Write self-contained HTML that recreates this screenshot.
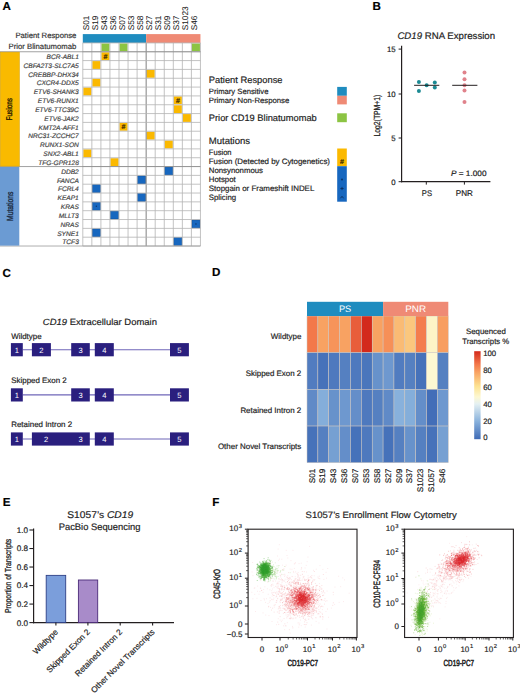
<!DOCTYPE html>
<html><head><meta charset="utf-8"><style>
html,body{margin:0;padding:0;background:#fff;width:520px;height:693px;overflow:hidden}
svg{display:block;font-family:"Liberation Sans", sans-serif;text-rendering:geometricPrecision}
</style></head><body>
<svg width="520" height="693" viewBox="0 0 520 693">
<rect width="520" height="693" fill="#fff"/>
<text x="2.60" y="10.40" font-size="11.6" stroke="#000" stroke-width="0.18" font-weight="bold" fill="#000">A</text>
<text x="372.40" y="10.00" font-size="11.6" stroke="#000" stroke-width="0.18" font-weight="bold" fill="#000">B</text>
<text x="2.60" y="276.50" font-size="11.6" stroke="#000" stroke-width="0.18" font-weight="bold" fill="#000">C</text>
<text x="212.00" y="276.30" font-size="11.6" stroke="#000" stroke-width="0.18" font-weight="bold" fill="#000">D</text>
<text x="2.80" y="505.80" font-size="11.6" stroke="#000" stroke-width="0.18" font-weight="bold" fill="#000">E</text>
<text x="212.20" y="505.60" font-size="11.6" stroke="#000" stroke-width="0.18" font-weight="bold" fill="#000">F</text>
<rect x="82.80" y="34.10" width="63.35" height="8.83" fill="#1f8cbf"/>
<rect x="146.15" y="34.10" width="54.30" height="8.83" fill="#ef8a75"/>
<rect x="101.40" y="43.43" width="8.05" height="7.83" fill="#8cc443"/>
<rect x="119.50" y="43.43" width="8.05" height="7.83" fill="#8cc443"/>
<rect x="191.90" y="43.43" width="8.05" height="7.83" fill="#8cc443"/>
<rect x="101.40" y="52.26" width="8.05" height="7.83" fill="#fbb900"/>
<text x="105.43" y="58.68" font-size="7" stroke="#3b2a00" stroke-width="0.18" text-anchor="middle" font-weight="bold" fill="#3b2a00">#</text>
<rect x="92.35" y="61.09" width="8.05" height="7.83" fill="#fbb900"/>
<rect x="146.65" y="69.92" width="8.05" height="7.83" fill="#fbb900"/>
<rect x="92.35" y="78.75" width="8.05" height="7.83" fill="#fbb900"/>
<rect x="83.30" y="87.58" width="8.05" height="7.83" fill="#fbb900"/>
<rect x="173.80" y="96.41" width="8.05" height="7.83" fill="#fbb900"/>
<text x="177.83" y="102.83" font-size="7" stroke="#3b2a00" stroke-width="0.18" text-anchor="middle" font-weight="bold" fill="#3b2a00">#</text>
<rect x="173.80" y="105.24" width="8.05" height="7.83" fill="#fbb900"/>
<rect x="182.85" y="114.07" width="8.05" height="7.83" fill="#fbb900"/>
<rect x="119.50" y="122.90" width="8.05" height="7.83" fill="#fbb900"/>
<text x="123.53" y="129.31" font-size="7" stroke="#3b2a00" stroke-width="0.18" text-anchor="middle" font-weight="bold" fill="#3b2a00">#</text>
<rect x="146.65" y="131.73" width="8.05" height="7.83" fill="#fbb900"/>
<rect x="164.75" y="140.56" width="8.05" height="7.83" fill="#fbb900"/>
<rect x="83.30" y="149.39" width="8.05" height="7.83" fill="#fbb900"/>
<rect x="110.45" y="158.22" width="8.05" height="7.83" fill="#fbb900"/>
<rect x="164.75" y="167.05" width="8.05" height="7.83" fill="#1767bf" stroke="#0f4f98" stroke-width="0.6"/>
<rect x="137.60" y="175.88" width="8.05" height="7.83" fill="#1767bf" stroke="#0f4f98" stroke-width="0.6"/>
<rect x="92.35" y="184.71" width="8.05" height="7.83" fill="#1767bf" stroke="#0f4f98" stroke-width="0.6"/>
<rect x="137.60" y="193.54" width="8.05" height="7.83" fill="#1767bf" stroke="#0f4f98" stroke-width="0.6"/>
<rect x="92.35" y="202.37" width="8.05" height="7.83" fill="#1767bf" stroke="#0f4f98" stroke-width="0.6"/>
<circle cx="96.38" cy="206.28" r="0.75" fill="#0c3670"/>
<rect x="110.45" y="211.20" width="8.05" height="7.83" fill="#1767bf" stroke="#0f4f98" stroke-width="0.6"/>
<rect x="191.90" y="220.03" width="8.05" height="7.83" fill="#1767bf" stroke="#0f4f98" stroke-width="0.6"/>
<circle cx="195.93" cy="223.94" r="0.75" fill="#0c3670"/>
<rect x="92.35" y="228.86" width="8.05" height="7.83" fill="#1767bf" stroke="#0f4f98" stroke-width="0.6"/>
<rect x="173.80" y="237.69" width="8.05" height="7.83" fill="#1767bf" stroke="#0f4f98" stroke-width="0.6"/>
<line x1="82.80" y1="42.93" x2="82.80" y2="246.02" stroke="#b4b4b4" stroke-width="0.8"/>
<line x1="91.85" y1="42.93" x2="91.85" y2="246.02" stroke="#b4b4b4" stroke-width="0.8"/>
<line x1="100.90" y1="42.93" x2="100.90" y2="246.02" stroke="#b4b4b4" stroke-width="0.8"/>
<line x1="109.95" y1="42.93" x2="109.95" y2="246.02" stroke="#b4b4b4" stroke-width="0.8"/>
<line x1="119.00" y1="42.93" x2="119.00" y2="246.02" stroke="#b4b4b4" stroke-width="0.8"/>
<line x1="128.05" y1="42.93" x2="128.05" y2="246.02" stroke="#b4b4b4" stroke-width="0.8"/>
<line x1="137.10" y1="42.93" x2="137.10" y2="246.02" stroke="#b4b4b4" stroke-width="0.8"/>
<line x1="146.15" y1="42.93" x2="146.15" y2="246.02" stroke="#808080" stroke-width="1.0"/>
<line x1="155.20" y1="42.93" x2="155.20" y2="246.02" stroke="#b4b4b4" stroke-width="0.8"/>
<line x1="164.25" y1="42.93" x2="164.25" y2="246.02" stroke="#b4b4b4" stroke-width="0.8"/>
<line x1="173.30" y1="42.93" x2="173.30" y2="246.02" stroke="#b4b4b4" stroke-width="0.8"/>
<line x1="182.35" y1="42.93" x2="182.35" y2="246.02" stroke="#b4b4b4" stroke-width="0.8"/>
<line x1="191.40" y1="42.93" x2="191.40" y2="246.02" stroke="#b4b4b4" stroke-width="0.8"/>
<line x1="200.45" y1="42.93" x2="200.45" y2="246.02" stroke="#b4b4b4" stroke-width="0.8"/>
<line x1="82.80" y1="42.93" x2="200.45" y2="42.93" stroke="#b4b4b4" stroke-width="0.8"/>
<line x1="82.80" y1="51.76" x2="200.45" y2="51.76" stroke="#b4b4b4" stroke-width="0.8"/>
<line x1="82.80" y1="60.59" x2="200.45" y2="60.59" stroke="#b4b4b4" stroke-width="0.8"/>
<line x1="82.80" y1="69.42" x2="200.45" y2="69.42" stroke="#b4b4b4" stroke-width="0.8"/>
<line x1="82.80" y1="78.25" x2="200.45" y2="78.25" stroke="#b4b4b4" stroke-width="0.8"/>
<line x1="82.80" y1="87.08" x2="200.45" y2="87.08" stroke="#b4b4b4" stroke-width="0.8"/>
<line x1="82.80" y1="95.91" x2="200.45" y2="95.91" stroke="#b4b4b4" stroke-width="0.8"/>
<line x1="82.80" y1="104.74" x2="200.45" y2="104.74" stroke="#b4b4b4" stroke-width="0.8"/>
<line x1="82.80" y1="113.57" x2="200.45" y2="113.57" stroke="#b4b4b4" stroke-width="0.8"/>
<line x1="82.80" y1="122.40" x2="200.45" y2="122.40" stroke="#b4b4b4" stroke-width="0.8"/>
<line x1="82.80" y1="131.23" x2="200.45" y2="131.23" stroke="#b4b4b4" stroke-width="0.8"/>
<line x1="82.80" y1="140.06" x2="200.45" y2="140.06" stroke="#b4b4b4" stroke-width="0.8"/>
<line x1="82.80" y1="148.89" x2="200.45" y2="148.89" stroke="#b4b4b4" stroke-width="0.8"/>
<line x1="82.80" y1="157.72" x2="200.45" y2="157.72" stroke="#b4b4b4" stroke-width="0.8"/>
<line x1="82.80" y1="166.55" x2="200.45" y2="166.55" stroke="#b4b4b4" stroke-width="0.8"/>
<line x1="82.80" y1="175.38" x2="200.45" y2="175.38" stroke="#b4b4b4" stroke-width="0.8"/>
<line x1="82.80" y1="184.21" x2="200.45" y2="184.21" stroke="#b4b4b4" stroke-width="0.8"/>
<line x1="82.80" y1="193.04" x2="200.45" y2="193.04" stroke="#b4b4b4" stroke-width="0.8"/>
<line x1="82.80" y1="201.87" x2="200.45" y2="201.87" stroke="#b4b4b4" stroke-width="0.8"/>
<line x1="82.80" y1="210.70" x2="200.45" y2="210.70" stroke="#b4b4b4" stroke-width="0.8"/>
<line x1="82.80" y1="219.53" x2="200.45" y2="219.53" stroke="#b4b4b4" stroke-width="0.8"/>
<line x1="82.80" y1="228.36" x2="200.45" y2="228.36" stroke="#b4b4b4" stroke-width="0.8"/>
<line x1="82.80" y1="237.19" x2="200.45" y2="237.19" stroke="#b4b4b4" stroke-width="0.8"/>
<line x1="82.80" y1="246.02" x2="200.45" y2="246.02" stroke="#b4b4b4" stroke-width="0.8"/>
<line x1="0.00" y1="51.76" x2="200.45" y2="51.76" stroke="#8a8a8a" stroke-width="0.8"/>
<line x1="0.00" y1="166.55" x2="200.45" y2="166.55" stroke="#8a8a8a" stroke-width="0.8"/>
<line x1="0.00" y1="246.02" x2="200.45" y2="246.02" stroke="#9a9a9a" stroke-width="0.8"/>
<rect x="0.30" y="52.16" width="19.00" height="113.99" fill="#f9ba00" stroke="#d9a200" stroke-width="0.6"/>
<rect x="0.00" y="166.95" width="19.30" height="78.67" fill="#6b9bd3"/>
<text x="12.30" y="109.16" font-size="8.4" text-anchor="middle" fill="#2a2000" textLength="22.5" lengthAdjust="spacingAndGlyphs" transform="rotate(-90 12.30 109.16)" stroke="#2a2000" stroke-width="0.35">Fusions</text>
<text x="12.90" y="206.28" font-size="8.8" text-anchor="middle" fill="#1a2a40" textLength="29.3" lengthAdjust="spacingAndGlyphs" transform="rotate(-90 12.90 206.28)" stroke="#1a2a40" stroke-width="0.35">Mutations</text>
<text x="76.40" y="37.60" font-size="7.7" stroke="#333" stroke-width="0.18" text-anchor="end" fill="#333" textLength="61" lengthAdjust="spacingAndGlyphs">Patient Response</text>
<text x="76.40" y="48.70" font-size="7.7" stroke="#333" stroke-width="0.18" text-anchor="end" fill="#333" textLength="67.9" lengthAdjust="spacingAndGlyphs">Prior Blinatumomab</text>
<text x="78.80" y="58.98" font-size="6.6" stroke="#444" stroke-width="0.18" text-anchor="end" font-style="italic" fill="#444">BCR-ABL1</text>
<text x="78.80" y="67.81" font-size="6.6" stroke="#444" stroke-width="0.18" text-anchor="end" font-style="italic" fill="#444">CBFA2T3-SLC7A5</text>
<text x="78.80" y="76.64" font-size="6.6" stroke="#444" stroke-width="0.18" text-anchor="end" font-style="italic" fill="#444">CREBBP-DHX34</text>
<text x="78.80" y="85.47" font-size="6.6" stroke="#444" stroke-width="0.18" text-anchor="end" font-style="italic" fill="#444">CXCR4-DDX5</text>
<text x="78.80" y="94.30" font-size="6.6" stroke="#444" stroke-width="0.18" text-anchor="end" font-style="italic" fill="#444">ETV6-SHANK3</text>
<text x="78.80" y="103.12" font-size="6.6" stroke="#444" stroke-width="0.18" text-anchor="end" font-style="italic" fill="#444">ETV6-RUNX1</text>
<text x="78.80" y="111.96" font-size="6.6" stroke="#444" stroke-width="0.18" text-anchor="end" font-style="italic" fill="#444">ETV6-TTC39C</text>
<text x="78.80" y="120.78" font-size="6.6" stroke="#444" stroke-width="0.18" text-anchor="end" font-style="italic" fill="#444">ETV6-JAK2</text>
<text x="78.80" y="129.62" font-size="6.6" stroke="#444" stroke-width="0.18" text-anchor="end" font-style="italic" fill="#444">KMT2A-AFF1</text>
<text x="78.80" y="138.44" font-size="6.6" stroke="#444" stroke-width="0.18" text-anchor="end" font-style="italic" fill="#444">NRC31-ZCCHC7</text>
<text x="78.80" y="147.28" font-size="6.6" stroke="#444" stroke-width="0.18" text-anchor="end" font-style="italic" fill="#444">RUNX1-SON</text>
<text x="78.80" y="156.11" font-size="6.6" stroke="#444" stroke-width="0.18" text-anchor="end" font-style="italic" fill="#444">SNX2-ABL1</text>
<text x="78.80" y="164.94" font-size="6.6" stroke="#444" stroke-width="0.18" text-anchor="end" font-style="italic" fill="#444">TFG-GPR128</text>
<text x="78.80" y="173.76" font-size="6.6" stroke="#444" stroke-width="0.18" text-anchor="end" font-style="italic" fill="#444">DDB2</text>
<text x="78.80" y="182.59" font-size="6.6" stroke="#444" stroke-width="0.18" text-anchor="end" font-style="italic" fill="#444">FANCA</text>
<text x="78.80" y="191.43" font-size="6.6" stroke="#444" stroke-width="0.18" text-anchor="end" font-style="italic" fill="#444">FCRL4</text>
<text x="78.80" y="200.25" font-size="6.6" stroke="#444" stroke-width="0.18" text-anchor="end" font-style="italic" fill="#444">KEAP1</text>
<text x="78.80" y="209.09" font-size="6.6" stroke="#444" stroke-width="0.18" text-anchor="end" font-style="italic" fill="#444">KRAS</text>
<text x="78.80" y="217.91" font-size="6.6" stroke="#444" stroke-width="0.18" text-anchor="end" font-style="italic" fill="#444">MLLT3</text>
<text x="78.80" y="226.75" font-size="6.6" stroke="#444" stroke-width="0.18" text-anchor="end" font-style="italic" fill="#444">NRAS</text>
<text x="78.80" y="235.57" font-size="6.6" stroke="#444" stroke-width="0.18" text-anchor="end" font-style="italic" fill="#444">SYNE1</text>
<text x="78.80" y="244.41" font-size="6.6" stroke="#444" stroke-width="0.18" text-anchor="end" font-style="italic" fill="#444">TCF3</text>
<text x="88.83" y="30.30" font-size="8.3" stroke="#222" stroke-width="0.05" fill="#222" transform="rotate(-90 88.83 30.30)">S01</text>
<text x="97.88" y="30.30" font-size="8.3" stroke="#222" stroke-width="0.05" fill="#222" transform="rotate(-90 97.88 30.30)">S19</text>
<text x="106.93" y="30.30" font-size="8.3" stroke="#222" stroke-width="0.05" fill="#222" transform="rotate(-90 106.93 30.30)">S43</text>
<text x="115.98" y="30.30" font-size="8.3" stroke="#222" stroke-width="0.05" fill="#222" transform="rotate(-90 115.98 30.30)">S36</text>
<text x="125.03" y="30.30" font-size="8.3" stroke="#222" stroke-width="0.05" fill="#222" transform="rotate(-90 125.03 30.30)">S07</text>
<text x="134.08" y="30.30" font-size="8.3" stroke="#222" stroke-width="0.05" fill="#222" transform="rotate(-90 134.08 30.30)">S53</text>
<text x="143.12" y="30.30" font-size="8.3" stroke="#222" stroke-width="0.05" fill="#222" transform="rotate(-90 143.12 30.30)">S58</text>
<text x="152.18" y="30.30" font-size="8.3" stroke="#222" stroke-width="0.05" fill="#222" transform="rotate(-90 152.18 30.30)">S27</text>
<text x="161.22" y="30.30" font-size="8.3" stroke="#222" stroke-width="0.05" fill="#222" transform="rotate(-90 161.22 30.30)">S31</text>
<text x="170.28" y="30.30" font-size="8.3" stroke="#222" stroke-width="0.05" fill="#222" transform="rotate(-90 170.28 30.30)">S09</text>
<text x="179.33" y="30.30" font-size="8.3" stroke="#222" stroke-width="0.05" fill="#222" transform="rotate(-90 179.33 30.30)">S37</text>
<text x="188.38" y="30.30" font-size="8.3" stroke="#222" stroke-width="0.05" fill="#222" transform="rotate(-90 188.38 30.30)">S1023</text>
<text x="197.43" y="30.30" font-size="8.3" stroke="#222" stroke-width="0.05" fill="#222" transform="rotate(-90 197.43 30.30)">S46</text>
<text x="208.80" y="83.10" font-size="9.3" stroke="#222" stroke-width="0.18" fill="#222" textLength="73.7" lengthAdjust="spacingAndGlyphs">Patient Response</text>
<text x="208.80" y="93.80" font-size="7.7" stroke="#222" stroke-width="0.18" fill="#222" textLength="59.6" lengthAdjust="spacingAndGlyphs">Primary Sensitive</text>
<text x="208.80" y="102.50" font-size="7.7" stroke="#222" stroke-width="0.18" fill="#222" textLength="80.5" lengthAdjust="spacingAndGlyphs">Primary Non-Response</text>
<text x="208.80" y="120.50" font-size="9.3" stroke="#222" stroke-width="0.18" fill="#222" textLength="108" lengthAdjust="spacingAndGlyphs">Prior CD19 Blinatumomab</text>
<text x="208.80" y="144.10" font-size="9.5" stroke="#222" stroke-width="0.18" fill="#222" textLength="41.3" lengthAdjust="spacingAndGlyphs">Mutations</text>
<text x="208.80" y="155.40" font-size="7.8" stroke="#222" stroke-width="0.18" fill="#222" textLength="22.8" lengthAdjust="spacingAndGlyphs">Fusion</text>
<text x="208.80" y="164.27" font-size="7.8" stroke="#222" stroke-width="0.18" fill="#222" textLength="121.2" lengthAdjust="spacingAndGlyphs">Fusion (Detected by Cytogenetics)</text>
<text x="208.80" y="173.14" font-size="7.8" stroke="#222" stroke-width="0.18" fill="#222">Nonsynonmous</text>
<text x="208.80" y="182.01" font-size="7.8" stroke="#222" stroke-width="0.18" fill="#222">Hotspot</text>
<text x="208.80" y="190.88" font-size="7.8" stroke="#222" stroke-width="0.18" fill="#222" textLength="105.5" lengthAdjust="spacingAndGlyphs">Stopgain or Frameshift INDEL</text>
<text x="208.80" y="199.75" font-size="7.8" stroke="#222" stroke-width="0.18" fill="#222">Splicing</text>
<rect x="337.20" y="86.90" width="9.60" height="8.90" fill="#1f8cbf"/>
<rect x="337.20" y="95.80" width="9.60" height="8.60" fill="#ef8a75"/>
<rect x="337.20" y="113.30" width="9.60" height="8.90" fill="#8cc443"/>
<rect x="337.20" y="148.50" width="9.60" height="17.70" fill="#fbb900"/>
<text x="342.00" y="164.30" font-size="7" stroke="#3b2a00" stroke-width="0.18" text-anchor="middle" font-weight="bold" fill="#3b2a00">#</text>
<rect x="337.20" y="166.20" width="9.60" height="35.50" fill="#1767bf"/>
<circle cx="342.00" cy="179.5" r="0.9" fill="#0a2f60"/>
<path d="M340.40 188.5h3.2M342.00 186.9v3.2" stroke="#0a2f60" stroke-width="0.9" fill="none"/>
<path d="M340.40 198.3l1.6-2l1.6 2" stroke="#0a2f60" stroke-width="0.9" fill="none"/>
<text x="397.40" y="39.00" font-size="9.6" stroke="#222" stroke-width="0.18" fill="#222" textLength="97.7" lengthAdjust="spacingAndGlyphs"><tspan font-style="italic">CD19</tspan> RNA Expression</text>
<line x1="401.60" y1="45.80" x2="401.60" y2="182.20" stroke="#231f20" stroke-width="1.2"/>
<line x1="401.00" y1="181.60" x2="490.40" y2="181.60" stroke="#231f20" stroke-width="1.2"/>
<line x1="398.60" y1="181.70" x2="401.60" y2="181.70" stroke="#231f20" stroke-width="1"/>
<text x="395.60" y="184.50" font-size="7.8" stroke="#222" stroke-width="0.18" text-anchor="end" fill="#222">0</text>
<line x1="398.60" y1="138.00" x2="401.60" y2="138.00" stroke="#231f20" stroke-width="1"/>
<text x="395.60" y="140.80" font-size="7.8" stroke="#222" stroke-width="0.18" text-anchor="end" fill="#222">5</text>
<line x1="398.60" y1="94.00" x2="401.60" y2="94.00" stroke="#231f20" stroke-width="1"/>
<text x="395.60" y="96.80" font-size="7.8" stroke="#222" stroke-width="0.18" text-anchor="end" fill="#222">10</text>
<line x1="398.60" y1="49.10" x2="401.60" y2="49.10" stroke="#231f20" stroke-width="1"/>
<text x="395.60" y="51.90" font-size="7.8" stroke="#222" stroke-width="0.18" text-anchor="end" fill="#222">15</text>
<line x1="426.30" y1="181.80" x2="426.30" y2="184.60" stroke="#231f20" stroke-width="1"/>
<line x1="464.40" y1="181.80" x2="464.40" y2="184.60" stroke="#231f20" stroke-width="1"/>
<text x="426.90" y="195.70" font-size="8.2" stroke="#222" stroke-width="0.18" text-anchor="middle" fill="#222" textLength="10.2" lengthAdjust="spacingAndGlyphs">PS</text>
<text x="464.35" y="195.70" font-size="8.2" stroke="#222" stroke-width="0.18" text-anchor="middle" fill="#222" textLength="17.1" lengthAdjust="spacingAndGlyphs">PNR</text>
<text x="450.90" y="176.40" font-size="7.8" stroke="#222" stroke-width="0.18" fill="#222" textLength="35.6" lengthAdjust="spacingAndGlyphs"><tspan font-style="italic">P</tspan> = 1.000</text>
<text x="379.60" y="115.60" font-size="8.8" text-anchor="middle" fill="#222" textLength="42" lengthAdjust="spacingAndGlyphs" transform="rotate(-90 379.60 115.60)" stroke="#222" stroke-width="0.25">Log2(TPM+1)</text>
<circle cx="418.9" cy="82.1" r="2.0" fill="#1c8a93"/>
<circle cx="418.9" cy="91.1" r="2.0" fill="#1c8a93"/>
<circle cx="426.65" cy="85.3" r="2.0" fill="#1c8a93"/>
<circle cx="434.8" cy="82.4" r="2.0" fill="#1c8a93"/>
<circle cx="434.8" cy="87.6" r="2.0" fill="#1c8a93"/>
<circle cx="464.5" cy="72.4" r="2.0" fill="#e0828b"/>
<circle cx="464.5" cy="79.3" r="2.0" fill="#e0828b"/>
<circle cx="464.5" cy="85.3" r="2.0" fill="#e0828b"/>
<circle cx="464.5" cy="90.5" r="2.0" fill="#e0828b"/>
<circle cx="464.5" cy="102.0" r="2.0" fill="#e0828b"/>
<line x1="414.10" y1="85.30" x2="439.30" y2="85.30" stroke="#231f20" stroke-width="1.0"/>
<line x1="452.20" y1="85.30" x2="477.40" y2="85.30" stroke="#231f20" stroke-width="1.0"/>
<text x="42.80" y="325.30" font-size="9.0" stroke="#222" stroke-width="0.18" fill="#222" textLength="114.2" lengthAdjust="spacingAndGlyphs"><tspan font-style="italic">CD19</tspan> Extracellular Domain</text>
<text x="11.20" y="338.60" font-size="7.95" stroke="#222" stroke-width="0.18" fill="#222">Wildtype</text>
<line x1="22.80" y1="349.70" x2="170.00" y2="349.70" stroke="#6f66b8" stroke-width="1.1"/>
<rect x="10.90" y="343.10" width="11.90" height="13.20" fill="#2a1f7e"/>
<text x="16.85" y="352.50" font-size="7.6" text-anchor="middle" fill="#fff">1</text>
<rect x="31.90" y="343.10" width="19.00" height="13.20" fill="#2a1f7e"/>
<text x="41.40" y="352.50" font-size="7.6" text-anchor="middle" fill="#fff">2</text>
<rect x="71.20" y="343.10" width="18.60" height="13.20" fill="#2a1f7e"/>
<text x="80.50" y="352.50" font-size="7.6" text-anchor="middle" fill="#fff">3</text>
<rect x="94.80" y="343.10" width="19.00" height="13.20" fill="#2a1f7e"/>
<text x="104.30" y="352.50" font-size="7.6" text-anchor="middle" fill="#fff">4</text>
<rect x="170.00" y="343.10" width="18.90" height="13.20" fill="#2a1f7e"/>
<text x="179.45" y="352.50" font-size="7.6" text-anchor="middle" fill="#fff">5</text>
<text x="11.20" y="382.60" font-size="7.95" stroke="#222" stroke-width="0.18" fill="#222">Skipped Exon 2</text>
<line x1="22.80" y1="394.90" x2="170.00" y2="394.90" stroke="#6f66b8" stroke-width="1.1"/>
<rect x="10.90" y="388.30" width="11.90" height="13.20" fill="#2a1f7e"/>
<text x="16.85" y="397.70" font-size="7.6" text-anchor="middle" fill="#fff">1</text>
<rect x="71.20" y="388.30" width="18.60" height="13.20" fill="#2a1f7e"/>
<text x="80.50" y="397.70" font-size="7.6" text-anchor="middle" fill="#fff">3</text>
<rect x="94.80" y="388.30" width="19.00" height="13.20" fill="#2a1f7e"/>
<text x="104.30" y="397.70" font-size="7.6" text-anchor="middle" fill="#fff">4</text>
<rect x="170.00" y="388.30" width="18.90" height="13.20" fill="#2a1f7e"/>
<text x="179.45" y="397.70" font-size="7.6" text-anchor="middle" fill="#fff">5</text>
<text x="11.20" y="427.20" font-size="7.95" stroke="#222" stroke-width="0.18" fill="#222">Retained Intron 2</text>
<line x1="22.80" y1="439.00" x2="170.00" y2="439.00" stroke="#6f66b8" stroke-width="1.1"/>
<rect x="10.90" y="432.40" width="11.90" height="13.20" fill="#2a1f7e"/>
<text x="16.85" y="441.80" font-size="7.6" text-anchor="middle" fill="#fff">1</text>
<rect x="31.90" y="432.40" width="57.90" height="13.20" fill="#2a1f7e"/>
<text x="46.20" y="441.80" font-size="7.6" text-anchor="middle" fill="#fff">2</text>
<text x="80.50" y="441.80" font-size="7.6" text-anchor="middle" fill="#fff">3</text>
<rect x="94.80" y="432.40" width="19.00" height="13.20" fill="#2a1f7e"/>
<text x="104.30" y="441.80" font-size="7.6" text-anchor="middle" fill="#fff">4</text>
<rect x="170.00" y="432.40" width="18.90" height="13.20" fill="#2a1f7e"/>
<text x="179.45" y="441.80" font-size="7.6" text-anchor="middle" fill="#fff">5</text>
<rect x="307.00" y="316.00" width="10.87" height="36.68" fill="#f3784a" stroke="#cdc6c0" stroke-width="0.5"/>
<rect x="317.87" y="316.00" width="10.87" height="36.68" fill="#f8a262" stroke="#cdc6c0" stroke-width="0.5"/>
<rect x="328.74" y="316.00" width="10.87" height="36.68" fill="#f7945a" stroke="#cdc6c0" stroke-width="0.5"/>
<rect x="339.61" y="316.00" width="10.87" height="36.68" fill="#f8a262" stroke="#cdc6c0" stroke-width="0.5"/>
<rect x="350.48" y="316.00" width="10.87" height="36.68" fill="#e85e3b" stroke="#cdc6c0" stroke-width="0.5"/>
<rect x="361.35" y="316.00" width="10.87" height="36.68" fill="#d3291c" stroke="#cdc6c0" stroke-width="0.5"/>
<rect x="372.22" y="316.00" width="10.87" height="36.68" fill="#f8a262" stroke="#cdc6c0" stroke-width="0.5"/>
<rect x="383.09" y="316.00" width="10.87" height="36.68" fill="#f69058" stroke="#cdc6c0" stroke-width="0.5"/>
<rect x="393.96" y="316.00" width="10.87" height="36.68" fill="#fabb74" stroke="#cdc6c0" stroke-width="0.5"/>
<rect x="404.83" y="316.00" width="10.87" height="36.68" fill="#fbc77d" stroke="#cdc6c0" stroke-width="0.5"/>
<rect x="415.70" y="316.00" width="10.87" height="36.68" fill="#f47d4d" stroke="#cdc6c0" stroke-width="0.5"/>
<rect x="426.57" y="316.00" width="10.87" height="36.68" fill="#fdf4c7" stroke="#cdc6c0" stroke-width="0.5"/>
<rect x="437.44" y="316.00" width="10.87" height="36.68" fill="#f89e60" stroke="#cdc6c0" stroke-width="0.5"/>
<rect x="307.00" y="352.68" width="10.87" height="36.68" fill="#517cc0" stroke="#cdc6c0" stroke-width="0.5"/>
<rect x="317.87" y="352.68" width="10.87" height="36.68" fill="#4672ba" stroke="#cdc6c0" stroke-width="0.5"/>
<rect x="328.74" y="352.68" width="10.87" height="36.68" fill="#4e79be" stroke="#cdc6c0" stroke-width="0.5"/>
<rect x="339.61" y="352.68" width="10.87" height="36.68" fill="#5580c1" stroke="#cdc6c0" stroke-width="0.5"/>
<rect x="350.48" y="352.68" width="10.87" height="36.68" fill="#4e79be" stroke="#cdc6c0" stroke-width="0.5"/>
<rect x="361.35" y="352.68" width="10.87" height="36.68" fill="#4a76bc" stroke="#cdc6c0" stroke-width="0.5"/>
<rect x="372.22" y="352.68" width="10.87" height="36.68" fill="#6792cb" stroke="#cdc6c0" stroke-width="0.5"/>
<rect x="383.09" y="352.68" width="10.87" height="36.68" fill="#6e98cf" stroke="#cdc6c0" stroke-width="0.5"/>
<rect x="393.96" y="352.68" width="10.87" height="36.68" fill="#517cc0" stroke="#cdc6c0" stroke-width="0.5"/>
<rect x="404.83" y="352.68" width="10.87" height="36.68" fill="#5580c1" stroke="#cdc6c0" stroke-width="0.5"/>
<rect x="415.70" y="352.68" width="10.87" height="36.68" fill="#4672ba" stroke="#cdc6c0" stroke-width="0.5"/>
<rect x="426.57" y="352.68" width="10.87" height="36.68" fill="#fdf8d2" stroke="#cdc6c0" stroke-width="0.5"/>
<rect x="437.44" y="352.68" width="10.87" height="36.68" fill="#5580c1" stroke="#cdc6c0" stroke-width="0.5"/>
<rect x="307.00" y="389.36" width="10.87" height="36.68" fill="#608ac7" stroke="#cdc6c0" stroke-width="0.5"/>
<rect x="317.87" y="389.36" width="10.87" height="36.68" fill="#84aeda" stroke="#cdc6c0" stroke-width="0.5"/>
<rect x="328.74" y="389.36" width="10.87" height="36.68" fill="#6792cb" stroke="#cdc6c0" stroke-width="0.5"/>
<rect x="339.61" y="389.36" width="10.87" height="36.68" fill="#6e98cf" stroke="#cdc6c0" stroke-width="0.5"/>
<rect x="350.48" y="389.36" width="10.87" height="36.68" fill="#648ec9" stroke="#cdc6c0" stroke-width="0.5"/>
<rect x="361.35" y="389.36" width="10.87" height="36.68" fill="#4e79be" stroke="#cdc6c0" stroke-width="0.5"/>
<rect x="372.22" y="389.36" width="10.87" height="36.68" fill="#5580c1" stroke="#cdc6c0" stroke-width="0.5"/>
<rect x="383.09" y="389.36" width="10.87" height="36.68" fill="#608ac7" stroke="#cdc6c0" stroke-width="0.5"/>
<rect x="393.96" y="389.36" width="10.87" height="36.68" fill="#88b1dc" stroke="#cdc6c0" stroke-width="0.5"/>
<rect x="404.83" y="389.36" width="10.87" height="36.68" fill="#84aeda" stroke="#cdc6c0" stroke-width="0.5"/>
<rect x="415.70" y="389.36" width="10.87" height="36.68" fill="#648ec9" stroke="#cdc6c0" stroke-width="0.5"/>
<rect x="426.57" y="389.36" width="10.87" height="36.68" fill="#436eb8" stroke="#cdc6c0" stroke-width="0.5"/>
<rect x="437.44" y="389.36" width="10.87" height="36.68" fill="#6e98cf" stroke="#cdc6c0" stroke-width="0.5"/>
<rect x="307.00" y="426.04" width="10.87" height="36.68" fill="#4672ba" stroke="#cdc6c0" stroke-width="0.5"/>
<rect x="317.87" y="426.04" width="10.87" height="36.68" fill="#5580c1" stroke="#cdc6c0" stroke-width="0.5"/>
<rect x="328.74" y="426.04" width="10.87" height="36.68" fill="#76a0d2" stroke="#cdc6c0" stroke-width="0.5"/>
<rect x="339.61" y="426.04" width="10.87" height="36.68" fill="#648ec9" stroke="#cdc6c0" stroke-width="0.5"/>
<rect x="350.48" y="426.04" width="10.87" height="36.68" fill="#4672ba" stroke="#cdc6c0" stroke-width="0.5"/>
<rect x="361.35" y="426.04" width="10.87" height="36.68" fill="#4e79be" stroke="#cdc6c0" stroke-width="0.5"/>
<rect x="372.22" y="426.04" width="10.87" height="36.68" fill="#6792cb" stroke="#cdc6c0" stroke-width="0.5"/>
<rect x="383.09" y="426.04" width="10.87" height="36.68" fill="#4672ba" stroke="#cdc6c0" stroke-width="0.5"/>
<rect x="393.96" y="426.04" width="10.87" height="36.68" fill="#5580c1" stroke="#cdc6c0" stroke-width="0.5"/>
<rect x="404.83" y="426.04" width="10.87" height="36.68" fill="#6792cb" stroke="#cdc6c0" stroke-width="0.5"/>
<rect x="415.70" y="426.04" width="10.87" height="36.68" fill="#5580c1" stroke="#cdc6c0" stroke-width="0.5"/>
<rect x="426.57" y="426.04" width="10.87" height="36.68" fill="#4672ba" stroke="#cdc6c0" stroke-width="0.5"/>
<rect x="437.44" y="426.04" width="10.87" height="36.68" fill="#76a0d2" stroke="#cdc6c0" stroke-width="0.5"/>
<rect x="307.00" y="301.80" width="76.09" height="14.20" fill="#1f8cbf"/>
<rect x="383.09" y="301.80" width="65.22" height="14.20" fill="#ef8a75"/>
<text x="345.05" y="311.90" font-size="9.4" text-anchor="middle" fill="#fff" textLength="12.3" lengthAdjust="spacingAndGlyphs">PS</text>
<text x="415.70" y="311.90" font-size="9.4" text-anchor="middle" fill="#fff" textLength="20.9" lengthAdjust="spacingAndGlyphs">PNR</text>
<text x="301.30" y="339.24" font-size="7.95" stroke="#222" stroke-width="0.18" text-anchor="end" fill="#222">Wildtype</text>
<text x="301.30" y="375.92" font-size="7.95" stroke="#222" stroke-width="0.18" text-anchor="end" fill="#222">Skipped Exon 2</text>
<text x="301.30" y="412.60" font-size="7.95" stroke="#222" stroke-width="0.18" text-anchor="end" fill="#222">Retained Intron 2</text>
<text x="301.30" y="449.28" font-size="7.95" stroke="#222" stroke-width="0.18" text-anchor="end" fill="#222">Other Novel Transcripts</text>
<text x="314.63" y="468.60" font-size="8.2" stroke="#222" stroke-width="0.18" text-anchor="end" fill="#222" transform="rotate(-90 314.63 468.60)">S01</text>
<text x="325.50" y="468.60" font-size="8.2" stroke="#222" stroke-width="0.18" text-anchor="end" fill="#222" transform="rotate(-90 325.50 468.60)">S19</text>
<text x="336.38" y="468.60" font-size="8.2" stroke="#222" stroke-width="0.18" text-anchor="end" fill="#222" transform="rotate(-90 336.38 468.60)">S43</text>
<text x="347.25" y="468.60" font-size="8.2" stroke="#222" stroke-width="0.18" text-anchor="end" fill="#222" transform="rotate(-90 347.25 468.60)">S36</text>
<text x="358.12" y="468.60" font-size="8.2" stroke="#222" stroke-width="0.18" text-anchor="end" fill="#222" transform="rotate(-90 358.12 468.60)">S07</text>
<text x="368.99" y="468.60" font-size="8.2" stroke="#222" stroke-width="0.18" text-anchor="end" fill="#222" transform="rotate(-90 368.99 468.60)">S53</text>
<text x="379.86" y="468.60" font-size="8.2" stroke="#222" stroke-width="0.18" text-anchor="end" fill="#222" transform="rotate(-90 379.86 468.60)">S58</text>
<text x="390.72" y="468.60" font-size="8.2" stroke="#222" stroke-width="0.18" text-anchor="end" fill="#222" transform="rotate(-90 390.72 468.60)">S27</text>
<text x="401.59" y="468.60" font-size="8.2" stroke="#222" stroke-width="0.18" text-anchor="end" fill="#222" transform="rotate(-90 401.59 468.60)">S09</text>
<text x="412.46" y="468.60" font-size="8.2" stroke="#222" stroke-width="0.18" text-anchor="end" fill="#222" transform="rotate(-90 412.46 468.60)">S37</text>
<text x="423.33" y="468.60" font-size="8.2" stroke="#222" stroke-width="0.18" text-anchor="end" fill="#222" transform="rotate(-90 423.33 468.60)">S1023</text>
<text x="434.20" y="468.60" font-size="8.2" stroke="#222" stroke-width="0.18" text-anchor="end" fill="#222" transform="rotate(-90 434.20 468.60)">S1057</text>
<text x="445.07" y="468.60" font-size="8.2" stroke="#222" stroke-width="0.18" text-anchor="end" fill="#222" transform="rotate(-90 445.07 468.60)">S46</text>
<text x="485.90" y="334.40" font-size="7.9" stroke="#222" stroke-width="0.18" text-anchor="middle" fill="#222" textLength="39.8" lengthAdjust="spacingAndGlyphs">Sequenced</text>
<text x="485.70" y="343.60" font-size="7.9" stroke="#222" stroke-width="0.18" text-anchor="middle" fill="#222" textLength="47" lengthAdjust="spacingAndGlyphs">Transcripts %</text>
<defs><linearGradient id="cb" x1="0" y1="1" x2="0" y2="0"><stop offset="0.00" stop-color="#3f6bb6"/><stop offset="0.20" stop-color="#88b1dc"/><stop offset="0.40" stop-color="#e4f0f2"/><stop offset="0.48" stop-color="#fdf8d2"/><stop offset="0.60" stop-color="#fde392"/><stop offset="0.75" stop-color="#f9a765"/><stop offset="0.85" stop-color="#f3784a"/><stop offset="1.00" stop-color="#d3291c"/></linearGradient></defs>
<rect x="474.20" y="351.20" width="6.40" height="88.00" fill="url(#cb)"/>
<text x="483.20" y="356.30" font-size="7.8" stroke="#222" stroke-width="0.18" fill="#222">100</text>
<text x="483.20" y="373.10" font-size="7.8" stroke="#222" stroke-width="0.18" fill="#222">80</text>
<text x="483.20" y="389.90" font-size="7.8" stroke="#222" stroke-width="0.18" fill="#222">60</text>
<text x="483.20" y="406.70" font-size="7.8" stroke="#222" stroke-width="0.18" fill="#222">40</text>
<text x="483.20" y="423.50" font-size="7.8" stroke="#222" stroke-width="0.18" fill="#222">20</text>
<text x="483.20" y="440.30" font-size="7.8" stroke="#222" stroke-width="0.18" fill="#222">0</text>
<text x="100.20" y="517.70" font-size="9.8" stroke="#222" stroke-width="0.18" text-anchor="middle" fill="#222" textLength="65.8" lengthAdjust="spacingAndGlyphs">S1057’s <tspan font-style="italic">CD19</tspan></text>
<text x="99.55" y="529.80" font-size="9.4" stroke="#222" stroke-width="0.18" text-anchor="middle" fill="#222" textLength="81.7" lengthAdjust="spacingAndGlyphs">PacBio Sequencing</text>
<line x1="33.60" y1="528.60" x2="33.60" y2="623.20" stroke="#231f20" stroke-width="1.2"/>
<line x1="33.00" y1="622.60" x2="174.00" y2="622.60" stroke="#231f20" stroke-width="1.2"/>
<line x1="29.40" y1="622.60" x2="33.60" y2="622.60" stroke="#231f20" stroke-width="1.1"/>
<text x="27.90" y="625.50" font-size="8.1" stroke="#222" stroke-width="0.18" text-anchor="end" fill="#222">0.0</text>
<line x1="29.40" y1="604.08" x2="33.60" y2="604.08" stroke="#231f20" stroke-width="1.1"/>
<text x="27.90" y="606.98" font-size="8.1" stroke="#222" stroke-width="0.18" text-anchor="end" fill="#222">0.2</text>
<line x1="29.40" y1="585.56" x2="33.60" y2="585.56" stroke="#231f20" stroke-width="1.1"/>
<text x="27.90" y="588.46" font-size="8.1" stroke="#222" stroke-width="0.18" text-anchor="end" fill="#222">0.4</text>
<line x1="29.40" y1="567.04" x2="33.60" y2="567.04" stroke="#231f20" stroke-width="1.1"/>
<text x="27.90" y="569.94" font-size="8.1" stroke="#222" stroke-width="0.18" text-anchor="end" fill="#222">0.6</text>
<line x1="29.40" y1="548.52" x2="33.60" y2="548.52" stroke="#231f20" stroke-width="1.1"/>
<text x="27.90" y="551.42" font-size="8.1" stroke="#222" stroke-width="0.18" text-anchor="end" fill="#222">0.8</text>
<line x1="29.40" y1="530.00" x2="33.60" y2="530.00" stroke="#231f20" stroke-width="1.1"/>
<text x="27.90" y="532.90" font-size="8.1" stroke="#222" stroke-width="0.18" text-anchor="end" fill="#222">1.0</text>
<rect x="46.20" y="575.37" width="19.50" height="47.23" fill="#7b9edb" stroke="#2c3f86" stroke-width="0.9"/>
<rect x="78.40" y="580.00" width="19.30" height="42.60" fill="#a88bc9" stroke="#4a2a78" stroke-width="0.9"/>
<line x1="55.90" y1="622.60" x2="55.90" y2="625.60" stroke="#231f20" stroke-width="1.1"/>
<line x1="87.90" y1="622.60" x2="87.90" y2="625.60" stroke="#231f20" stroke-width="1.1"/>
<line x1="120.20" y1="622.60" x2="120.20" y2="625.60" stroke="#231f20" stroke-width="1.1"/>
<line x1="152.60" y1="622.60" x2="152.60" y2="625.60" stroke="#231f20" stroke-width="1.1"/>
<text x="10.90" y="575.90" font-size="8.6" text-anchor="middle" fill="#222" textLength="74.3" lengthAdjust="spacingAndGlyphs" transform="rotate(-90 10.90 575.90)" stroke="#222" stroke-width="0.3">Proportion of Transcripts</text>
<text x="58.40" y="632.60" font-size="8.2" stroke="#222" stroke-width="0.18" text-anchor="end" fill="#222" transform="rotate(-45 58.40 632.60)">Wildtype</text>
<text x="90.40" y="632.60" font-size="8.2" stroke="#222" stroke-width="0.18" text-anchor="end" fill="#222" transform="rotate(-45 90.40 632.60)">Skipped Exon 2</text>
<text x="122.70" y="632.60" font-size="8.2" stroke="#222" stroke-width="0.18" text-anchor="end" fill="#222" transform="rotate(-45 122.70 632.60)">Retained Intron 2</text>
<text x="155.10" y="632.60" font-size="8.2" stroke="#222" stroke-width="0.18" text-anchor="end" fill="#222" transform="rotate(-45 155.10 632.60)">Other Novel Transcripts</text>
<text x="305.60" y="518.20" font-size="9.2" stroke="#222" stroke-width="0.18" fill="#222" textLength="151.2" lengthAdjust="spacingAndGlyphs">S1057’s Enrollment Flow Cytometry</text>
<path d="M284.5 596.1h0.9M290.5 586.2h0.9M278.7 581.4h0.9M306.7 606.8h0.9M306.7 604.0h0.9M297.0 597.7h0.9M259.9 588.1h0.9M296.7 602.5h0.9M277.0 556.0h0.9M281.1 578.6h0.9M297.1 594.1h0.9M304.5 588.6h0.9M294.2 599.5h0.9M270.0 607.4h0.9M292.8 611.5h0.9M287.2 577.6h0.9M287.3 587.7h0.9M300.3 600.5h0.9M291.4 576.4h0.9M275.6 602.5h0.9M277.6 588.0h0.9M308.7 577.4h0.9M284.0 608.5h0.9M262.3 570.7h0.9M295.8 581.0h0.9M300.3 595.5h0.9M263.3 589.5h0.9M296.2 609.4h0.9M312.3 608.9h0.9M302.6 577.1h0.9M305.8 589.8h0.9M293.3 572.6h0.9M280.3 577.1h0.9M326.0 578.2h0.9M267.4 582.4h0.9M310.9 611.6h0.9M278.9 544.7h0.9M302.6 586.0h0.9M267.8 594.3h0.9M308.3 603.4h0.9M293.0 599.5h0.9M313.0 613.4h0.9M296.5 603.2h0.9M258.6 594.2h0.9M303.5 606.7h0.9M265.1 567.2h0.9M317.5 577.0h0.9M282.3 602.9h0.9M260.5 600.5h0.9M301.7 594.9h0.9M292.8 602.8h0.9M286.2 607.1h0.9M284.3 581.2h0.9M308.3 601.3h0.9M271.7 596.0h0.9M318.1 599.2h0.9M271.1 578.4h0.9M291.6 587.1h0.9M321.1 591.5h0.9M320.4 587.3h0.9M275.3 593.0h0.9M304.1 612.3h0.9M296.5 596.7h0.9M290.5 600.4h0.9M287.4 593.9h0.9M301.0 597.0h0.9M300.3 605.5h0.9M321.6 613.3h0.9M287.7 583.7h0.9M285.6 603.2h0.9M284.1 593.8h0.9M338.2 576.3h0.9M272.6 585.3h0.9M296.7 598.4h0.9M280.8 596.3h0.9M300.0 588.0h0.9M328.0 617.3h0.9M283.9 586.0h0.9M288.9 589.3h0.9M252.2 562.5h0.9M315.8 586.3h0.9M284.5 603.1h0.9M295.5 617.7h0.9M267.5 573.0h0.9M282.4 596.7h0.9M327.3 568.5h0.9M318.9 583.6h0.9M312.8 579.6h0.9M286.8 608.2h0.9M288.4 593.1h0.9M303.6 600.6h0.9M280.3 610.1h0.9M310.5 597.4h0.9M343.1 601.6h0.9M308.2 596.6h0.9M289.4 601.8h0.9M291.2 601.8h0.9M278.0 560.3h0.9M308.2 585.5h0.9M285.7 565.1h0.9M307.0 612.1h0.9M321.6 593.2h0.9M299.7 578.0h0.9M293.4 618.1h0.9M267.5 603.5h0.9M308.8 598.3h0.9M251.4 592.3h0.9M294.5 583.8h0.9M295.6 600.5h0.9M322.5 592.4h0.9M300.0 620.1h0.9M316.2 602.3h0.9M273.4 598.1h0.9M293.0 594.5h0.9M316.3 601.1h0.9M258.3 567.4h0.9M257.2 586.1h0.9M301.1 587.2h0.9M286.3 602.1h0.9M284.3 609.0h0.9M284.0 604.3h0.9M304.8 624.7h0.9M275.5 597.0h0.9M269.6 562.5h0.9M253.8 588.2h0.9M272.6 581.2h0.9M289.2 590.0h0.9M281.1 589.8h0.9M320.0 608.0h0.9M293.7 608.9h0.9M297.3 574.8h0.9M276.0 600.4h0.9M270.0 570.4h0.9M302.6 610.4h0.9M286.7 602.0h0.9M302.5 578.9h0.9M271.6 570.7h0.9M310.4 593.0h0.9M282.9 574.7h0.9M268.6 577.3h0.9M270.9 586.3h0.9M252.5 575.7h0.9M294.9 562.6h0.9M305.3 594.9h0.9M262.6 562.0h0.9M299.7 588.9h0.9M299.3 607.9h0.9M300.3 601.8h0.9M308.6 611.6h0.9M313.1 570.3h0.9M297.4 615.8h0.9M290.5 583.7h0.9M334.5 587.1h0.9M283.1 625.8h0.9M272.7 592.5h0.9M322.6 606.8h0.9M294.8 607.9h0.9M278.3 583.1h0.9M291.1 604.7h0.9M292.8 589.3h0.9M278.4 578.8h0.9M305.4 600.9h0.9M284.2 574.3h0.9M326.5 629.0h0.9M319.5 565.6h0.9M298.6 603.3h0.9M315.7 611.8h0.9M287.4 597.8h0.9M254.4 587.9h0.9M301.8 586.2h0.9M300.8 625.7h0.9M274.3 571.7h0.9M295.4 596.8h0.9M292.2 576.6h0.9M318.5 623.0h0.9M282.2 565.2h0.9M312.3 618.9h0.9M315.3 617.7h0.9M276.5 587.7h0.9M262.9 564.2h0.9M287.6 597.9h0.9M281.3 584.2h0.9M296.7 600.6h0.9M300.7 600.1h0.9M281.6 598.9h0.9M298.3 582.3h0.9M282.1 586.6h0.9M289.2 593.0h0.9M290.8 594.2h0.9M298.3 575.4h0.9M291.6 608.6h0.9M300.1 593.4h0.9M305.5 584.0h0.9M261.6 576.4h0.9M272.3 593.1h0.9M292.5 550.4h0.9M265.0 602.4h0.9M295.2 571.9h0.9M276.4 591.8h0.9M298.7 598.5h0.9M310.7 613.5h0.9M287.7 599.1h0.9M311.6 618.2h0.9M315.4 587.5h0.9M284.8 599.7h0.9M280.1 602.6h0.9M295.3 608.3h0.9M271.6 621.5h0.9M313.0 600.1h0.9M276.0 624.7h0.9M280.7 599.8h0.9M307.4 600.5h0.9M272.3 584.2h0.9M290.1 609.0h0.9M304.2 599.1h0.9M301.9 606.0h0.9M294.9 594.5h0.9M283.6 598.3h0.9M279.6 575.2h0.9M301.9 574.1h0.9M298.6 563.6h0.9M277.4 593.1h0.9M301.3 596.2h0.9M297.8 572.6h0.9M317.4 614.1h0.9M315.2 590.6h0.9M301.3 568.0h0.9M298.1 610.2h0.9M262.4 575.0h0.9M313.8 575.8h0.9M270.3 563.2h0.9M291.5 569.3h0.9M290.8 595.3h0.9M297.3 606.1h0.9M307.9 619.3h0.9M274.7 574.5h0.9M282.5 569.6h0.9M290.7 591.4h0.9M310.4 576.7h0.9M272.6 581.0h0.9M290.9 586.5h0.9M296.1 582.1h0.9M300.7 602.4h0.9M295.1 583.0h0.9M307.5 557.1h0.9M276.2 584.0h0.9M266.9 581.5h0.9M303.6 576.3h0.9M290.1 586.0h0.9M295.2 603.5h0.9M297.1 581.2h0.9M290.2 590.0h0.9M301.6 602.0h0.9M289.7 569.1h0.9M291.1 579.7h0.9M275.2 581.0h0.9M283.5 589.1h0.9M303.0 591.4h0.9M330.9 608.1h0.9M308.6 603.0h0.9M325.6 572.4h0.9M278.5 588.6h0.9M285.8 625.9h0.9M288.5 610.5h0.9M297.7 610.3h0.9M301.1 594.5h0.9M307.3 583.1h0.9M317.5 589.7h0.9M281.7 620.2h0.9M288.3 590.3h0.9M310.2 602.4h0.9M277.5 588.2h0.9M296.4 605.7h0.9M268.0 606.9h0.9M318.2 606.6h0.9M299.1 589.1h0.9M319.1 595.5h0.9M305.9 591.9h0.9M276.2 594.8h0.9M313.1 603.4h0.9M275.9 596.1h0.9M289.1 595.4h0.9M308.5 619.0h0.9M268.5 615.6h0.9M286.8 601.7h0.9M282.1 585.9h0.9M252.4 598.8h0.9M321.7 588.9h0.9M279.1 559.1h0.9M313.7 596.5h0.9M293.1 587.6h0.9M297.4 577.6h0.9M302.0 574.5h0.9M288.8 595.2h0.9M300.9 593.2h0.9M276.7 586.2h0.9M273.8 607.1h0.9M304.9 597.2h0.9M289.3 579.3h0.9M279.6 579.6h0.9M293.2 600.9h0.9M286.9 622.7h0.9M280.8 586.1h0.9M348.7 593.2h0.9M282.6 589.6h0.9M291.7 598.3h0.9M285.8 594.4h0.9M287.7 601.9h0.9M268.0 564.8h0.9M298.9 579.3h0.9M271.3 590.7h0.9M277.5 594.2h0.9M301.7 602.2h0.9M300.7 595.1h0.9M269.9 579.5h0.9M302.7 589.4h0.9M285.4 600.3h0.9M273.8 592.3h0.9M325.1 601.3h0.9M295.3 591.4h0.9M314.2 609.2h0.9M310.8 591.3h0.9M291.8 591.7h0.9M254.3 594.4h0.9M317.9 578.3h0.9M304.6 596.8h0.9M296.6 600.4h0.9M269.7 576.5h0.9M319.4 597.8h0.9M285.0 566.5h0.9M270.5 585.6h0.9M315.9 611.9h0.9M280.9 621.6h0.9M288.3 579.2h0.9M296.7 603.3h0.9M283.8 568.9h0.9M294.9 597.6h0.9M272.7 578.2h0.9M280.3 593.0h0.9M290.7 589.9h0.9M279.3 601.9h0.9M316.4 599.5h0.9M310.5 590.0h0.9M288.1 601.8h0.9M318.5 600.4h0.9M289.5 593.8h0.9M268.2 579.3h0.9M278.8 590.7h0.9M287.4 558.0h0.9M290.9 595.5h0.9M277.4 598.2h0.9M291.8 582.2h0.9M310.1 576.9h0.9M281.4 585.9h0.9M306.5 597.3h0.9M301.3 586.6h0.9M285.6 615.0h0.9M265.3 615.1h0.9M281.7 586.7h0.9M287.9 606.1h0.9M286.6 555.5h0.9M296.2 607.0h0.9M284.2 629.7h0.9M293.5 596.9h0.9M304.2 604.6h0.9M326.6 591.1h0.9M309.2 546.4h0.9M307.3 594.4h0.9M292.1 626.4h0.9M293.6 588.8h0.9M289.7 577.4h0.9M277.8 594.4h0.9M292.1 593.1h0.9M283.1 601.7h0.9M300.8 594.5h0.9M303.5 595.9h0.9M264.0 599.9h0.9M305.8 584.3h0.9M306.7 605.5h0.9M256.5 598.3h0.9M291.3 605.8h0.9M296.1 591.9h0.9M261.0 590.6h0.9M294.4 588.7h0.9M297.0 596.0h0.9M305.2 593.3h0.9M305.8 565.4h0.9M280.8 596.6h0.9M315.6 599.1h0.9M279.5 610.4h0.9M281.9 598.2h0.9M318.2 607.0h0.9M316.1 593.9h0.9M295.8 592.8h0.9M286.2 606.9h0.9M334.2 604.4h0.9M279.6 593.1h0.9M272.0 589.0h0.9M302.9 593.5h0.9M310.8 577.5h0.9M314.4 579.6h0.9M284.7 579.2h0.9M279.9 599.1h0.9M296.0 587.8h0.9M290.0 616.1h0.9M289.6 596.5h0.9M309.8 606.0h0.9M255.0 611.5h0.9M340.2 586.7h0.9M288.6 596.8h0.9M302.8 608.6h0.9M294.8 576.7h0.9M286.7 605.6h0.9M281.7 570.0h0.9M304.6 568.0h0.9M290.8 584.4h0.9M303.8 587.3h0.9M280.7 579.5h0.9M295.7 583.4h0.9M287.2 601.3h0.9M299.3 623.2h0.9M282.4 580.1h0.9M280.8 585.3h0.9M309.4 579.8h0.9M299.5 595.7h0.9M261.2 579.8h0.9M323.4 579.4h0.9M303.3 601.5h0.9M296.5 601.5h0.9M314.1 600.5h0.9M308.6 594.5h0.9M309.0 588.3h0.9M278.7 612.3h0.9M300.1 593.9h0.9M279.2 572.4h0.9M288.8 605.2h0.9M295.2 602.1h0.9M282.3 608.3h0.9M289.5 581.9h0.9M305.6 600.4h0.9M291.5 582.5h0.9M283.8 597.4h0.9M305.7 580.2h0.9M297.5 597.9h0.9M271.0 592.9h0.9M289.8 585.5h0.9M295.7 615.1h0.9M278.2 591.4h0.9M262.6 612.9h0.9M276.2 602.4h0.9M276.3 596.4h0.9M344.1 579.9h0.9M281.8 594.4h0.9M295.0 583.0h0.9M325.5 611.5h0.9M260.3 588.3h0.9M257.1 591.3h0.9M281.9 588.8h0.9M311.1 604.3h0.9M281.4 559.2h0.9M305.7 611.3h0.9M273.3 595.5h0.9M295.5 604.2h0.9M258.3 568.8h0.9M301.3 608.8h0.9M322.4 569.4h0.9M291.4 599.5h0.9M338.7 602.3h0.9M286.6 589.6h0.9M309.0 594.2h0.9M315.4 592.2h0.9M299.8 587.8h0.9M299.1 584.9h0.9M259.4 591.6h0.9M300.5 587.8h0.9M288.5 605.9h0.9M277.3 582.2h0.9M297.0 603.1h0.9M300.8 563.2h0.9M309.4 606.8h0.9M294.1 588.7h0.9M299.0 589.0h0.9M280.8 574.1h0.9M286.7 579.3h0.9M269.4 589.8h0.9M266.9 588.8h0.9M273.6 587.6h0.9M312.3 606.4h0.9M280.1 586.3h0.9M306.0 572.0h0.9M281.3 588.8h0.9M284.1 588.9h0.9M298.4 607.8h0.9M302.4 607.0h0.9M287.6 589.3h0.9M289.8 585.8h0.9M300.7 569.3h0.9M286.9 588.8h0.9M276.8 583.3h0.9M301.2 594.4h0.9M342.3 577.9h0.9M301.0 567.8h0.9M289.7 633.1h0.9M251.6 572.0h0.9M302.2 592.8h0.9M315.8 569.2h0.9M303.0 603.9h0.9M296.3 585.0h0.9M305.3 591.5h0.9M298.9 587.7h0.9M256.7 572.2h0.9M290.1 603.0h0.9M278.4 584.0h0.9M300.8 599.1h0.9M298.3 627.2h0.9M290.5 560.6h0.9M295.3 618.2h0.9M301.1 610.0h0.9M287.0 577.9h0.9M312.2 588.5h0.9M270.1 564.1h0.9M286.0 577.1h0.9M300.7 584.8h0.9M313.2 602.3h0.9M266.1 598.7h0.9M281.3 589.7h0.9M293.9 588.0h0.9M301.8 586.3h0.9M277.7 549.0h0.9M277.1 571.8h0.9M291.3 592.5h0.9M300.0 598.3h0.9M284.2 576.4h0.9M259.7 571.6h0.9M296.1 602.7h0.9M291.3 588.8h0.9M306.7 600.3h0.9M299.7 605.5h0.9M286.6 609.9h0.9M285.4 582.6h0.9M284.6 575.2h0.9M304.8 627.0h0.9M288.5 599.2h0.9M305.1 612.1h0.9M319.5 586.9h0.9M278.9 592.0h0.9M314.0 605.7h0.9M280.8 580.2h0.9M287.3 575.8h0.9M319.9 597.3h0.9M277.8 618.7h0.9M308.5 606.4h0.9M279.6 591.8h0.9M313.4 613.6h0.9M311.3 604.1h0.9M301.5 594.0h0.9M290.0 611.7h0.9M269.8 578.9h0.9M299.6 587.1h0.9M281.9 599.0h0.9M319.4 617.0h0.9M307.6 575.8h0.9M321.9 609.6h0.9M299.0 578.0h0.9M298.5 578.0h0.9M290.0 598.3h0.9M290.6 595.7h0.9M268.9 602.2h0.9M293.9 564.0h0.9M294.2 581.0h0.9M278.4 578.9h0.9M304.5 580.0h0.9M280.3 608.3h0.9M303.8 596.0h0.9M294.8 591.6h0.9M286.3 600.6h0.9M306.7 561.7h0.9M297.6 580.9h0.9M306.4 590.1h0.9M279.7 620.0h0.9M283.0 569.1h0.9M285.8 550.4h0.9M259.9 580.3h0.9M294.5 563.5h0.9M264.4 586.8h0.9M282.2 580.8h0.9M288.1 611.5h0.9M315.7 621.4h0.9M293.0 595.5h0.9M310.9 625.1h0.9M284.0 594.9h0.9M296.2 595.1h0.9M293.0 571.4h0.9M293.9 568.4h0.9M307.7 609.2h0.9M263.6 598.7h0.9M318.9 576.2h0.9M315.7 617.8h0.9M332.9 594.7h0.9M297.5 601.8h0.9" stroke="#f09aa0" stroke-opacity="0.25" stroke-width="0.9" fill="none"/>
<path d="M301.7 600.7h0.9M311.1 584.1h0.9M285.8 585.1h0.9M293.4 592.9h0.9M303.5 601.7h0.9M299.8 592.2h0.9M294.6 608.5h0.9M307.9 600.0h0.9M296.0 614.5h0.9M293.0 605.5h0.9M312.2 596.3h0.9M308.6 587.8h0.9M310.6 601.0h0.9M282.0 605.7h0.9M289.7 611.8h0.9M292.0 597.4h0.9M302.6 595.7h0.9M302.4 593.5h0.9M306.9 599.1h0.9M301.8 571.5h0.9M312.3 599.3h0.9M279.9 600.0h0.9M304.6 609.7h0.9M287.6 614.5h0.9M297.7 622.9h0.9M297.9 605.8h0.9M295.5 587.8h0.9M311.6 608.1h0.9M316.4 607.6h0.9M293.2 582.4h0.9M292.3 592.2h0.9M290.5 604.8h0.9M303.1 596.3h0.9M301.4 597.5h0.9M301.8 606.5h0.9M310.1 592.1h0.9M282.9 613.3h0.9M300.8 610.1h0.9M281.4 595.7h0.9M299.8 584.6h0.9M293.8 606.2h0.9M311.4 614.9h0.9M290.0 585.0h0.9M305.2 608.4h0.9M301.6 586.0h0.9M308.1 606.9h0.9M305.6 594.1h0.9M302.8 606.9h0.9M293.4 580.6h0.9M303.1 603.8h0.9M299.6 607.9h0.9M293.0 598.2h0.9M296.1 604.7h0.9M317.1 596.5h0.9M322.1 614.3h0.9M308.2 604.9h0.9M319.0 597.2h0.9M298.3 588.4h0.9M304.7 612.4h0.9M305.4 603.2h0.9M297.3 600.7h0.9M283.8 609.5h0.9M295.0 588.0h0.9M291.2 590.8h0.9M308.9 609.6h0.9M284.6 608.3h0.9M309.3 593.2h0.9M283.1 591.5h0.9M292.5 602.4h0.9M295.6 578.7h0.9M302.1 583.7h0.9M309.5 586.9h0.9M291.9 590.5h0.9M293.5 612.0h0.9M308.9 605.0h0.9M303.0 583.5h0.9M293.8 593.5h0.9M288.7 604.1h0.9M291.3 591.9h0.9M288.0 578.4h0.9M306.0 612.3h0.9M301.4 589.2h0.9M269.7 600.7h0.9M312.9 602.0h0.9M309.7 613.8h0.9M311.9 594.6h0.9M311.1 606.8h0.9M282.6 594.9h0.9M283.8 597.9h0.9M305.9 588.3h0.9M276.9 612.0h0.9M303.6 613.7h0.9M284.9 609.6h0.9M322.3 619.1h0.9M297.2 601.7h0.9M297.8 609.0h0.9M310.9 599.9h0.9M284.6 606.4h0.9M294.3 605.3h0.9M302.4 615.2h0.9M312.0 594.5h0.9M303.3 616.6h0.9M293.6 603.3h0.9M312.6 611.6h0.9M305.2 585.8h0.9M285.6 601.5h0.9M303.8 624.5h0.9M290.0 610.4h0.9M308.0 582.3h0.9M290.5 600.7h0.9M294.1 597.5h0.9M304.7 590.9h0.9M304.6 592.6h0.9M293.5 604.4h0.9M293.2 601.9h0.9M317.1 599.3h0.9M297.9 606.4h0.9M295.5 609.8h0.9M285.4 605.2h0.9M293.9 591.0h0.9M319.0 590.5h0.9M318.8 605.6h0.9M315.5 589.2h0.9M312.7 613.6h0.9M298.2 597.7h0.9M326.5 600.8h0.9M294.9 592.7h0.9M304.4 602.3h0.9M301.5 616.2h0.9M295.9 603.7h0.9M315.6 589.0h0.9M310.9 617.3h0.9M284.6 588.0h0.9M288.1 580.5h0.9M304.5 580.4h0.9M305.0 613.5h0.9M281.7 595.8h0.9M278.4 606.8h0.9M291.4 596.3h0.9M300.1 604.5h0.9M295.7 599.2h0.9M293.5 600.1h0.9M286.6 599.6h0.9M278.2 594.1h0.9M320.6 599.8h0.9M285.6 601.6h0.9M288.8 582.5h0.9M291.4 606.4h0.9M303.7 598.0h0.9M289.3 588.2h0.9M314.3 601.4h0.9M289.0 577.9h0.9M284.4 623.8h0.9M286.9 598.2h0.9M301.8 597.4h0.9M296.4 585.3h0.9M287.9 615.9h0.9M291.2 607.5h0.9M280.9 596.3h0.9M302.4 609.4h0.9M287.2 605.0h0.9M303.7 591.6h0.9M304.7 590.0h0.9M290.7 598.8h0.9M269.6 597.9h0.9M288.5 584.4h0.9M294.8 606.6h0.9M295.1 611.7h0.9M286.7 585.9h0.9M316.6 603.0h0.9M309.9 590.7h0.9M308.3 601.6h0.9M306.6 599.3h0.9M312.8 592.5h0.9M288.9 584.2h0.9M312.3 591.6h0.9M288.0 589.6h0.9M294.6 586.3h0.9M296.3 592.7h0.9M293.4 589.4h0.9M299.9 594.4h0.9M300.8 601.5h0.9M303.2 577.1h0.9M293.6 591.0h0.9M308.0 583.2h0.9M291.6 596.1h0.9M295.8 608.9h0.9M294.6 608.6h0.9M283.4 580.9h0.9M312.9 603.4h0.9M304.9 600.2h0.9M304.8 586.8h0.9M309.9 593.7h0.9M310.3 599.9h0.9M277.8 586.1h0.9M311.9 597.6h0.9M295.1 601.4h0.9M294.8 593.6h0.9M300.6 600.4h0.9M316.2 599.5h0.9M320.2 617.0h0.9M318.4 609.6h0.9M300.9 600.4h0.9M297.9 591.7h0.9M298.8 592.6h0.9M317.5 604.3h0.9M294.6 579.8h0.9M298.9 594.8h0.9M287.6 587.6h0.9M274.7 604.7h0.9M298.8 624.8h0.9M299.2 597.5h0.9M315.4 600.3h0.9M301.3 595.3h0.9M292.8 614.0h0.9M310.5 616.2h0.9M295.7 599.3h0.9M289.8 608.7h0.9M284.2 604.6h0.9M311.6 613.1h0.9M289.2 609.9h0.9M291.7 591.4h0.9M284.9 610.6h0.9M317.6 593.1h0.9M291.1 595.6h0.9M327.1 609.0h0.9M293.5 581.1h0.9M292.1 610.9h0.9M320.0 596.3h0.9M291.9 593.9h0.9M278.8 608.1h0.9M287.6 609.6h0.9M280.7 586.3h0.9M302.7 591.4h0.9M308.1 599.1h0.9M286.6 605.2h0.9M308.8 579.9h0.9M319.6 604.0h0.9M307.9 580.4h0.9M291.6 595.5h0.9M311.3 584.4h0.9M289.8 578.7h0.9M296.8 602.5h0.9M281.0 593.1h0.9M305.1 614.9h0.9M306.8 596.0h0.9M286.5 589.6h0.9M292.2 600.5h0.9M299.0 615.7h0.9M302.7 588.3h0.9M316.5 608.5h0.9M300.6 591.8h0.9M278.9 588.8h0.9M309.5 591.0h0.9M285.0 601.0h0.9M302.2 605.1h0.9M306.7 613.1h0.9M290.3 608.8h0.9M288.6 605.9h0.9M301.5 601.4h0.9M310.1 598.8h0.9M311.7 607.8h0.9M301.0 593.3h0.9M291.2 593.7h0.9M297.3 598.8h0.9M332.3 605.4h0.9M308.0 590.4h0.9M291.7 595.8h0.9M301.6 588.6h0.9M317.2 593.4h0.9M311.4 575.6h0.9M299.4 601.8h0.9M301.6 605.0h0.9M302.6 600.6h0.9M278.7 591.9h0.9M273.7 605.3h0.9M302.9 597.0h0.9M290.5 593.2h0.9M319.8 616.3h0.9M298.9 611.9h0.9M282.0 579.6h0.9M294.2 590.3h0.9M293.3 600.9h0.9M332.8 592.4h0.9M300.0 601.8h0.9M299.1 608.3h0.9M319.0 586.6h0.9M301.3 596.4h0.9M303.4 583.7h0.9M280.2 575.8h0.9M305.3 600.9h0.9M300.3 575.3h0.9M295.4 591.4h0.9M283.9 589.8h0.9M307.2 604.4h0.9M299.3 604.1h0.9M292.9 599.7h0.9M299.9 604.5h0.9M298.7 597.6h0.9M298.0 592.6h0.9M324.1 604.1h0.9M304.2 621.9h0.9M314.9 583.4h0.9M307.1 607.4h0.9M320.2 612.2h0.9M308.0 587.2h0.9M289.9 601.7h0.9M305.1 588.8h0.9M295.3 595.0h0.9M300.2 602.4h0.9M296.3 586.6h0.9M313.2 615.0h0.9M298.3 609.2h0.9M304.4 605.6h0.9M304.8 591.4h0.9M305.8 609.1h0.9M289.6 618.7h0.9M322.5 617.2h0.9M321.4 606.4h0.9M295.8 593.0h0.9M290.6 600.2h0.9M299.1 605.7h0.9M277.3 622.1h0.9M324.5 598.7h0.9M306.9 603.8h0.9M302.5 596.9h0.9M298.1 590.8h0.9M301.5 598.8h0.9M303.0 590.4h0.9M299.9 599.5h0.9M306.1 588.4h0.9M304.1 608.8h0.9M306.1 595.3h0.9M294.1 596.6h0.9M307.5 614.5h0.9M297.8 592.6h0.9M303.6 601.0h0.9M289.5 591.6h0.9M298.4 605.7h0.9M286.4 588.8h0.9M305.0 586.8h0.9M300.7 602.5h0.9M298.3 588.8h0.9M298.8 595.7h0.9M303.2 590.6h0.9M311.5 582.2h0.9M297.6 599.1h0.9M310.1 592.9h0.9M305.5 593.3h0.9M307.6 616.4h0.9M295.1 603.4h0.9M289.3 608.7h0.9M312.8 599.4h0.9M287.0 603.0h0.9M312.1 609.9h0.9M308.4 580.7h0.9M292.0 613.2h0.9M286.0 610.3h0.9M320.2 606.6h0.9M311.8 595.7h0.9M286.0 598.0h0.9M297.3 598.5h0.9M307.2 597.6h0.9M301.6 603.2h0.9M299.4 617.4h0.9M304.4 599.8h0.9M297.2 592.7h0.9M314.3 600.5h0.9M287.6 593.4h0.9M298.0 594.5h0.9M311.4 587.4h0.9M304.9 600.4h0.9M286.5 599.5h0.9M298.5 604.0h0.9M294.5 602.0h0.9M281.2 588.2h0.9M308.1 609.4h0.9M299.4 593.0h0.9M311.4 578.1h0.9M290.7 605.7h0.9M306.7 588.7h0.9M278.7 613.5h0.9M301.2 590.0h0.9M300.1 608.0h0.9M271.0 610.1h0.9M307.6 578.2h0.9M308.0 581.2h0.9M312.0 603.0h0.9M324.3 592.9h0.9M299.6 609.5h0.9M292.5 592.0h0.9M295.4 598.3h0.9M287.6 603.8h0.9M305.5 599.7h0.9M318.2 595.7h0.9M313.9 593.5h0.9M307.8 579.7h0.9M301.7 597.2h0.9M294.1 592.9h0.9M295.7 591.8h0.9M275.4 593.0h0.9M293.5 593.8h0.9M287.9 597.6h0.9M308.1 596.5h0.9M294.1 612.6h0.9M310.2 608.2h0.9M312.2 595.7h0.9M298.1 610.1h0.9M293.4 597.8h0.9M303.7 602.7h0.9M296.5 608.8h0.9M297.5 606.3h0.9M311.3 605.6h0.9M307.6 587.4h0.9M285.1 592.8h0.9M304.7 614.0h0.9M286.1 602.1h0.9M290.1 591.7h0.9M296.5 605.9h0.9M301.8 610.8h0.9M288.7 607.9h0.9M309.7 599.7h0.9M304.7 593.4h0.9M287.5 594.9h0.9M292.4 627.9h0.9M294.2 615.5h0.9M301.7 602.1h0.9M307.7 591.2h0.9M309.6 602.8h0.9M282.8 605.0h0.9M305.6 603.5h0.9M316.9 594.9h0.9M305.1 606.5h0.9M289.6 611.0h0.9M283.5 586.0h0.9M305.2 588.1h0.9M298.2 582.6h0.9M300.3 587.7h0.9M303.3 583.7h0.9M304.4 596.3h0.9M300.2 598.3h0.9M300.9 585.8h0.9M271.3 599.3h0.9M289.2 594.5h0.9M304.2 579.1h0.9M291.1 592.9h0.9M287.9 602.3h0.9M298.0 590.8h0.9M288.7 607.1h0.9M292.2 604.9h0.9M304.4 580.1h0.9M287.6 599.0h0.9M303.3 606.8h0.9M308.3 609.3h0.9M295.4 596.9h0.9M308.0 594.7h0.9M311.1 583.1h0.9M306.7 597.3h0.9M277.9 608.8h0.9M302.9 599.2h0.9M287.7 594.3h0.9M316.1 590.7h0.9M261.3 590.4h0.9M286.3 597.7h0.9M295.2 589.9h0.9M290.2 609.5h0.9M283.6 618.6h0.9M293.5 588.1h0.9M308.2 604.6h0.9M288.0 606.5h0.9M279.3 589.8h0.9M311.9 596.4h0.9M285.2 604.1h0.9M309.6 598.8h0.9M279.6 595.5h0.9M304.1 606.7h0.9M319.9 596.5h0.9M294.2 598.6h0.9M312.8 589.6h0.9M313.9 571.5h0.9M308.3 592.2h0.9M304.6 605.9h0.9M286.5 598.1h0.9M302.1 604.9h0.9M289.3 589.1h0.9M278.3 624.4h0.9M297.4 596.8h0.9M283.1 608.3h0.9M293.6 613.4h0.9M308.9 599.2h0.9M307.5 587.9h0.9M295.9 593.2h0.9M285.5 599.2h0.9M297.9 613.4h0.9M262.6 592.3h0.9M289.4 594.4h0.9M304.1 603.0h0.9M299.8 594.3h0.9M304.9 602.6h0.9M279.2 596.4h0.9M284.4 587.2h0.9M301.1 599.6h0.9M300.8 590.2h0.9M297.3 589.9h0.9M303.7 605.9h0.9M318.8 611.7h0.9M290.6 594.4h0.9M289.2 602.1h0.9M321.3 606.1h0.9M275.3 586.4h0.9M285.3 604.2h0.9M299.5 602.0h0.9M319.1 590.7h0.9M290.2 618.7h0.9M303.3 591.2h0.9M277.2 583.8h0.9M272.6 599.7h0.9M300.0 608.9h0.9M298.0 592.1h0.9M291.3 618.0h0.9M280.1 600.7h0.9M299.8 605.2h0.9M295.0 604.0h0.9M308.5 597.5h0.9M294.5 597.1h0.9M288.9 596.9h0.9M296.2 601.1h0.9M314.2 612.1h0.9M294.6 605.0h0.9M302.7 606.6h0.9M299.7 601.7h0.9M294.3 591.2h0.9M309.1 612.0h0.9M306.8 603.4h0.9M302.4 594.5h0.9M279.9 605.6h0.9M301.7 593.5h0.9M288.9 611.8h0.9M279.7 616.6h0.9M306.5 622.7h0.9M291.6 598.8h0.9M293.9 600.6h0.9M297.2 591.5h0.9M311.3 591.2h0.9M293.9 604.5h0.9M293.6 594.7h0.9M303.4 595.3h0.9M285.8 598.0h0.9M297.1 616.0h0.9M287.4 608.7h0.9M290.9 595.4h0.9M295.9 601.7h0.9M309.0 616.5h0.9M292.5 612.3h0.9M310.4 607.1h0.9M291.1 608.0h0.9M298.3 602.5h0.9M296.5 605.6h0.9M311.8 610.3h0.9M297.2 609.0h0.9M315.5 589.6h0.9M315.7 585.6h0.9M305.5 604.9h0.9M315.8 601.8h0.9M294.2 591.0h0.9M285.7 606.7h0.9M296.9 591.8h0.9M305.4 591.4h0.9M294.7 594.4h0.9M317.7 613.6h0.9M297.8 583.3h0.9M302.5 599.7h0.9M303.3 604.7h0.9M296.0 608.3h0.9M308.7 601.1h0.9M295.0 594.2h0.9M307.1 588.0h0.9M297.7 591.5h0.9M284.2 605.0h0.9M299.2 599.4h0.9M309.1 584.1h0.9M298.8 601.9h0.9M308.7 588.2h0.9M307.4 601.2h0.9M314.4 610.4h0.9M305.5 620.5h0.9M299.5 594.8h0.9M295.8 589.6h0.9M299.2 580.2h0.9M298.6 603.3h0.9M310.4 595.5h0.9M314.8 592.5h0.9M298.0 580.2h0.9M291.1 591.1h0.9M315.5 604.2h0.9M287.6 604.2h0.9M304.7 596.7h0.9M299.7 596.0h0.9M293.7 581.7h0.9M298.5 611.5h0.9M314.9 596.3h0.9M291.5 596.9h0.9M309.1 602.4h0.9M293.2 602.5h0.9M297.3 604.0h0.9M295.1 584.6h0.9M300.1 606.4h0.9M287.6 598.0h0.9M308.9 595.3h0.9M292.5 618.8h0.9M308.4 609.0h0.9M289.4 614.9h0.9M281.8 594.0h0.9M307.4 612.0h0.9M289.5 592.5h0.9M301.6 580.2h0.9M306.3 604.4h0.9M294.7 604.2h0.9M307.8 602.0h0.9M305.1 613.7h0.9M294.4 600.6h0.9M293.9 609.0h0.9M295.2 603.6h0.9M301.0 599.6h0.9M317.8 598.2h0.9M314.6 607.0h0.9M313.6 597.4h0.9M309.4 606.3h0.9M293.0 601.6h0.9M298.1 598.7h0.9M313.3 592.0h0.9M281.6 582.2h0.9M294.7 592.8h0.9M299.7 604.5h0.9M318.2 602.0h0.9M304.4 591.9h0.9M305.7 612.1h0.9M313.7 580.2h0.9M308.9 614.3h0.9M308.3 584.6h0.9M296.2 604.7h0.9M303.9 591.2h0.9M290.1 608.3h0.9M285.4 612.8h0.9M299.7 601.9h0.9M285.4 593.3h0.9M306.8 584.8h0.9M321.4 585.5h0.9M286.6 599.4h0.9M304.6 606.1h0.9M295.6 597.0h0.9M297.0 593.5h0.9M272.2 608.2h0.9M302.2 600.5h0.9M292.9 601.4h0.9M299.4 598.3h0.9M311.2 582.5h0.9M302.2 588.8h0.9M296.1 613.4h0.9M288.0 598.0h0.9M293.2 608.1h0.9M289.2 582.8h0.9M304.9 595.6h0.9M296.1 609.4h0.9M290.1 595.4h0.9M301.1 603.0h0.9M294.0 608.9h0.9M323.2 595.1h0.9M319.3 578.7h0.9M314.4 595.7h0.9M301.0 595.7h0.9M292.8 586.7h0.9M295.3 611.4h0.9M311.5 595.7h0.9M293.9 592.3h0.9M286.8 616.3h0.9M306.5 600.1h0.9M294.3 589.2h0.9M313.4 606.5h0.9M289.4 608.5h0.9M287.8 605.2h0.9M289.4 595.0h0.9M304.7 603.2h0.9M310.2 591.0h0.9M316.2 611.9h0.9M299.4 603.5h0.9M291.3 597.5h0.9M285.6 599.9h0.9M301.6 611.9h0.9M309.5 606.8h0.9M295.7 596.8h0.9M295.9 601.1h0.9M279.1 606.4h0.9M283.0 594.1h0.9M299.7 594.1h0.9M317.1 598.1h0.9M316.1 610.3h0.9M294.3 602.8h0.9M313.2 595.8h0.9M300.4 593.6h0.9M300.1 595.6h0.9M300.4 608.6h0.9M314.2 600.3h0.9M301.6 607.2h0.9M296.4 588.8h0.9M311.2 590.0h0.9M309.3 589.7h0.9M318.8 589.0h0.9M308.5 613.4h0.9M289.4 613.3h0.9M290.8 582.1h0.9M307.1 605.7h0.9M297.4 574.8h0.9M298.9 596.1h0.9M295.5 596.2h0.9M280.6 593.6h0.9M318.5 613.8h0.9M295.7 592.2h0.9M303.7 609.2h0.9M307.1 587.8h0.9M301.2 600.3h0.9M314.7 610.5h0.9M305.0 610.7h0.9M295.3 613.8h0.9M295.0 602.8h0.9M309.2 590.2h0.9M292.1 582.1h0.9M301.2 598.5h0.9M296.0 603.8h0.9M277.2 598.8h0.9M300.4 596.4h0.9M307.9 615.8h0.9M294.8 590.0h0.9M293.1 599.9h0.9M305.7 590.7h0.9M310.1 589.2h0.9M308.2 603.1h0.9M304.4 619.7h0.9M296.7 597.4h0.9M304.5 607.3h0.9M285.4 601.6h0.9M291.7 605.1h0.9M314.0 599.5h0.9M298.4 600.8h0.9M268.3 606.4h0.9M305.4 600.6h0.9M295.3 592.0h0.9M297.6 610.6h0.9M298.4 611.9h0.9M272.3 594.6h0.9M302.4 598.9h0.9M282.0 592.6h0.9M312.7 586.6h0.9M289.0 588.5h0.9M293.7 605.2h0.9M305.8 579.5h0.9M314.9 593.3h0.9M293.3 615.0h0.9M298.6 587.1h0.9M292.8 592.0h0.9M288.8 595.8h0.9M308.8 602.4h0.9M284.9 625.8h0.9M289.0 600.1h0.9M299.8 606.3h0.9M296.0 603.4h0.9M321.7 599.9h0.9M288.1 602.2h0.9M291.0 595.4h0.9M301.5 602.2h0.9M296.5 607.1h0.9M297.5 586.5h0.9M308.8 595.5h0.9M312.3 592.7h0.9M305.5 602.0h0.9M271.0 584.7h0.9M287.7 612.5h0.9M279.6 607.8h0.9M311.0 603.8h0.9M306.6 594.2h0.9M299.4 601.2h0.9M303.9 605.8h0.9M297.3 592.3h0.9M293.6 602.9h0.9M282.0 587.0h0.9M295.2 593.7h0.9M296.6 573.4h0.9M295.9 596.6h0.9M307.7 580.0h0.9M296.3 603.6h0.9M304.7 610.5h0.9M310.6 588.9h0.9M306.2 595.8h0.9M291.0 613.7h0.9M292.8 590.8h0.9M295.2 590.8h0.9M310.1 602.7h0.9M314.3 603.0h0.9M293.0 609.1h0.9M292.6 594.6h0.9M297.7 599.4h0.9M312.1 593.2h0.9M303.2 598.7h0.9M286.2 588.5h0.9M297.2 602.9h0.9M302.9 603.6h0.9M300.0 594.7h0.9M304.0 589.3h0.9M285.3 595.8h0.9M284.4 594.0h0.9M291.6 593.7h0.9M299.0 591.3h0.9M295.0 582.5h0.9M301.0 590.5h0.9M303.8 571.7h0.9M291.0 601.3h0.9M273.6 595.5h0.9M300.5 600.0h0.9M283.6 601.2h0.9M301.1 589.6h0.9M307.4 598.5h0.9M299.7 594.7h0.9M305.3 599.9h0.9M311.6 603.4h0.9M292.9 596.8h0.9M309.3 595.5h0.9M303.6 604.0h0.9M297.6 576.5h0.9M300.9 601.1h0.9M300.9 591.7h0.9M312.4 597.7h0.9M292.9 592.1h0.9M303.3 588.5h0.9M288.9 618.3h0.9M313.4 609.2h0.9M314.0 604.8h0.9M281.6 610.6h0.9M312.7 603.7h0.9M278.7 611.0h0.9M314.0 594.2h0.9M300.9 606.5h0.9M298.6 609.6h0.9M300.4 605.7h0.9M300.4 584.7h0.9M288.9 629.7h0.9M302.5 611.7h0.9M311.6 615.6h0.9M305.4 593.2h0.9M299.7 580.4h0.9M297.5 607.8h0.9M276.4 600.9h0.9M308.3 611.9h0.9M289.6 592.7h0.9M279.5 589.1h0.9M305.2 619.1h0.9M287.3 612.4h0.9M304.1 594.2h0.9M322.9 574.5h0.9M298.8 601.1h0.9M322.3 616.5h0.9M323.7 600.3h0.9M310.0 612.3h0.9M305.0 602.5h0.9M297.5 595.0h0.9M286.4 617.9h0.9M294.7 578.8h0.9M302.3 598.7h0.9M301.4 616.6h0.9M298.4 596.4h0.9M291.5 598.8h0.9M294.8 601.0h0.9M332.9 602.8h0.9M290.3 617.8h0.9M308.7 606.9h0.9M307.2 607.0h0.9M306.7 612.7h0.9M310.3 612.1h0.9M294.1 599.0h0.9M291.7 608.3h0.9M308.4 594.5h0.9M305.8 624.6h0.9M312.7 588.1h0.9M298.5 605.2h0.9M299.1 602.8h0.9M312.1 602.2h0.9M287.7 606.0h0.9M298.5 600.1h0.9M293.4 585.5h0.9M286.1 595.6h0.9M288.0 572.6h0.9M311.8 587.7h0.9M291.7 604.2h0.9M273.7 612.1h0.9M291.3 605.4h0.9M294.3 602.0h0.9M300.6 599.0h0.9M279.9 584.7h0.9M299.1 612.7h0.9M293.7 604.2h0.9M301.2 603.7h0.9" stroke="#ec7076" stroke-opacity="0.25" stroke-width="0.9" fill="none"/>
<path d="M307.8 589.5h0.9M303.2 597.9h0.9M299.5 593.6h0.9M296.5 592.5h0.9M294.5 614.9h0.9M312.3 599.1h0.9M306.2 592.8h0.9M283.9 587.5h0.9M302.4 608.1h0.9M301.2 592.7h0.9M300.0 592.7h0.9M292.7 597.5h0.9M299.0 593.9h0.9M295.9 593.1h0.9M303.0 607.8h0.9M300.2 613.2h0.9M291.3 600.7h0.9M294.2 598.0h0.9M302.1 602.5h0.9M308.7 595.5h0.9M293.6 597.8h0.9M303.4 594.6h0.9M307.2 609.7h0.9M292.5 601.3h0.9M307.9 586.8h0.9M302.8 597.6h0.9M292.5 607.3h0.9M302.9 596.0h0.9M304.3 603.1h0.9M306.4 602.7h0.9M304.1 591.5h0.9M298.8 599.8h0.9M284.0 612.5h0.9M299.1 592.3h0.9M290.0 600.6h0.9M301.7 595.3h0.9M298.9 593.4h0.9M296.8 598.4h0.9M297.4 603.3h0.9M300.6 599.8h0.9M304.1 607.1h0.9M305.3 600.4h0.9M300.5 593.9h0.9M299.3 603.3h0.9M302.9 596.5h0.9M293.1 589.3h0.9M303.5 605.5h0.9M303.9 590.3h0.9M300.2 600.4h0.9M295.7 601.2h0.9M300.2 593.7h0.9M293.6 604.1h0.9M303.8 593.4h0.9M295.1 604.6h0.9M305.3 597.1h0.9M311.6 597.2h0.9M294.8 605.9h0.9M300.3 601.2h0.9M301.7 592.7h0.9M294.0 597.8h0.9M310.4 592.6h0.9M310.1 600.4h0.9M294.5 600.7h0.9M305.1 593.3h0.9M288.0 601.3h0.9M294.5 601.8h0.9M289.4 598.1h0.9M296.4 589.6h0.9M300.0 600.1h0.9M298.0 591.5h0.9M302.8 587.9h0.9M304.9 602.1h0.9M312.1 604.6h0.9M303.7 600.7h0.9M301.7 590.6h0.9M310.7 602.3h0.9M299.7 591.8h0.9M310.9 602.4h0.9M294.0 603.2h0.9M313.5 598.9h0.9M304.0 596.4h0.9M297.5 605.8h0.9M320.9 599.7h0.9M300.7 604.0h0.9M299.6 603.6h0.9M306.7 592.6h0.9M294.7 598.5h0.9M306.8 600.7h0.9M309.3 590.3h0.9M304.6 595.1h0.9M302.1 601.0h0.9M295.4 597.6h0.9M294.2 600.7h0.9M296.1 595.9h0.9M302.9 594.9h0.9M308.7 595.0h0.9M306.9 600.8h0.9M295.0 597.6h0.9M296.2 596.7h0.9M299.8 610.5h0.9M298.9 608.9h0.9M304.3 590.8h0.9M286.9 603.3h0.9M289.0 603.5h0.9M308.0 601.5h0.9M300.2 597.4h0.9M303.1 597.1h0.9M298.1 596.7h0.9M308.9 595.1h0.9M303.9 591.8h0.9M297.0 590.3h0.9M300.3 603.3h0.9M303.4 595.9h0.9M305.3 596.8h0.9M303.8 600.7h0.9M304.9 583.4h0.9M293.3 603.9h0.9M300.8 613.1h0.9M300.0 595.5h0.9M310.9 602.5h0.9M313.4 602.2h0.9M300.2 603.6h0.9M296.5 596.2h0.9M298.0 597.6h0.9M306.4 596.0h0.9M303.5 595.9h0.9M307.1 581.7h0.9M300.2 600.1h0.9M294.7 605.4h0.9M302.9 607.1h0.9M307.5 603.0h0.9M300.6 592.2h0.9M300.1 596.1h0.9M303.1 596.1h0.9M320.7 589.0h0.9M308.9 596.0h0.9M300.0 604.8h0.9M301.5 591.4h0.9M304.1 597.8h0.9M288.6 600.2h0.9M294.9 594.3h0.9M304.5 600.9h0.9M299.7 612.6h0.9M304.1 595.1h0.9M303.0 598.2h0.9M287.7 589.1h0.9M292.8 612.0h0.9M300.3 597.3h0.9M298.0 605.2h0.9M301.7 609.7h0.9M306.4 609.3h0.9M300.8 601.4h0.9M298.8 597.9h0.9M290.6 595.4h0.9M295.5 594.9h0.9M309.1 600.6h0.9M309.2 604.4h0.9M307.3 605.3h0.9M297.7 604.0h0.9M299.5 595.7h0.9M309.0 612.6h0.9M295.4 609.9h0.9M306.7 593.7h0.9M303.2 601.3h0.9M303.9 596.8h0.9M293.4 599.2h0.9M306.9 603.9h0.9M305.6 605.9h0.9M295.3 598.7h0.9M303.6 605.3h0.9M302.5 602.2h0.9M302.3 612.1h0.9M287.8 598.8h0.9M317.0 600.5h0.9M290.0 599.8h0.9M292.5 594.7h0.9M302.9 609.7h0.9M304.4 603.2h0.9M307.9 600.3h0.9M296.1 598.4h0.9M303.6 597.3h0.9M297.3 596.8h0.9M292.1 592.6h0.9M300.9 596.7h0.9M301.7 607.8h0.9M303.4 598.8h0.9M294.2 592.3h0.9M303.9 593.5h0.9M304.2 592.3h0.9M302.3 598.5h0.9M307.7 596.5h0.9M299.2 600.5h0.9M301.8 609.6h0.9M299.9 595.6h0.9M299.5 602.0h0.9M303.0 603.3h0.9M292.8 614.5h0.9M313.0 598.8h0.9M293.9 600.0h0.9M304.1 585.0h0.9M301.6 589.8h0.9M304.4 607.6h0.9M308.0 589.6h0.9M310.1 604.7h0.9M299.2 602.1h0.9M311.0 596.9h0.9M301.4 595.5h0.9M308.7 585.5h0.9M310.4 592.9h0.9M307.3 588.8h0.9M295.6 595.3h0.9M306.7 588.9h0.9M305.3 595.0h0.9M309.3 597.1h0.9M304.5 597.9h0.9M312.7 596.7h0.9M301.3 611.4h0.9M302.0 603.3h0.9M296.9 600.2h0.9M287.3 599.7h0.9M297.5 589.6h0.9M292.6 606.1h0.9M304.2 589.5h0.9M312.8 594.6h0.9M299.2 600.5h0.9M294.4 588.9h0.9M296.8 606.4h0.9M307.5 589.1h0.9M309.0 599.2h0.9M304.6 599.3h0.9M304.1 592.7h0.9M295.8 594.6h0.9M299.2 602.9h0.9M293.9 609.0h0.9M297.5 595.3h0.9M305.9 601.7h0.9M299.4 592.3h0.9M295.2 589.0h0.9M308.7 605.8h0.9M313.2 602.1h0.9M303.6 603.7h0.9M307.5 597.4h0.9M303.7 612.5h0.9M290.9 590.2h0.9M295.5 603.7h0.9M308.9 596.9h0.9M305.7 598.7h0.9M303.4 595.6h0.9M301.3 599.0h0.9M308.6 613.0h0.9M290.1 602.3h0.9M301.5 605.1h0.9M308.1 603.9h0.9M306.6 593.1h0.9M290.8 609.4h0.9M309.1 593.0h0.9M309.6 603.2h0.9M286.1 604.6h0.9M295.3 606.3h0.9M297.2 594.3h0.9M291.8 597.6h0.9M307.9 594.8h0.9M289.9 612.4h0.9M313.1 603.3h0.9M298.1 591.4h0.9M291.2 602.5h0.9M309.6 592.4h0.9M301.5 597.3h0.9M299.9 602.1h0.9M314.6 595.0h0.9M306.8 605.8h0.9M299.7 598.1h0.9M293.1 605.8h0.9M298.2 594.9h0.9M301.9 593.6h0.9M295.0 597.1h0.9M310.8 597.7h0.9M304.8 589.8h0.9M289.3 610.4h0.9M299.0 589.4h0.9M300.8 602.8h0.9M290.7 593.5h0.9M303.1 593.2h0.9M306.5 605.0h0.9M304.3 596.3h0.9M301.2 595.0h0.9M300.7 601.0h0.9M299.6 605.1h0.9M317.8 595.6h0.9M303.7 604.2h0.9M305.5 597.5h0.9M298.5 605.3h0.9M305.4 602.2h0.9M296.5 603.0h0.9M306.5 597.8h0.9M305.6 612.6h0.9M289.7 602.8h0.9M294.1 590.4h0.9M300.0 602.4h0.9M301.8 591.7h0.9M292.5 595.5h0.9M301.6 593.8h0.9M292.1 610.0h0.9M296.2 598.0h0.9M298.1 595.3h0.9M301.8 597.1h0.9M305.4 591.6h0.9M292.2 611.3h0.9M301.0 603.8h0.9M308.9 602.5h0.9M301.7 589.2h0.9M291.4 605.2h0.9M305.8 602.6h0.9M291.1 585.6h0.9M294.9 591.6h0.9M302.5 592.6h0.9M311.5 595.1h0.9M298.0 604.4h0.9M303.6 593.3h0.9M306.7 611.1h0.9M293.8 597.4h0.9M294.7 586.8h0.9M305.4 603.4h0.9M307.6 601.7h0.9M288.8 598.8h0.9M297.3 591.6h0.9M294.5 603.8h0.9M299.6 611.4h0.9M304.5 587.0h0.9M307.1 606.9h0.9M301.7 591.3h0.9M312.7 590.7h0.9M301.0 587.0h0.9M293.6 588.3h0.9M308.4 606.5h0.9M298.9 590.4h0.9M301.1 601.4h0.9M291.8 591.7h0.9M300.9 603.5h0.9M302.0 601.8h0.9M293.6 583.2h0.9M303.5 593.2h0.9M300.7 596.6h0.9M304.5 594.1h0.9M310.7 599.2h0.9M304.9 603.0h0.9M308.1 601.6h0.9M290.4 595.0h0.9M313.3 602.0h0.9M305.1 602.0h0.9M297.4 594.7h0.9M297.4 606.4h0.9M303.8 610.3h0.9M304.7 611.0h0.9M304.4 591.5h0.9M312.6 601.1h0.9M309.1 600.4h0.9M299.4 600.1h0.9M294.4 591.4h0.9M295.8 595.7h0.9M292.9 598.3h0.9M303.4 611.9h0.9M313.2 598.7h0.9M307.1 597.6h0.9M304.0 598.8h0.9M298.1 599.5h0.9M292.1 601.8h0.9M299.7 592.1h0.9M299.2 602.5h0.9M297.2 602.0h0.9M305.1 609.0h0.9M294.6 598.3h0.9M304.8 608.6h0.9M303.2 603.8h0.9M292.1 595.3h0.9M312.1 597.2h0.9M315.3 594.3h0.9M299.7 588.8h0.9M305.6 600.7h0.9M314.4 600.1h0.9M299.9 590.0h0.9M301.0 605.1h0.9M306.2 606.9h0.9M307.0 598.7h0.9M305.4 600.1h0.9M293.0 610.0h0.9M303.9 592.3h0.9M304.0 600.8h0.9M307.9 608.3h0.9M282.0 602.6h0.9M311.3 592.9h0.9M289.6 600.8h0.9M303.7 601.3h0.9M294.4 596.0h0.9M302.8 603.8h0.9M315.6 600.9h0.9M297.6 583.8h0.9M308.4 598.2h0.9M300.8 592.6h0.9M306.2 587.5h0.9M302.2 599.8h0.9M303.4 607.4h0.9M300.9 599.6h0.9M307.0 589.0h0.9M299.6 599.4h0.9M307.7 593.8h0.9M306.7 601.5h0.9M291.9 589.5h0.9M292.3 599.9h0.9M302.8 603.7h0.9M306.8 595.4h0.9M308.4 604.3h0.9M304.5 602.1h0.9M293.2 601.3h0.9M294.8 591.3h0.9M299.2 599.9h0.9M301.2 596.9h0.9M295.0 600.2h0.9M296.7 589.9h0.9M302.1 608.4h0.9M298.9 592.1h0.9M310.4 610.1h0.9M299.6 597.6h0.9M302.9 618.1h0.9M302.4 605.4h0.9M304.4 587.2h0.9M294.4 591.0h0.9M304.3 599.7h0.9M313.1 597.3h0.9M303.5 599.5h0.9M302.4 614.0h0.9M303.3 608.5h0.9M309.9 595.1h0.9M305.9 596.5h0.9M302.2 600.0h0.9M301.6 596.0h0.9M311.6 597.3h0.9M306.1 609.9h0.9M305.6 605.6h0.9M310.5 606.1h0.9M312.6 589.7h0.9M314.2 599.2h0.9M290.2 594.8h0.9M292.5 598.9h0.9M291.8 592.5h0.9M303.4 600.0h0.9M296.3 597.5h0.9M300.9 599.5h0.9M301.5 597.6h0.9M307.2 588.6h0.9M298.3 599.9h0.9M298.9 595.4h0.9M298.7 600.4h0.9M309.6 597.8h0.9M299.8 601.3h0.9M299.9 586.4h0.9M303.2 596.5h0.9M297.8 603.1h0.9M301.8 595.3h0.9M287.4 587.8h0.9M301.6 598.2h0.9M304.3 600.4h0.9M298.4 590.8h0.9M294.4 598.1h0.9M294.0 603.9h0.9M292.9 587.4h0.9M300.2 587.5h0.9M312.1 592.6h0.9M301.2 597.4h0.9M296.2 587.5h0.9M289.4 604.6h0.9M308.1 613.1h0.9M292.0 602.6h0.9M301.4 604.5h0.9M298.2 603.7h0.9M307.3 602.9h0.9M310.9 597.9h0.9M311.5 594.4h0.9M312.3 581.1h0.9M301.6 593.8h0.9M301.5 605.7h0.9M306.2 599.6h0.9M312.6 589.4h0.9M296.2 608.8h0.9M303.6 585.5h0.9M303.7 591.3h0.9M311.1 606.4h0.9M297.9 607.4h0.9M296.1 605.0h0.9M305.3 598.2h0.9M292.3 597.2h0.9M286.6 595.3h0.9M289.5 606.9h0.9M295.2 583.2h0.9M305.3 601.4h0.9M298.2 612.8h0.9M306.5 599.4h0.9M297.3 579.8h0.9M304.6 605.2h0.9M297.7 589.8h0.9M301.2 588.1h0.9M301.5 604.0h0.9M311.3 600.7h0.9M302.8 603.9h0.9M310.6 596.9h0.9M293.5 593.9h0.9M293.3 593.2h0.9M300.7 601.2h0.9M302.5 599.5h0.9M299.2 601.8h0.9M307.3 603.9h0.9M311.2 597.1h0.9M299.9 610.0h0.9M302.8 601.7h0.9M299.3 605.3h0.9M298.9 592.5h0.9M301.1 596.1h0.9M306.9 596.5h0.9M302.3 597.6h0.9M303.7 594.9h0.9M308.7 589.7h0.9M299.0 594.4h0.9M305.7 599.3h0.9M304.7 596.9h0.9M296.8 591.7h0.9M299.3 595.5h0.9M303.3 601.3h0.9M307.9 598.3h0.9M296.6 592.1h0.9M301.9 601.3h0.9M314.2 600.2h0.9M312.9 611.2h0.9M294.7 606.9h0.9M308.9 607.7h0.9M301.4 605.2h0.9M298.4 598.5h0.9M301.6 610.6h0.9M300.1 605.2h0.9M301.9 594.4h0.9M303.1 603.3h0.9M296.9 603.1h0.9M296.9 593.3h0.9M302.9 597.5h0.9M295.1 588.4h0.9M301.7 600.6h0.9M298.5 600.2h0.9M291.6 601.6h0.9M304.2 600.8h0.9M297.5 599.5h0.9M302.3 606.0h0.9M303.3 600.6h0.9M296.8 604.6h0.9M309.1 595.8h0.9M305.7 601.0h0.9M301.2 590.6h0.9M312.9 586.9h0.9M303.5 596.6h0.9M308.9 596.3h0.9M301.8 603.0h0.9M304.5 595.6h0.9M305.9 601.5h0.9M307.9 595.7h0.9M301.2 596.5h0.9M296.1 600.7h0.9M304.2 608.2h0.9M299.4 601.5h0.9M308.9 598.3h0.9M301.9 599.9h0.9M297.0 592.6h0.9M308.7 600.1h0.9M301.0 590.9h0.9M302.3 606.6h0.9M294.0 593.2h0.9M308.7 608.3h0.9M311.6 595.4h0.9M305.4 594.1h0.9M304.9 596.6h0.9M302.8 607.7h0.9M303.7 597.4h0.9M301.9 600.7h0.9M298.2 600.3h0.9M305.4 609.1h0.9M288.2 591.3h0.9M293.5 604.7h0.9M317.3 600.3h0.9M302.3 606.4h0.9M285.7 597.8h0.9M281.4 600.0h0.9M298.2 595.9h0.9M303.7 595.2h0.9M308.7 599.0h0.9M304.0 615.4h0.9M298.6 605.0h0.9M296.2 607.1h0.9M307.7 599.9h0.9M307.9 609.4h0.9M310.4 599.0h0.9M301.1 606.1h0.9M292.0 595.1h0.9M304.6 602.7h0.9M313.5 610.3h0.9M303.6 601.8h0.9M293.0 597.8h0.9M303.2 597.5h0.9M301.9 602.9h0.9M295.4 595.3h0.9M290.1 606.4h0.9M294.7 588.0h0.9M306.5 597.6h0.9M307.7 596.6h0.9M315.2 603.6h0.9M302.5 599.7h0.9M300.2 604.2h0.9M314.4 596.3h0.9M294.5 602.8h0.9M308.4 589.4h0.9M297.1 592.6h0.9M305.1 602.2h0.9M296.8 591.8h0.9M305.9 585.8h0.9M305.6 598.0h0.9M313.8 605.4h0.9M297.8 597.2h0.9M299.7 594.3h0.9M302.0 605.2h0.9M291.8 597.5h0.9M311.1 603.8h0.9M296.3 593.8h0.9M296.0 588.7h0.9M308.9 599.4h0.9M297.0 589.8h0.9M299.0 595.7h0.9M312.5 596.1h0.9M302.2 605.9h0.9M305.8 597.8h0.9M287.5 608.0h0.9M305.3 596.2h0.9M300.9 592.9h0.9M295.8 589.5h0.9M304.7 602.3h0.9M302.6 604.0h0.9M304.9 599.8h0.9M295.9 602.8h0.9M309.1 603.0h0.9M309.5 596.0h0.9M295.2 607.0h0.9M297.8 600.6h0.9M300.3 599.1h0.9M299.8 595.6h0.9M290.1 611.2h0.9M302.8 586.7h0.9M295.7 591.8h0.9M296.8 582.7h0.9M305.2 609.5h0.9M299.9 603.7h0.9M305.3 591.1h0.9M309.3 588.3h0.9M297.8 596.7h0.9M309.5 599.8h0.9M300.7 593.9h0.9M302.1 599.3h0.9M306.2 607.9h0.9M306.2 599.1h0.9M300.5 609.2h0.9M302.8 598.9h0.9M312.9 609.0h0.9M305.1 598.3h0.9M297.5 605.8h0.9M298.6 605.1h0.9M296.5 599.7h0.9M304.1 599.9h0.9M303.0 601.4h0.9M294.4 591.9h0.9M300.6 610.5h0.9M300.7 593.1h0.9M297.3 599.2h0.9M309.0 595.4h0.9M305.1 600.2h0.9M299.2 593.0h0.9M300.5 594.4h0.9M304.9 587.8h0.9M308.7 603.8h0.9M305.2 608.5h0.9M305.3 588.2h0.9M301.8 601.9h0.9M297.2 591.8h0.9M304.2 602.2h0.9M298.8 597.5h0.9M298.3 595.4h0.9M301.1 605.8h0.9M291.3 596.8h0.9M311.7 601.0h0.9M302.5 604.3h0.9M295.1 591.3h0.9M291.0 589.8h0.9M303.1 604.4h0.9M298.9 594.7h0.9M304.1 602.9h0.9M303.1 586.9h0.9M298.0 583.0h0.9M303.0 593.6h0.9M297.3 608.5h0.9M309.9 602.1h0.9M303.2 600.1h0.9M297.8 598.7h0.9M313.6 593.5h0.9M297.3 600.0h0.9M307.1 604.3h0.9M295.4 598.2h0.9M299.8 591.2h0.9M302.0 596.0h0.9M307.3 601.7h0.9M296.6 599.5h0.9M299.2 595.0h0.9M298.4 605.7h0.9M298.9 588.2h0.9M296.6 604.1h0.9M315.1 592.3h0.9M299.3 596.9h0.9M292.6 601.5h0.9M301.2 600.8h0.9M315.7 597.3h0.9M306.5 604.3h0.9M297.5 595.3h0.9M311.3 603.5h0.9M302.4 592.1h0.9M307.1 602.3h0.9M315.4 608.3h0.9M306.6 600.7h0.9M301.9 595.5h0.9M303.5 600.5h0.9M305.6 605.9h0.9M303.5 595.6h0.9M306.6 608.8h0.9M296.2 601.7h0.9M305.0 602.4h0.9M304.7 598.4h0.9M300.9 609.7h0.9M312.4 590.1h0.9M285.5 601.8h0.9M297.2 595.7h0.9M291.4 601.2h0.9M301.2 595.6h0.9M307.2 614.4h0.9M310.8 606.4h0.9M298.9 603.2h0.9M301.3 606.3h0.9M305.2 598.8h0.9M305.0 594.5h0.9M306.5 608.5h0.9M299.2 602.5h0.9M291.0 604.9h0.9M307.0 592.6h0.9M312.5 599.7h0.9M290.6 590.4h0.9M307.0 597.3h0.9M308.5 589.2h0.9M300.9 605.2h0.9M297.2 603.3h0.9M299.2 601.2h0.9M303.5 613.1h0.9M293.7 603.9h0.9M309.8 591.9h0.9M302.0 613.6h0.9M308.1 580.3h0.9M300.0 588.2h0.9M303.4 594.4h0.9M298.0 593.7h0.9M303.4 596.1h0.9M295.8 597.6h0.9M304.1 593.6h0.9M308.5 588.5h0.9M304.1 596.5h0.9M311.4 594.9h0.9M297.3 590.5h0.9M314.0 602.9h0.9M294.7 596.9h0.9M295.5 608.6h0.9M304.1 586.1h0.9M302.8 604.8h0.9M301.5 602.0h0.9M300.8 600.3h0.9M302.8 594.5h0.9M303.7 600.0h0.9M301.3 594.7h0.9M295.1 600.6h0.9M306.7 583.7h0.9M298.1 607.6h0.9M307.3 594.5h0.9M310.0 592.8h0.9M296.5 611.3h0.9M298.7 597.6h0.9M291.1 592.6h0.9M294.1 598.1h0.9M289.9 605.7h0.9M299.3 595.2h0.9M297.5 603.7h0.9M311.2 596.4h0.9M311.7 609.2h0.9M310.0 600.9h0.9M292.1 603.3h0.9M298.9 600.2h0.9M289.6 597.2h0.9M303.0 593.1h0.9M303.4 609.6h0.9M303.0 594.7h0.9M316.6 585.4h0.9M295.7 601.6h0.9M297.8 584.5h0.9M303.1 604.3h0.9M296.5 608.3h0.9M304.7 606.5h0.9M291.8 599.0h0.9M311.6 611.8h0.9M309.8 599.0h0.9M302.7 595.0h0.9M308.5 594.6h0.9M302.3 585.9h0.9M292.0 610.3h0.9M301.9 600.4h0.9M287.6 598.8h0.9M314.6 589.5h0.9M286.4 598.0h0.9M298.1 597.7h0.9M293.5 590.4h0.9M293.7 603.1h0.9M301.2 604.2h0.9M294.7 602.7h0.9M298.7 599.6h0.9M307.4 599.2h0.9M299.3 588.4h0.9M301.9 604.0h0.9M297.5 598.6h0.9M290.3 590.5h0.9M304.1 607.2h0.9M299.5 588.4h0.9M299.1 589.1h0.9M299.7 611.3h0.9M303.4 598.0h0.9M308.1 596.6h0.9M303.6 600.3h0.9M304.3 589.6h0.9M306.0 604.6h0.9M287.0 581.7h0.9M295.8 608.5h0.9M301.6 603.3h0.9M305.0 604.7h0.9M297.4 595.3h0.9M303.9 602.9h0.9M305.2 601.2h0.9M298.4 606.1h0.9M304.5 605.8h0.9M285.3 605.4h0.9M285.9 600.4h0.9M297.3 599.8h0.9M298.5 597.0h0.9M302.7 601.2h0.9M296.4 582.8h0.9M296.5 602.5h0.9M296.1 601.7h0.9M299.1 593.0h0.9M309.0 609.6h0.9M300.8 598.7h0.9M307.6 590.5h0.9M295.9 606.3h0.9M307.3 595.8h0.9M296.5 601.2h0.9M292.5 595.8h0.9M300.0 583.2h0.9M305.3 603.9h0.9M308.4 589.8h0.9M293.2 593.8h0.9M293.1 612.2h0.9M295.2 597.0h0.9M302.8 601.9h0.9M310.8 592.0h0.9M307.2 600.0h0.9M294.0 600.0h0.9M292.5 609.4h0.9M296.8 605.5h0.9M309.9 595.0h0.9M295.7 599.8h0.9M294.7 604.8h0.9M302.6 594.1h0.9M297.1 603.7h0.9M292.1 609.9h0.9M296.4 597.7h0.9M295.5 609.5h0.9M306.8 607.4h0.9M305.7 599.6h0.9M312.5 603.3h0.9M304.3 602.7h0.9M306.3 600.8h0.9M300.4 588.7h0.9M314.8 590.6h0.9M287.6 594.4h0.9M314.0 606.9h0.9M297.6 600.7h0.9M301.3 586.1h0.9M299.3 600.9h0.9M309.1 591.2h0.9M286.9 588.8h0.9M303.6 599.5h0.9M302.5 600.0h0.9M299.1 590.1h0.9M304.4 601.5h0.9M305.2 607.1h0.9M293.5 583.8h0.9M289.9 612.9h0.9M295.6 601.6h0.9M301.4 603.7h0.9M322.3 595.6h0.9M300.4 595.1h0.9M303.1 602.4h0.9M295.2 607.6h0.9M308.9 601.9h0.9M300.8 597.5h0.9M290.8 603.3h0.9M295.2 595.7h0.9M308.0 593.0h0.9M298.1 604.6h0.9M313.6 594.5h0.9M308.7 594.7h0.9M304.0 602.1h0.9M294.1 605.7h0.9M313.2 599.3h0.9M303.3 591.4h0.9M313.1 599.4h0.9M293.2 604.0h0.9M292.0 594.5h0.9M287.6 607.9h0.9M315.9 594.9h0.9M297.3 595.2h0.9M297.8 602.6h0.9M311.0 592.5h0.9M304.4 587.3h0.9M311.4 598.4h0.9M296.9 609.0h0.9M300.8 607.9h0.9M308.5 609.8h0.9M296.3 599.4h0.9M303.9 597.7h0.9M311.4 594.4h0.9M308.0 607.9h0.9M288.8 592.7h0.9M295.6 595.5h0.9M304.0 597.9h0.9M302.0 596.0h0.9M301.0 602.1h0.9M306.3 593.9h0.9M300.8 594.0h0.9M300.3 589.7h0.9M307.7 603.4h0.9M300.7 594.6h0.9M298.5 594.7h0.9M291.5 609.6h0.9M322.9 591.0h0.9M293.9 602.8h0.9M305.4 588.8h0.9M289.0 602.5h0.9M288.6 608.3h0.9M298.3 599.6h0.9M301.5 595.4h0.9M300.6 597.1h0.9M309.6 598.4h0.9M301.3 595.6h0.9M297.4 594.2h0.9M301.6 610.9h0.9M308.7 600.5h0.9M312.3 605.6h0.9M302.8 597.9h0.9M294.4 600.6h0.9M299.4 588.7h0.9M293.1 611.6h0.9M302.9 602.2h0.9M302.8 596.0h0.9M304.5 606.0h0.9M299.5 602.3h0.9M308.2 595.9h0.9M302.6 594.2h0.9M305.4 596.6h0.9M309.0 594.0h0.9M312.5 597.0h0.9M296.0 593.1h0.9M305.8 593.4h0.9M313.2 607.3h0.9M304.9 589.8h0.9M301.3 594.3h0.9M289.7 601.8h0.9M315.8 595.5h0.9M306.8 607.3h0.9M295.3 596.8h0.9M303.2 602.1h0.9M294.1 600.4h0.9M300.8 605.2h0.9M291.1 595.3h0.9M298.2 596.9h0.9M306.2 594.9h0.9M319.3 594.4h0.9M307.0 605.6h0.9" stroke="#e3363c" stroke-opacity="0.32" stroke-width="0.9" fill="none"/>
<path d="M305.4 597.8h0.9M299.1 597.6h0.9M304.3 598.9h0.9M304.0 600.5h0.9M298.9 595.2h0.9M307.0 596.8h0.9M296.5 605.0h0.9M299.1 595.2h0.9M305.4 594.5h0.9M299.0 602.2h0.9M299.1 607.3h0.9M302.3 607.9h0.9M302.5 598.7h0.9M299.8 597.7h0.9M300.2 598.4h0.9M304.7 594.1h0.9M298.8 591.2h0.9M307.3 598.2h0.9M302.0 598.3h0.9M305.5 599.6h0.9M305.0 597.9h0.9M301.6 598.3h0.9M295.5 602.3h0.9M296.5 595.0h0.9M304.3 598.7h0.9M304.8 604.5h0.9M308.5 603.3h0.9M301.2 605.7h0.9M298.9 598.2h0.9M305.5 597.8h0.9M301.6 597.3h0.9M306.8 589.9h0.9M306.5 602.2h0.9M301.7 600.5h0.9M298.6 602.4h0.9M312.7 595.3h0.9M306.9 598.3h0.9M300.8 596.8h0.9M301.3 594.1h0.9M297.2 604.3h0.9M301.9 600.4h0.9M303.1 600.2h0.9M296.7 595.2h0.9M304.2 602.0h0.9M298.0 596.5h0.9M298.3 600.8h0.9M303.2 598.6h0.9M299.7 599.7h0.9M302.1 595.9h0.9M303.2 596.2h0.9M305.3 600.7h0.9M299.6 600.6h0.9M302.2 596.0h0.9M298.8 592.7h0.9M298.0 599.7h0.9M306.2 596.3h0.9M302.6 599.7h0.9M304.7 600.1h0.9M306.3 601.2h0.9M299.3 599.9h0.9M293.8 597.9h0.9M302.1 600.5h0.9M300.9 601.4h0.9M306.6 595.6h0.9M300.1 599.4h0.9M303.7 599.0h0.9M304.9 594.4h0.9M304.7 602.6h0.9M305.9 600.0h0.9M301.2 599.9h0.9M301.7 592.9h0.9M299.9 598.4h0.9M300.2 595.2h0.9M301.2 597.2h0.9M302.2 598.3h0.9M302.6 602.0h0.9M302.5 599.9h0.9M297.7 588.2h0.9M300.6 600.9h0.9M300.8 596.3h0.9M297.7 601.6h0.9M300.2 599.4h0.9M306.0 600.4h0.9M309.9 598.0h0.9M305.3 600.9h0.9M299.7 598.7h0.9M300.0 594.9h0.9M303.0 595.8h0.9M307.9 595.9h0.9M300.1 598.8h0.9M300.2 598.7h0.9M299.9 593.5h0.9M293.6 594.0h0.9M307.3 600.1h0.9M302.5 596.9h0.9M301.5 599.5h0.9M297.1 595.7h0.9M298.9 602.9h0.9M298.3 602.6h0.9M300.4 608.0h0.9M301.7 598.6h0.9M306.7 601.6h0.9M305.3 594.8h0.9M306.0 604.4h0.9M301.6 596.8h0.9M298.2 602.1h0.9M303.0 598.5h0.9M297.7 604.2h0.9M305.1 598.4h0.9M307.2 595.2h0.9M305.1 595.0h0.9M306.9 597.5h0.9M306.3 597.0h0.9M303.4 602.5h0.9M298.8 598.8h0.9M299.1 601.5h0.9M299.9 597.2h0.9M301.3 602.6h0.9M298.4 598.4h0.9M300.8 596.6h0.9M299.2 597.9h0.9M302.7 593.1h0.9M302.8 594.4h0.9M302.1 606.5h0.9M298.6 598.3h0.9M301.1 601.9h0.9M300.3 592.3h0.9M296.4 599.1h0.9M302.9 602.2h0.9M300.1 600.8h0.9M298.3 603.0h0.9M301.8 596.1h0.9M302.6 604.6h0.9M299.0 594.2h0.9M298.4 594.5h0.9M301.8 599.7h0.9M301.4 599.2h0.9M306.1 597.5h0.9M297.6 590.5h0.9M302.8 596.1h0.9M301.1 599.9h0.9M303.6 593.0h0.9M298.6 598.8h0.9M301.5 602.5h0.9M300.2 591.3h0.9M306.1 592.8h0.9M298.6 599.9h0.9M298.3 607.2h0.9M302.8 600.4h0.9M300.5 606.3h0.9M303.9 596.0h0.9M306.4 592.6h0.9M299.9 599.5h0.9M302.5 595.1h0.9M307.5 603.7h0.9M298.7 599.8h0.9M299.8 597.0h0.9M305.5 598.9h0.9M301.6 598.9h0.9M297.9 602.8h0.9M299.4 603.1h0.9M300.4 596.9h0.9M307.2 599.2h0.9M299.8 596.6h0.9M304.1 605.0h0.9M304.1 597.1h0.9M298.1 596.1h0.9M301.6 599.4h0.9M299.7 603.0h0.9M298.6 596.0h0.9M303.7 600.2h0.9M300.6 601.9h0.9M297.1 604.2h0.9M309.7 605.3h0.9M302.4 605.4h0.9M302.2 603.2h0.9M301.3 599.2h0.9M303.8 592.4h0.9M301.3 604.5h0.9M291.8 599.8h0.9M305.2 599.6h0.9M302.7 603.4h0.9M303.2 591.9h0.9M298.7 597.5h0.9M302.5 596.9h0.9M301.6 604.3h0.9M291.7 602.5h0.9M305.3 600.6h0.9M302.1 598.7h0.9M303.3 599.3h0.9M299.5 601.2h0.9M299.1 598.4h0.9M300.7 594.5h0.9M304.1 598.3h0.9M297.9 598.2h0.9M297.2 603.5h0.9M303.8 605.4h0.9M300.0 601.0h0.9M298.6 595.5h0.9M301.7 599.9h0.9M305.2 597.6h0.9M305.9 601.9h0.9M298.9 597.9h0.9M298.8 604.5h0.9M300.1 601.6h0.9M305.2 597.6h0.9M300.3 599.7h0.9M299.3 594.1h0.9M298.6 599.7h0.9M302.7 604.6h0.9M295.6 600.3h0.9M298.0 602.5h0.9M304.4 598.9h0.9M307.1 597.2h0.9M300.2 594.8h0.9M299.7 598.9h0.9M304.3 603.0h0.9M301.1 596.0h0.9M300.8 597.0h0.9M300.4 597.1h0.9M299.0 598.3h0.9M300.2 597.9h0.9M297.2 599.0h0.9M304.0 600.8h0.9M300.1 594.5h0.9M297.5 594.4h0.9M299.8 597.4h0.9M295.8 600.8h0.9M296.7 596.1h0.9M299.5 601.4h0.9M308.4 597.3h0.9M301.0 597.1h0.9M301.3 597.9h0.9M310.6 594.7h0.9M301.6 595.8h0.9M303.2 596.7h0.9M304.0 594.8h0.9M309.3 599.2h0.9M295.9 600.9h0.9M300.4 594.5h0.9M303.5 596.7h0.9M304.6 596.6h0.9M305.1 599.0h0.9M303.2 599.0h0.9M300.7 597.3h0.9M303.6 601.0h0.9M300.6 606.2h0.9M307.9 594.5h0.9M305.8 598.3h0.9M302.8 595.8h0.9M307.7 595.7h0.9M301.7 596.0h0.9M308.7 602.8h0.9M297.4 596.9h0.9M303.3 597.0h0.9M300.8 594.8h0.9M302.9 594.7h0.9M304.9 606.8h0.9M300.9 604.2h0.9M303.3 596.2h0.9M300.8 595.2h0.9M302.4 600.9h0.9M305.2 597.5h0.9M297.9 598.2h0.9M307.8 599.5h0.9M301.8 591.4h0.9M300.5 600.4h0.9M298.7 603.1h0.9M300.0 595.5h0.9M300.0 598.2h0.9M305.4 596.6h0.9M295.9 598.2h0.9M303.8 603.8h0.9M298.1 603.6h0.9M304.3 600.1h0.9M299.4 595.5h0.9M298.7 601.7h0.9M302.8 602.2h0.9M308.3 598.6h0.9M301.8 605.1h0.9M297.5 597.0h0.9M300.7 597.2h0.9M302.5 595.6h0.9M306.0 593.8h0.9M299.2 592.7h0.9M297.2 600.5h0.9M304.2 597.8h0.9M304.9 600.6h0.9M300.0 598.4h0.9M303.3 605.4h0.9M300.5 599.8h0.9M303.9 602.7h0.9M303.5 602.2h0.9M298.3 597.6h0.9M295.3 598.3h0.9M310.0 599.3h0.9M302.3 599.4h0.9M302.5 594.0h0.9M299.6 597.9h0.9M302.6 595.6h0.9M301.6 596.0h0.9M297.5 596.3h0.9M299.2 601.4h0.9M306.6 600.5h0.9M301.3 596.6h0.9M296.6 596.7h0.9M307.4 602.5h0.9M302.8 597.7h0.9M302.0 600.0h0.9M302.0 600.0h0.9M299.3 598.7h0.9M300.8 602.2h0.9M297.7 603.0h0.9M301.7 596.8h0.9M302.1 598.9h0.9M301.2 600.0h0.9M300.0 592.7h0.9M304.4 598.4h0.9M307.7 599.8h0.9M295.1 602.8h0.9M299.6 600.4h0.9M309.6 602.3h0.9M298.2 598.2h0.9M296.5 600.8h0.9M303.9 595.0h0.9M303.6 601.7h0.9M304.8 596.2h0.9M299.6 594.7h0.9M297.6 599.6h0.9M302.1 603.0h0.9M302.9 597.4h0.9M297.1 603.8h0.9M302.6 598.4h0.9M298.5 595.0h0.9M304.2 595.2h0.9M304.0 600.7h0.9M300.7 593.0h0.9M303.4 603.3h0.9M299.2 594.2h0.9M305.7 599.0h0.9M299.9 602.7h0.9M301.0 600.1h0.9M300.6 596.0h0.9M302.8 595.6h0.9M295.9 596.7h0.9M306.2 602.3h0.9M309.5 601.9h0.9M307.5 599.4h0.9M300.5 600.1h0.9M298.7 601.0h0.9M300.5 599.4h0.9M299.1 598.1h0.9M305.4 597.8h0.9M299.7 599.5h0.9M305.0 597.9h0.9M298.0 593.2h0.9M297.4 602.2h0.9M301.7 600.2h0.9M305.7 599.5h0.9M303.7 596.8h0.9M296.5 600.7h0.9M301.7 600.5h0.9M298.3 598.1h0.9M308.9 595.7h0.9M302.3 603.0h0.9M301.2 599.0h0.9M294.7 601.2h0.9M300.5 602.9h0.9M301.7 597.3h0.9M303.5 597.7h0.9M300.2 603.8h0.9M305.4 598.9h0.9M304.8 601.3h0.9M304.0 598.7h0.9M302.2 599.9h0.9M303.9 599.7h0.9M300.1 598.3h0.9M303.6 595.2h0.9M302.0 601.1h0.9M302.6 597.6h0.9M301.9 596.9h0.9M305.4 597.3h0.9M296.3 594.5h0.9M303.0 599.3h0.9M300.4 594.1h0.9M301.5 595.7h0.9M299.8 598.5h0.9M299.4 599.6h0.9M299.5 597.0h0.9M301.2 603.5h0.9M307.4 601.7h0.9M299.5 598.6h0.9M305.1 601.3h0.9M296.4 598.4h0.9M299.5 601.1h0.9M304.2 596.8h0.9M309.3 597.6h0.9M310.4 598.0h0.9M301.7 604.9h0.9M300.2 597.0h0.9M307.1 598.4h0.9M303.6 594.3h0.9M308.1 601.8h0.9M303.2 600.9h0.9M300.3 597.0h0.9M296.6 599.8h0.9M306.2 601.4h0.9M305.2 600.9h0.9M298.8 594.2h0.9M304.2 599.1h0.9M305.4 597.6h0.9M299.0 600.0h0.9M300.1 593.1h0.9M299.9 595.6h0.9M298.2 596.7h0.9M305.3 606.4h0.9M307.9 597.2h0.9M305.9 598.3h0.9M303.4 596.3h0.9M301.7 593.0h0.9M308.1 596.0h0.9M304.0 596.6h0.9M302.9 594.6h0.9M300.7 601.6h0.9M304.0 592.1h0.9M304.9 594.2h0.9M303.0 600.3h0.9M299.8 597.5h0.9M301.2 599.9h0.9M305.1 603.1h0.9M303.1 605.2h0.9M298.8 604.5h0.9M301.1 601.1h0.9M301.6 598.8h0.9M298.9 599.8h0.9M308.9 599.1h0.9M301.9 598.6h0.9M304.4 597.9h0.9M302.0 599.3h0.9M306.5 601.7h0.9M298.4 596.5h0.9M302.1 601.4h0.9M305.3 597.9h0.9M309.3 598.0h0.9M306.8 603.3h0.9M307.5 599.2h0.9M304.0 593.5h0.9M295.9 596.5h0.9M304.5 602.1h0.9M301.6 602.0h0.9" stroke="#e02a30" stroke-opacity="0.42" stroke-width="0.9" fill="none"/>
<path d="M271.5 577.6h0.9M262.0 565.3h0.9M265.8 565.6h0.9M280.3 570.6h0.9M265.8 568.2h0.9M275.5 570.9h0.9M273.5 574.3h0.9M269.0 561.4h0.9M266.2 564.9h0.9M280.0 571.3h0.9M263.5 570.6h0.9M271.3 567.8h0.9M275.1 576.3h0.9M272.4 568.8h0.9M267.4 562.1h0.9M271.7 573.1h0.9M264.8 569.6h0.9M289.7 572.7h0.9M259.7 570.3h0.9M268.1 568.5h0.9M273.6 571.7h0.9M275.0 574.7h0.9M276.4 573.5h0.9M256.3 572.2h0.9M259.3 571.9h0.9M273.0 566.4h0.9M269.4 574.4h0.9M264.2 569.4h0.9M267.0 566.1h0.9M265.1 574.6h0.9M273.9 572.1h0.9M269.4 571.4h0.9M271.4 572.2h0.9M259.3 571.4h0.9M268.1 560.1h0.9M275.3 567.9h0.9M269.3 570.5h0.9M266.1 572.0h0.9M268.8 569.6h0.9M264.9 568.4h0.9M264.1 569.4h0.9M276.3 577.0h0.9M273.9 566.8h0.9M274.7 576.2h0.9M284.1 566.5h0.9M270.5 569.9h0.9M277.3 569.0h0.9M265.2 578.8h0.9M277.8 565.5h0.9M268.6 576.0h0.9M265.8 572.1h0.9M272.2 565.9h0.9M265.2 574.1h0.9M277.3 570.9h0.9M277.1 570.4h0.9M271.4 571.4h0.9M262.6 570.0h0.9M270.9 560.4h0.9M266.3 566.5h0.9M266.4 566.0h0.9M268.9 560.9h0.9M274.9 572.8h0.9M271.7 570.5h0.9M270.6 570.2h0.9M265.6 563.6h0.9M269.3 574.9h0.9M269.5 577.3h0.9M262.6 567.7h0.9M265.1 574.4h0.9M280.1 572.1h0.9M274.4 571.4h0.9M264.5 568.9h0.9M262.4 574.9h0.9M272.0 576.4h0.9M274.8 562.8h0.9M274.4 572.8h0.9M256.4 567.2h0.9M273.8 579.0h0.9M263.3 572.1h0.9M272.1 571.0h0.9M267.8 572.5h0.9M272.5 574.4h0.9M269.2 565.5h0.9M276.0 578.1h0.9M266.8 569.9h0.9M276.5 566.0h0.9M270.1 580.7h0.9M272.3 568.9h0.9M281.5 574.6h0.9M271.7 569.8h0.9M273.0 564.8h0.9M264.4 563.4h0.9M275.2 572.2h0.9M278.8 565.6h0.9M265.0 575.3h0.9M267.6 562.8h0.9M266.2 568.4h0.9M268.4 575.8h0.9M275.7 579.0h0.9M273.8 570.2h0.9M268.9 564.7h0.9M275.8 577.8h0.9M271.5 567.9h0.9M273.2 574.0h0.9M272.2 567.0h0.9M272.0 569.4h0.9M273.5 574.5h0.9M273.0 570.2h0.9M277.7 576.5h0.9M276.2 576.3h0.9M273.3 573.6h0.9M266.0 562.5h0.9M264.0 571.6h0.9M274.9 573.3h0.9M268.4 577.9h0.9M269.8 563.8h0.9M261.7 567.1h0.9M273.1 574.9h0.9M267.8 573.6h0.9M270.5 568.3h0.9M267.0 573.1h0.9M276.6 568.5h0.9M264.3 569.7h0.9M283.3 570.4h0.9M262.5 570.4h0.9M273.6 569.6h0.9M269.3 572.7h0.9M260.2 567.9h0.9M272.3 575.4h0.9M276.6 572.8h0.9M260.4 573.4h0.9M275.1 570.0h0.9M274.6 576.6h0.9M271.9 562.1h0.9M268.2 567.4h0.9M265.4 569.3h0.9M263.5 570.6h0.9M282.0 569.9h0.9M276.5 570.9h0.9M273.2 571.5h0.9M278.0 570.6h0.9M275.0 569.4h0.9M271.3 571.3h0.9M277.9 567.1h0.9M260.8 573.8h0.9M270.2 577.9h0.9M264.0 570.0h0.9M271.4 578.5h0.9M270.2 569.3h0.9M274.1 571.9h0.9" stroke="#8ccc62" stroke-opacity="0.3" stroke-width="0.9" fill="none"/>
<path d="M262.3 572.9h0.9M258.9 566.1h0.9M268.5 568.1h0.9M263.6 571.4h0.9M267.8 572.0h0.9M261.7 567.8h0.9M267.6 569.5h0.9M262.6 573.4h0.9M267.9 578.3h0.9M261.3 567.3h0.9M262.5 571.4h0.9M263.1 574.3h0.9M256.6 573.7h0.9M262.6 568.9h0.9M266.2 570.8h0.9M261.5 575.8h0.9M266.2 568.1h0.9M265.1 565.8h0.9M260.9 568.8h0.9M265.6 570.4h0.9M262.2 564.7h0.9M259.6 576.1h0.9M265.6 566.9h0.9M268.0 572.1h0.9M263.3 567.6h0.9M267.8 571.3h0.9M269.3 571.4h0.9M262.8 567.7h0.9M262.4 571.0h0.9M265.2 572.3h0.9M265.8 566.0h0.9M263.9 566.4h0.9M265.9 565.0h0.9M262.8 566.7h0.9M262.7 569.0h0.9M268.9 569.0h0.9M260.3 568.8h0.9M266.7 572.1h0.9M265.2 577.6h0.9M267.7 570.4h0.9M268.1 564.9h0.9M264.0 566.7h0.9M265.0 576.2h0.9M263.1 576.1h0.9M261.5 575.5h0.9M259.6 566.7h0.9M267.4 569.6h0.9M264.9 570.0h0.9M265.0 569.3h0.9M261.6 568.9h0.9M264.8 566.5h0.9M265.9 576.8h0.9M259.7 567.9h0.9M263.7 570.1h0.9M264.8 567.2h0.9M264.4 570.0h0.9M264.2 575.9h0.9M264.9 564.3h0.9M259.9 572.3h0.9M263.5 567.6h0.9M260.5 568.8h0.9M264.2 567.4h0.9M263.5 573.4h0.9M266.8 572.1h0.9M264.0 564.8h0.9M266.8 575.7h0.9M268.2 574.5h0.9M265.3 571.4h0.9M264.5 574.8h0.9M263.7 578.2h0.9M266.8 568.8h0.9M264.5 563.8h0.9M262.4 568.8h0.9M271.6 566.9h0.9M267.2 570.3h0.9M263.6 572.4h0.9M258.7 573.6h0.9M270.1 571.1h0.9M264.3 570.6h0.9M266.4 568.1h0.9M264.9 571.9h0.9M263.5 571.5h0.9M265.5 572.7h0.9M261.6 567.9h0.9M263.3 574.6h0.9M265.2 563.7h0.9M260.8 577.4h0.9M265.5 565.0h0.9M261.8 570.5h0.9M268.7 576.2h0.9M263.4 568.9h0.9M270.1 566.2h0.9M269.1 571.3h0.9M264.8 574.9h0.9M265.9 566.8h0.9M260.1 570.1h0.9M266.0 575.2h0.9M256.9 575.2h0.9M266.3 575.8h0.9M266.8 570.8h0.9M265.8 571.5h0.9M262.7 569.6h0.9M264.9 568.3h0.9M260.2 564.5h0.9M266.0 572.0h0.9M264.8 565.5h0.9M267.0 568.5h0.9M258.5 576.0h0.9M260.2 578.7h0.9M266.1 568.3h0.9M257.7 567.3h0.9M268.8 575.2h0.9M265.3 563.4h0.9M263.4 568.9h0.9M265.8 569.5h0.9M265.5 563.7h0.9M262.6 575.5h0.9M260.3 573.6h0.9M271.2 572.5h0.9M260.5 574.8h0.9M259.1 571.3h0.9M263.3 574.8h0.9M267.9 570.7h0.9M269.7 573.8h0.9M263.1 566.2h0.9M271.7 568.4h0.9M265.7 569.6h0.9M263.1 563.8h0.9M264.1 569.6h0.9M267.4 568.0h0.9M259.9 565.9h0.9M264.4 571.0h0.9M266.6 568.5h0.9M266.1 570.6h0.9M269.4 569.8h0.9M264.9 572.2h0.9M268.1 566.5h0.9M263.1 568.9h0.9M258.3 575.0h0.9M267.6 570.1h0.9M274.3 574.9h0.9M270.4 576.0h0.9M267.1 564.5h0.9M269.0 571.6h0.9M261.0 570.2h0.9M266.7 573.8h0.9M265.0 568.0h0.9M266.7 567.1h0.9M264.3 572.9h0.9M260.3 571.4h0.9M258.8 566.4h0.9M260.9 569.7h0.9M266.6 569.8h0.9M267.2 570.4h0.9M263.9 571.9h0.9M263.8 570.5h0.9M267.5 567.8h0.9M267.9 565.7h0.9M263.9 563.3h0.9M263.0 576.1h0.9M265.5 574.9h0.9M260.2 566.1h0.9M265.9 573.2h0.9M266.9 563.5h0.9M266.0 569.7h0.9M264.9 571.8h0.9M263.7 563.5h0.9M261.4 564.4h0.9M260.7 569.5h0.9M268.3 567.2h0.9M262.3 565.6h0.9M259.5 570.3h0.9M263.1 569.1h0.9M261.7 571.9h0.9M261.0 572.1h0.9M262.6 573.0h0.9M261.9 571.7h0.9M265.8 569.7h0.9M269.3 570.7h0.9M261.9 572.7h0.9M262.1 567.9h0.9M264.5 570.7h0.9M269.5 563.3h0.9M263.7 574.4h0.9M264.0 571.2h0.9M269.0 565.2h0.9M264.6 573.1h0.9M262.8 563.2h0.9M261.6 570.8h0.9M265.1 577.1h0.9M268.4 564.0h0.9M267.5 573.5h0.9M269.2 569.4h0.9M262.9 570.6h0.9M269.0 572.4h0.9M269.5 573.0h0.9M262.8 566.1h0.9M269.9 564.1h0.9M263.5 568.8h0.9M261.8 567.8h0.9M264.5 579.2h0.9M264.3 568.0h0.9M264.9 573.6h0.9M262.1 568.4h0.9M259.4 572.7h0.9M266.5 575.8h0.9M261.0 578.4h0.9M267.1 568.9h0.9M263.4 568.8h0.9M261.0 573.0h0.9M262.7 567.2h0.9M266.0 570.4h0.9M262.8 569.1h0.9M263.1 575.2h0.9M267.4 567.2h0.9M264.4 575.3h0.9M263.7 576.9h0.9M265.8 572.6h0.9M258.4 573.3h0.9M265.5 572.3h0.9M265.9 572.0h0.9M263.0 573.5h0.9M264.7 565.9h0.9M261.5 570.6h0.9M265.5 561.5h0.9M258.5 574.1h0.9M264.5 581.0h0.9M260.0 569.0h0.9M262.7 572.2h0.9M268.6 576.2h0.9M261.5 574.8h0.9M260.9 571.2h0.9M265.0 572.4h0.9M262.2 575.2h0.9M264.3 569.9h0.9M263.7 565.9h0.9M266.6 571.3h0.9M265.8 577.2h0.9M262.0 568.9h0.9M264.5 573.3h0.9M264.0 573.6h0.9M265.8 563.2h0.9M262.5 562.1h0.9M263.7 568.4h0.9M266.2 570.7h0.9M264.3 574.9h0.9M266.2 565.2h0.9M262.5 571.3h0.9M269.5 569.2h0.9M264.0 571.0h0.9M266.8 569.7h0.9M265.4 568.4h0.9M262.9 566.9h0.9M266.4 567.8h0.9M266.1 571.6h0.9M267.4 559.6h0.9M261.7 565.3h0.9M264.0 573.1h0.9M271.9 576.0h0.9M268.5 571.5h0.9M263.4 572.1h0.9M258.1 573.6h0.9M264.5 572.4h0.9M261.5 565.7h0.9M262.6 569.8h0.9M265.5 568.6h0.9M265.5 572.6h0.9M261.1 569.6h0.9M259.9 567.9h0.9M267.2 567.2h0.9M270.0 572.0h0.9M267.1 570.4h0.9M267.0 574.3h0.9M264.8 567.9h0.9M262.9 577.5h0.9M264.0 568.2h0.9M262.4 563.4h0.9M263.0 571.3h0.9M263.1 567.1h0.9M265.7 571.8h0.9M263.2 571.2h0.9M261.6 573.3h0.9M261.6 568.7h0.9M264.9 568.4h0.9M261.1 578.2h0.9M268.9 563.2h0.9M264.9 565.1h0.9M265.4 564.9h0.9M266.2 572.1h0.9M269.5 574.7h0.9M263.2 573.7h0.9M263.2 569.6h0.9M263.0 563.1h0.9M266.3 562.1h0.9M263.8 572.0h0.9M264.8 563.9h0.9M262.6 572.6h0.9M267.7 576.2h0.9M259.2 571.8h0.9M263.1 573.0h0.9M259.6 569.4h0.9M266.6 567.5h0.9M263.4 566.2h0.9M267.8 564.8h0.9M261.8 568.7h0.9M263.6 578.2h0.9M265.3 566.8h0.9M266.2 571.3h0.9M265.3 569.7h0.9M265.9 565.4h0.9M261.0 568.3h0.9M261.3 572.7h0.9M270.2 574.8h0.9M265.8 571.3h0.9M262.5 564.9h0.9M266.1 564.2h0.9M265.4 569.5h0.9M266.7 570.2h0.9M264.8 567.7h0.9M259.5 568.7h0.9M266.5 574.1h0.9M268.5 566.1h0.9M261.8 572.7h0.9M263.2 580.0h0.9M265.4 564.1h0.9M262.9 576.1h0.9M259.2 570.6h0.9M260.4 576.2h0.9M263.2 566.0h0.9M259.5 567.2h0.9M257.0 568.2h0.9M270.9 570.4h0.9M263.7 565.5h0.9M265.5 568.2h0.9M262.0 575.4h0.9M265.8 566.5h0.9M268.8 569.8h0.9M266.0 570.6h0.9M268.0 572.4h0.9M263.5 572.8h0.9M263.4 570.5h0.9M269.3 565.9h0.9M261.5 568.4h0.9M263.0 575.1h0.9M259.8 578.9h0.9M269.1 568.2h0.9M265.0 568.6h0.9M266.5 572.6h0.9M266.7 573.0h0.9M270.2 569.3h0.9M266.6 569.3h0.9M264.6 570.9h0.9M264.3 571.3h0.9M262.0 569.4h0.9M262.7 565.4h0.9M262.4 568.1h0.9M264.1 563.9h0.9M263.7 565.6h0.9M262.1 570.7h0.9M267.8 571.1h0.9M263.1 568.3h0.9M268.4 563.7h0.9M267.8 564.1h0.9M262.6 570.2h0.9M263.9 576.5h0.9M266.0 569.8h0.9M267.3 570.1h0.9M262.1 574.4h0.9M268.9 575.0h0.9M261.1 577.4h0.9M263.3 573.0h0.9M268.0 579.3h0.9M259.8 566.0h0.9M268.0 571.9h0.9M263.6 558.6h0.9M265.8 569.3h0.9M256.8 580.5h0.9M257.2 567.8h0.9M264.5 570.9h0.9M266.7 569.0h0.9M261.9 568.6h0.9M258.3 565.6h0.9M270.3 567.3h0.9M264.3 577.4h0.9M267.6 570.5h0.9M266.7 568.9h0.9M261.8 573.9h0.9M264.9 576.3h0.9M263.7 568.5h0.9M265.5 569.3h0.9M263.6 566.5h0.9M265.2 571.3h0.9M269.9 569.9h0.9M259.3 571.8h0.9M271.2 568.3h0.9M262.1 569.3h0.9M256.1 568.7h0.9M263.9 564.1h0.9M266.2 566.6h0.9M259.1 567.2h0.9M266.4 577.5h0.9M268.2 570.8h0.9M263.0 569.0h0.9M267.3 568.0h0.9M265.7 573.8h0.9M261.8 567.7h0.9M265.8 570.0h0.9M264.1 567.9h0.9M264.3 577.3h0.9M268.5 563.7h0.9M264.6 570.4h0.9M264.6 564.6h0.9M264.1 570.6h0.9M262.5 571.2h0.9M257.3 564.1h0.9M264.8 571.5h0.9M264.0 568.2h0.9M265.0 574.2h0.9M267.1 569.7h0.9M263.1 574.2h0.9M266.1 573.5h0.9M263.7 566.6h0.9M265.1 567.6h0.9M267.9 573.3h0.9M258.1 572.6h0.9M268.4 574.1h0.9M263.1 566.6h0.9M267.4 574.0h0.9M264.7 565.5h0.9M260.0 571.0h0.9M262.1 567.3h0.9M265.8 574.1h0.9M258.4 567.4h0.9M268.3 569.8h0.9M263.5 572.5h0.9M261.1 565.2h0.9M264.6 576.1h0.9M267.5 570.0h0.9M267.5 568.4h0.9M261.0 563.4h0.9M265.3 573.5h0.9M265.6 569.9h0.9M263.3 574.3h0.9M264.4 564.4h0.9M268.5 567.5h0.9M265.7 570.0h0.9M267.6 571.0h0.9M268.1 570.8h0.9M263.1 568.0h0.9M266.4 566.8h0.9M267.2 569.1h0.9M261.8 566.6h0.9M264.1 576.9h0.9M266.8 570.1h0.9M261.8 577.5h0.9M263.7 570.0h0.9M263.3 575.2h0.9M265.0 568.2h0.9M265.0 566.1h0.9M261.4 569.4h0.9M256.0 574.6h0.9M270.4 565.6h0.9M264.1 563.8h0.9M265.0 570.8h0.9M266.7 564.8h0.9M262.7 567.5h0.9M263.8 579.0h0.9M263.9 569.8h0.9M263.0 573.1h0.9M272.1 574.6h0.9M269.0 565.8h0.9M267.6 570.1h0.9M268.2 574.2h0.9M266.4 563.4h0.9M264.9 568.0h0.9M265.8 570.1h0.9M267.6 563.7h0.9M262.3 569.7h0.9M265.4 568.4h0.9M264.4 570.2h0.9M267.6 569.6h0.9M265.2 562.9h0.9M256.8 564.3h0.9M265.6 561.0h0.9M265.7 569.6h0.9M264.5 567.1h0.9M263.3 573.3h0.9M265.6 569.9h0.9M263.1 570.8h0.9M268.0 569.9h0.9M263.4 565.4h0.9M264.8 566.4h0.9M260.3 573.4h0.9M262.7 562.0h0.9M262.4 577.2h0.9M264.2 564.8h0.9M261.2 572.8h0.9M265.7 570.8h0.9M263.9 571.9h0.9M269.0 571.9h0.9M264.0 564.5h0.9M265.8 576.2h0.9M266.4 565.1h0.9M265.0 575.1h0.9M262.6 571.9h0.9M268.1 576.4h0.9M259.8 563.1h0.9M265.6 572.8h0.9M263.5 569.9h0.9M263.3 574.7h0.9M258.0 571.0h0.9M260.7 567.3h0.9M260.0 566.4h0.9M264.4 570.1h0.9M269.8 569.1h0.9M265.5 571.4h0.9M265.3 575.8h0.9M264.9 570.6h0.9M264.2 570.0h0.9M264.3 573.9h0.9M264.6 570.3h0.9M264.4 573.0h0.9M263.1 573.7h0.9M262.8 572.7h0.9M270.2 570.9h0.9M264.2 565.4h0.9M266.7 570.1h0.9M267.2 567.4h0.9M266.0 577.1h0.9M265.7 568.7h0.9M260.6 570.0h0.9M266.4 572.4h0.9M261.2 566.0h0.9M261.6 566.0h0.9M263.7 571.0h0.9M270.2 570.8h0.9M268.8 563.5h0.9M269.1 573.1h0.9M265.8 573.3h0.9M266.3 577.5h0.9M266.9 563.1h0.9M259.3 576.4h0.9M264.3 575.2h0.9M263.5 567.4h0.9M263.5 571.2h0.9M265.1 567.6h0.9M266.1 572.4h0.9M261.8 565.6h0.9M258.7 568.8h0.9M264.5 567.3h0.9M262.7 569.5h0.9M264.6 572.3h0.9M267.0 571.7h0.9M267.8 566.2h0.9M266.3 571.5h0.9M261.4 567.3h0.9M265.8 570.3h0.9M260.8 567.8h0.9M269.0 573.3h0.9M264.7 575.3h0.9M261.8 569.3h0.9M267.3 568.7h0.9M261.2 572.3h0.9M269.2 560.0h0.9M265.0 565.1h0.9M263.6 564.4h0.9M272.2 567.3h0.9M264.6 567.2h0.9M261.6 568.2h0.9M265.1 576.9h0.9M265.4 576.2h0.9M261.3 570.3h0.9M263.2 563.8h0.9M275.6 569.0h0.9M265.2 567.0h0.9M262.8 565.9h0.9M267.5 568.4h0.9M264.1 570.7h0.9M260.9 570.9h0.9M264.0 571.8h0.9M263.4 570.2h0.9M266.0 573.8h0.9M262.5 573.8h0.9M261.6 569.3h0.9M264.9 570.6h0.9M257.1 566.1h0.9M264.0 573.7h0.9M262.4 576.0h0.9M259.2 570.3h0.9M266.1 570.1h0.9M265.3 573.7h0.9M262.1 572.3h0.9M267.7 569.1h0.9M257.6 565.3h0.9M262.0 565.8h0.9M265.8 566.8h0.9M271.9 572.3h0.9M260.6 568.9h0.9M269.0 572.7h0.9M261.5 574.1h0.9M263.1 578.8h0.9M262.9 572.4h0.9M266.2 568.2h0.9M264.0 574.6h0.9M266.0 569.8h0.9M265.8 576.9h0.9M267.3 571.9h0.9M265.5 563.8h0.9M264.9 568.1h0.9M266.7 567.6h0.9M265.8 565.8h0.9M267.2 567.1h0.9M264.4 572.3h0.9M263.5 570.0h0.9M267.6 577.0h0.9M259.1 566.4h0.9M266.5 573.7h0.9M263.1 570.4h0.9M263.9 579.0h0.9M263.9 565.3h0.9M259.9 565.0h0.9M268.4 568.5h0.9M270.3 572.5h0.9M265.6 572.5h0.9M266.8 573.6h0.9M261.6 567.8h0.9M262.9 570.4h0.9M263.8 565.1h0.9M262.4 577.1h0.9M270.8 566.6h0.9M265.6 569.9h0.9M262.0 572.8h0.9M264.3 576.6h0.9M265.9 568.8h0.9M256.7 569.6h0.9M267.0 567.2h0.9M267.1 572.7h0.9M259.3 569.2h0.9M265.5 573.0h0.9M265.0 569.9h0.9M263.5 568.9h0.9M264.5 565.8h0.9M266.4 568.7h0.9M266.0 568.0h0.9M265.7 570.5h0.9M267.1 571.8h0.9M267.3 569.3h0.9M264.3 569.0h0.9M260.8 569.5h0.9M267.7 573.0h0.9M262.0 571.2h0.9M266.7 564.6h0.9M265.5 571.3h0.9M266.7 571.0h0.9M259.3 562.0h0.9M270.4 568.4h0.9M268.3 575.0h0.9M264.8 565.5h0.9M268.6 569.9h0.9M266.0 571.9h0.9M267.3 574.0h0.9M260.3 564.4h0.9M264.9 570.0h0.9M266.8 569.5h0.9M264.0 578.0h0.9M268.6 574.6h0.9M267.6 566.9h0.9M264.2 569.7h0.9M261.3 566.6h0.9M265.0 565.2h0.9M266.1 571.9h0.9M263.8 568.7h0.9M266.3 571.9h0.9M265.6 565.2h0.9M259.7 578.1h0.9M262.6 568.6h0.9M259.1 566.9h0.9M262.3 573.1h0.9M256.7 564.5h0.9M263.3 568.1h0.9M262.2 568.3h0.9M259.8 571.1h0.9M268.0 570.6h0.9M262.9 575.0h0.9M265.9 565.9h0.9M262.8 567.6h0.9M264.4 574.8h0.9M262.4 569.4h0.9M264.8 565.3h0.9M263.1 572.4h0.9M267.9 562.6h0.9M266.6 568.9h0.9M268.3 572.4h0.9M270.3 571.2h0.9M263.3 566.7h0.9M260.3 572.2h0.9M266.0 573.2h0.9M265.5 564.1h0.9M263.3 569.0h0.9M265.0 573.0h0.9M268.7 571.1h0.9M258.4 566.0h0.9M258.2 567.0h0.9M260.9 570.9h0.9M263.8 574.4h0.9M267.7 568.2h0.9M267.3 570.1h0.9M265.9 575.3h0.9M261.1 569.7h0.9M269.1 567.0h0.9M265.1 570.5h0.9M263.3 564.9h0.9M262.5 566.1h0.9M267.7 571.0h0.9M266.6 565.3h0.9M266.0 570.6h0.9M267.6 567.2h0.9M266.9 575.4h0.9M269.8 566.4h0.9M261.2 564.3h0.9M267.4 572.3h0.9M265.5 566.6h0.9M268.2 576.3h0.9M264.4 569.5h0.9M268.0 572.0h0.9M268.5 568.4h0.9M265.5 568.7h0.9M262.8 568.8h0.9M263.7 572.0h0.9M263.6 570.3h0.9M262.1 565.2h0.9M268.7 566.1h0.9M269.9 573.7h0.9M257.7 567.5h0.9M263.3 570.1h0.9M264.0 567.6h0.9M268.2 569.5h0.9M267.4 567.3h0.9M262.5 575.2h0.9M263.7 565.7h0.9M264.0 574.1h0.9M264.0 567.2h0.9M266.4 573.9h0.9M263.9 568.8h0.9M263.4 580.6h0.9M263.9 576.8h0.9M264.1 571.6h0.9M258.5 570.7h0.9M264.7 568.8h0.9M263.3 564.7h0.9M260.1 570.7h0.9M262.6 569.7h0.9M264.0 568.0h0.9M262.3 577.3h0.9M261.2 568.0h0.9M263.6 565.5h0.9M261.7 573.4h0.9M267.3 570.5h0.9M274.1 573.2h0.9M268.2 566.8h0.9M267.7 576.6h0.9M263.4 577.1h0.9M262.1 565.6h0.9M264.4 566.8h0.9M266.4 565.7h0.9M264.8 562.4h0.9M264.4 574.1h0.9M263.7 571.2h0.9M267.7 565.7h0.9M260.7 570.3h0.9M265.3 569.0h0.9M261.6 574.7h0.9M261.1 569.0h0.9M264.4 572.8h0.9M263.2 566.8h0.9M270.5 566.7h0.9M266.9 569.4h0.9M263.1 569.8h0.9M263.8 571.2h0.9M257.0 569.9h0.9M264.7 566.2h0.9M263.4 579.1h0.9M270.0 572.5h0.9M265.2 568.8h0.9M268.6 568.3h0.9M262.1 572.7h0.9M261.6 566.9h0.9M268.8 563.7h0.9M264.3 570.5h0.9M265.3 564.3h0.9M263.8 568.7h0.9M270.2 573.9h0.9M262.3 573.4h0.9M266.4 569.6h0.9M263.8 568.9h0.9M259.9 567.5h0.9M267.3 575.6h0.9M270.0 568.5h0.9M266.3 560.6h0.9M263.7 565.1h0.9M266.9 563.5h0.9M261.4 565.7h0.9M265.7 573.3h0.9M261.8 577.0h0.9M265.0 566.7h0.9M265.5 569.9h0.9M267.0 571.3h0.9M271.0 574.6h0.9M262.6 573.1h0.9M266.8 566.1h0.9M262.3 566.9h0.9M257.2 572.5h0.9M263.9 574.8h0.9M262.9 570.3h0.9M266.7 573.8h0.9M265.5 565.9h0.9M271.0 573.4h0.9M268.5 576.3h0.9M268.7 571.6h0.9M265.9 572.5h0.9M260.1 573.2h0.9M261.6 571.6h0.9M261.5 572.8h0.9M263.1 579.7h0.9M265.1 572.0h0.9M261.8 568.9h0.9M264.3 568.9h0.9M263.2 566.6h0.9M266.8 568.5h0.9M262.1 571.4h0.9M262.1 569.3h0.9M263.0 566.4h0.9M263.9 566.8h0.9M260.8 571.4h0.9M263.6 564.3h0.9M263.4 570.7h0.9M265.8 571.5h0.9M265.3 572.3h0.9M263.1 566.9h0.9M266.3 568.4h0.9M264.6 572.5h0.9M267.3 574.8h0.9M262.5 568.6h0.9M266.2 564.4h0.9M260.8 572.4h0.9M262.7 566.4h0.9M266.9 572.1h0.9M267.2 568.7h0.9M263.7 568.7h0.9M265.4 562.1h0.9M262.5 572.8h0.9M262.2 569.8h0.9M264.9 572.0h0.9M263.1 565.6h0.9M271.9 567.2h0.9M269.6 563.2h0.9M264.9 569.2h0.9M270.1 577.9h0.9M267.4 566.1h0.9M262.2 567.1h0.9M263.0 571.0h0.9M262.2 569.0h0.9M268.9 575.6h0.9M259.0 566.3h0.9M263.4 575.0h0.9M263.6 577.4h0.9M265.6 575.6h0.9M262.0 568.8h0.9M267.5 572.2h0.9M259.0 568.9h0.9M265.1 572.5h0.9M262.7 576.8h0.9M265.0 575.6h0.9M265.7 570.3h0.9M263.6 565.5h0.9M267.1 572.9h0.9M267.3 568.5h0.9M261.6 568.5h0.9M263.6 570.0h0.9M267.4 566.5h0.9M263.1 572.7h0.9M267.2 578.6h0.9M266.1 566.7h0.9M261.5 566.9h0.9M264.7 571.0h0.9M264.3 567.6h0.9M264.0 569.7h0.9M266.3 570.3h0.9M262.1 565.5h0.9M268.9 569.7h0.9M264.0 569.9h0.9M267.9 568.8h0.9M265.1 569.1h0.9M266.2 566.1h0.9M265.1 574.0h0.9M268.0 572.4h0.9M265.4 576.1h0.9M266.6 575.4h0.9M261.0 565.8h0.9M266.9 569.0h0.9M263.3 566.3h0.9M268.9 565.4h0.9M264.8 564.6h0.9M264.0 578.7h0.9M271.7 568.1h0.9M261.6 576.3h0.9M262.0 563.1h0.9M265.6 565.8h0.9M260.3 574.4h0.9M262.4 565.9h0.9M265.0 569.3h0.9M267.8 570.4h0.9M269.2 574.4h0.9M269.8 574.4h0.9M264.8 572.1h0.9M264.6 564.0h0.9M261.1 572.9h0.9M257.6 566.8h0.9M260.8 569.8h0.9M261.5 571.0h0.9M264.0 568.2h0.9M262.1 561.4h0.9M264.8 565.0h0.9M263.7 571.4h0.9M267.6 572.7h0.9M268.9 564.5h0.9M266.5 576.1h0.9M265.7 565.7h0.9M265.7 568.0h0.9M262.7 574.1h0.9M264.0 565.7h0.9M262.6 577.6h0.9M262.1 572.6h0.9M265.1 574.5h0.9M263.7 566.4h0.9M262.7 566.0h0.9M272.2 570.8h0.9M263.6 574.9h0.9M266.5 569.3h0.9M266.4 571.1h0.9M267.9 576.4h0.9M263.6 569.9h0.9M264.0 574.7h0.9M265.7 573.0h0.9M267.2 567.6h0.9M264.9 575.4h0.9M267.3 573.2h0.9M263.7 568.6h0.9M262.0 569.0h0.9M264.4 564.5h0.9M268.0 567.1h0.9M265.3 572.3h0.9M262.9 563.0h0.9M267.4 571.6h0.9M263.8 574.4h0.9M267.2 566.3h0.9M264.3 563.2h0.9M263.8 575.5h0.9M262.1 573.2h0.9M260.1 568.9h0.9M267.3 576.7h0.9M265.9 572.9h0.9M269.6 560.6h0.9M259.5 577.3h0.9M271.8 572.3h0.9M264.7 571.0h0.9M264.6 567.6h0.9M264.5 569.5h0.9M266.5 572.6h0.9M267.4 572.3h0.9M261.7 575.4h0.9M256.7 570.5h0.9M265.5 568.0h0.9M270.0 565.8h0.9M261.1 568.1h0.9M265.8 573.1h0.9M264.9 572.6h0.9M262.5 567.7h0.9M264.9 564.8h0.9M265.1 568.5h0.9M266.5 566.1h0.9M263.0 567.8h0.9M263.5 566.1h0.9M263.8 564.8h0.9M266.1 572.6h0.9M264.5 569.3h0.9M262.0 566.3h0.9M263.9 566.5h0.9M261.1 570.7h0.9M264.5 568.4h0.9M262.2 569.8h0.9M262.5 568.4h0.9M265.1 572.8h0.9M266.8 567.7h0.9M268.1 565.5h0.9M264.0 575.0h0.9M271.5 570.5h0.9M263.5 568.6h0.9M261.0 569.4h0.9M263.3 567.1h0.9M268.0 567.0h0.9M269.5 573.3h0.9M266.4 567.7h0.9M263.1 562.3h0.9M265.3 569.0h0.9M265.7 567.4h0.9M266.0 564.2h0.9M258.2 571.8h0.9M267.7 557.8h0.9M268.3 568.7h0.9M264.1 564.1h0.9M261.6 572.8h0.9M262.4 569.9h0.9M264.1 577.7h0.9M267.1 564.9h0.9M263.2 565.6h0.9M260.5 567.4h0.9M267.7 570.2h0.9M266.5 569.5h0.9M263.3 570.3h0.9M264.3 577.5h0.9M269.8 571.5h0.9M266.3 562.3h0.9M264.2 579.3h0.9M262.2 573.2h0.9M268.1 568.5h0.9M263.9 568.2h0.9M266.9 570.1h0.9M268.9 574.6h0.9M264.5 580.1h0.9M263.6 567.6h0.9M263.9 566.6h0.9M263.3 569.7h0.9M267.1 563.9h0.9M260.5 567.0h0.9M263.7 571.8h0.9M262.3 575.8h0.9M263.0 569.2h0.9M264.7 574.5h0.9M265.4 570.1h0.9M263.0 570.7h0.9M265.7 568.7h0.9M264.5 562.9h0.9M263.0 574.6h0.9M268.7 569.7h0.9M258.3 577.1h0.9M264.0 580.0h0.9M263.3 573.9h0.9M262.8 575.3h0.9M267.9 565.9h0.9M268.3 581.1h0.9M263.9 565.3h0.9M265.3 568.5h0.9M260.2 565.9h0.9M265.2 564.1h0.9M267.7 571.7h0.9M264.0 575.4h0.9M261.9 572.7h0.9M260.6 568.7h0.9M266.4 567.9h0.9M264.2 572.5h0.9M268.9 575.1h0.9M265.9 569.0h0.9M260.4 576.7h0.9M270.0 561.6h0.9M267.0 569.8h0.9M266.6 571.2h0.9M264.0 570.0h0.9M264.4 574.5h0.9M263.8 567.9h0.9M266.4 572.5h0.9M265.8 571.1h0.9M268.8 574.3h0.9M265.1 569.2h0.9M266.4 562.7h0.9M263.0 567.3h0.9M265.0 568.5h0.9M271.6 572.9h0.9M265.7 578.7h0.9M264.5 568.8h0.9M268.1 573.2h0.9M267.2 574.7h0.9M263.5 567.4h0.9M262.5 570.4h0.9M267.4 565.9h0.9M263.0 564.8h0.9M270.3 573.1h0.9M265.2 565.3h0.9M261.6 567.5h0.9M264.6 565.1h0.9M263.9 574.7h0.9M264.6 570.4h0.9M258.5 568.9h0.9M264.1 567.3h0.9M260.5 569.7h0.9M261.6 567.9h0.9M259.9 569.6h0.9M267.2 566.7h0.9M265.5 564.1h0.9M266.2 572.1h0.9" stroke="#4aad3a" stroke-opacity="0.55" stroke-width="0.9" fill="none"/>
<path d="M263.6 571.6h0.9M262.8 569.6h0.9M267.2 569.4h0.9M262.4 572.2h0.9M265.2 568.9h0.9M261.2 565.1h0.9M261.7 573.0h0.9M264.8 567.5h0.9M266.3 572.9h0.9M262.9 570.6h0.9M261.5 570.4h0.9M267.5 566.2h0.9M264.4 568.0h0.9M264.2 569.7h0.9M264.8 571.6h0.9M265.2 571.9h0.9M266.1 572.1h0.9M263.2 570.5h0.9M263.7 567.5h0.9M267.7 570.2h0.9M264.4 564.6h0.9M263.9 571.3h0.9M264.0 568.2h0.9M266.9 568.8h0.9M263.7 569.3h0.9M263.9 572.0h0.9M265.3 569.3h0.9M263.7 569.0h0.9M267.2 568.8h0.9M265.4 565.8h0.9M264.9 571.1h0.9M266.5 570.2h0.9M265.3 570.3h0.9M266.2 574.3h0.9M264.7 567.6h0.9M265.3 569.2h0.9M265.4 571.3h0.9M264.6 568.5h0.9M264.8 566.6h0.9M264.8 567.4h0.9M265.1 569.8h0.9M263.9 566.7h0.9M264.4 567.9h0.9M264.1 571.1h0.9M266.0 566.5h0.9M265.9 572.7h0.9M266.3 570.1h0.9M264.2 573.6h0.9M263.8 565.9h0.9M264.5 570.2h0.9M262.5 566.7h0.9M267.7 569.8h0.9M265.7 568.1h0.9M261.7 569.1h0.9M266.6 567.9h0.9M261.2 569.1h0.9M263.8 569.5h0.9M262.5 568.8h0.9M263.4 571.6h0.9M264.6 571.5h0.9M264.2 564.5h0.9M261.0 570.8h0.9M265.8 571.6h0.9M264.2 565.3h0.9M263.5 570.4h0.9M266.7 568.7h0.9M263.4 567.7h0.9M266.1 571.5h0.9M261.2 572.3h0.9M262.7 566.1h0.9M261.6 567.8h0.9M268.3 575.5h0.9M262.2 567.9h0.9M264.6 570.5h0.9M263.5 565.8h0.9M263.6 567.9h0.9M261.2 569.8h0.9M261.8 565.4h0.9M266.9 571.7h0.9M266.8 569.8h0.9M263.6 569.3h0.9M262.0 571.2h0.9M264.8 568.8h0.9M261.1 569.2h0.9M267.1 572.9h0.9M265.8 568.7h0.9M264.6 570.8h0.9M264.7 572.0h0.9M263.2 564.1h0.9M260.1 567.4h0.9M261.9 571.1h0.9M266.2 569.5h0.9M265.2 569.7h0.9M264.6 568.4h0.9M263.6 572.3h0.9M263.9 569.4h0.9M266.4 571.8h0.9M263.6 570.1h0.9M262.6 569.8h0.9M264.9 569.5h0.9M264.6 570.4h0.9M260.0 567.6h0.9M264.5 568.3h0.9M262.7 568.9h0.9M267.1 569.0h0.9M263.2 568.4h0.9M262.3 570.6h0.9M262.6 571.6h0.9M265.9 570.8h0.9M266.1 569.3h0.9M261.3 569.3h0.9M265.4 565.9h0.9M262.2 572.1h0.9M265.1 572.7h0.9M265.5 569.7h0.9M265.1 571.5h0.9M264.3 569.0h0.9M264.9 568.8h0.9M268.5 567.7h0.9M261.7 566.5h0.9M266.1 568.6h0.9M264.6 569.0h0.9M264.8 566.1h0.9M264.5 568.2h0.9M266.2 571.0h0.9M262.1 567.2h0.9M265.3 572.3h0.9M265.6 569.1h0.9M266.2 564.0h0.9M263.4 567.2h0.9M262.5 570.8h0.9M264.8 570.2h0.9M264.1 571.0h0.9M265.7 568.2h0.9M265.9 567.3h0.9M267.4 566.4h0.9M263.8 567.0h0.9M264.4 572.6h0.9M263.0 573.7h0.9M266.8 570.4h0.9M263.3 571.6h0.9M259.4 567.7h0.9M266.0 569.4h0.9M268.6 567.9h0.9M262.0 569.0h0.9M265.3 573.5h0.9M261.3 569.9h0.9M266.5 567.9h0.9M263.5 566.7h0.9M265.7 571.5h0.9M265.3 570.1h0.9M266.0 569.2h0.9M265.6 571.4h0.9M266.6 570.7h0.9M264.5 571.2h0.9M261.6 565.4h0.9M267.1 569.8h0.9M262.5 568.1h0.9M264.1 569.7h0.9M263.0 571.8h0.9M261.4 576.1h0.9M262.4 573.4h0.9M265.5 565.5h0.9M262.2 569.6h0.9M264.8 568.5h0.9M264.3 569.9h0.9M262.3 569.6h0.9M268.3 568.0h0.9M262.6 571.1h0.9M266.7 572.0h0.9M263.2 569.3h0.9M264.7 569.0h0.9M265.0 572.1h0.9M265.3 569.5h0.9M264.0 573.7h0.9M262.2 574.2h0.9M265.6 569.7h0.9M263.0 573.8h0.9M266.5 571.7h0.9M268.0 565.3h0.9M264.5 568.8h0.9M263.0 569.7h0.9M265.3 570.7h0.9M264.1 566.4h0.9M265.3 570.9h0.9M268.1 571.7h0.9M264.4 566.8h0.9M269.1 567.9h0.9M264.7 571.3h0.9M265.2 572.6h0.9M262.5 567.9h0.9M264.6 566.6h0.9M263.2 572.8h0.9M264.8 569.3h0.9M263.3 569.6h0.9M264.3 566.9h0.9M265.7 566.5h0.9M266.6 568.7h0.9M260.3 565.8h0.9M264.8 567.4h0.9M267.5 572.8h0.9M268.1 571.6h0.9M266.7 568.1h0.9M266.6 568.5h0.9M264.2 566.3h0.9M264.4 570.5h0.9M264.2 566.9h0.9M265.9 571.7h0.9M264.2 571.4h0.9M266.1 567.2h0.9M264.3 565.1h0.9M262.5 570.5h0.9M262.8 570.4h0.9M265.0 564.6h0.9M263.5 573.1h0.9M264.3 569.8h0.9M263.1 565.7h0.9M261.5 576.3h0.9M264.0 567.4h0.9M264.5 564.9h0.9M266.8 573.6h0.9M263.0 570.3h0.9M262.7 571.5h0.9M262.8 569.2h0.9M266.7 570.7h0.9M263.7 565.9h0.9M261.5 572.4h0.9M265.2 569.6h0.9M266.6 569.9h0.9M263.0 569.3h0.9M264.1 569.5h0.9M268.8 570.9h0.9M264.8 568.9h0.9M263.1 567.1h0.9M261.0 568.4h0.9M261.6 565.1h0.9M262.6 564.7h0.9M266.8 572.5h0.9M262.6 574.4h0.9M265.5 563.5h0.9M264.4 567.1h0.9M261.2 568.9h0.9M266.4 570.6h0.9M261.7 567.9h0.9M263.0 572.2h0.9M264.1 567.2h0.9M262.7 564.8h0.9M262.8 571.6h0.9M260.9 570.0h0.9M264.1 571.5h0.9M262.3 571.7h0.9M267.1 575.0h0.9M261.4 569.4h0.9M263.9 569.8h0.9M262.5 571.6h0.9M268.5 573.1h0.9M262.6 568.1h0.9M265.6 569.8h0.9M262.9 572.5h0.9M265.3 572.0h0.9M264.0 572.6h0.9M263.5 566.8h0.9M264.3 566.1h0.9M266.6 571.3h0.9M261.3 569.9h0.9M265.8 568.6h0.9M265.1 568.1h0.9M264.2 569.3h0.9M265.2 567.2h0.9M262.3 570.3h0.9M263.4 570.7h0.9M263.4 566.3h0.9M265.6 570.1h0.9M265.6 568.7h0.9M263.7 572.5h0.9M261.3 573.7h0.9M265.2 569.4h0.9M264.5 571.0h0.9M262.9 570.2h0.9M262.6 565.1h0.9M264.7 569.7h0.9M265.5 570.8h0.9M265.6 571.4h0.9M262.4 572.4h0.9M269.2 568.1h0.9M262.0 571.1h0.9M266.0 571.9h0.9M267.1 566.2h0.9M265.0 570.6h0.9M266.6 567.4h0.9M264.4 568.6h0.9M264.0 569.2h0.9M264.0 565.2h0.9M264.2 569.7h0.9M263.6 561.0h0.9M263.1 567.9h0.9M262.7 573.4h0.9M266.0 569.1h0.9M265.4 577.4h0.9M262.6 570.6h0.9M263.2 573.1h0.9M266.3 569.2h0.9M265.4 567.6h0.9M261.4 571.5h0.9M267.3 568.8h0.9M263.4 565.2h0.9M268.2 566.6h0.9M262.6 569.0h0.9M266.5 569.6h0.9M264.3 569.6h0.9M265.8 569.4h0.9M264.6 569.3h0.9M262.3 572.7h0.9M263.0 566.3h0.9M263.5 569.6h0.9M265.8 566.0h0.9M262.0 569.9h0.9M265.0 566.9h0.9M262.3 569.9h0.9M264.0 565.6h0.9M262.7 573.1h0.9M262.4 572.0h0.9M261.5 573.1h0.9M267.2 568.0h0.9M263.1 571.0h0.9M262.1 570.8h0.9M266.5 570.1h0.9M264.9 569.1h0.9M266.1 567.5h0.9M267.2 569.4h0.9M263.7 565.6h0.9M263.5 570.1h0.9M266.6 565.6h0.9M264.1 567.8h0.9M262.1 569.5h0.9M262.9 571.6h0.9M259.4 571.3h0.9M260.9 564.8h0.9M265.2 568.7h0.9M264.5 567.2h0.9M262.4 567.7h0.9M264.2 567.5h0.9M263.5 567.4h0.9M264.7 566.8h0.9M260.5 563.2h0.9M264.3 569.7h0.9M266.0 567.7h0.9M262.2 565.9h0.9M265.7 568.0h0.9M266.1 569.3h0.9M263.8 565.0h0.9M263.1 571.4h0.9M263.2 571.1h0.9M261.3 571.9h0.9M269.3 572.2h0.9M264.9 566.5h0.9M263.3 567.9h0.9M264.6 564.6h0.9M262.7 571.4h0.9M264.6 571.3h0.9M265.8 566.7h0.9M261.9 570.6h0.9M264.4 569.7h0.9M262.8 572.0h0.9M265.2 572.2h0.9M263.7 571.2h0.9M264.2 567.2h0.9M264.2 565.5h0.9M264.0 569.9h0.9M265.6 567.0h0.9M261.9 567.7h0.9M260.6 567.9h0.9M269.0 569.8h0.9M262.9 567.9h0.9M267.5 566.7h0.9M264.1 569.3h0.9M263.0 567.8h0.9M261.3 567.5h0.9M266.6 572.9h0.9M263.8 571.2h0.9M265.1 569.8h0.9M264.1 572.4h0.9M265.3 569.0h0.9M263.9 571.7h0.9M263.2 567.8h0.9M263.8 568.3h0.9M266.6 570.4h0.9M264.1 568.2h0.9M266.9 570.6h0.9M268.1 571.7h0.9M263.9 568.2h0.9M263.8 569.9h0.9M265.7 570.7h0.9M267.1 565.8h0.9M264.4 566.1h0.9M262.4 568.1h0.9M263.1 567.2h0.9M261.6 572.2h0.9M263.7 571.8h0.9M262.3 563.9h0.9M263.2 571.6h0.9M263.3 570.5h0.9M262.4 572.9h0.9M265.1 572.0h0.9M263.8 572.6h0.9M264.4 568.3h0.9M263.1 569.6h0.9M262.7 566.6h0.9M264.5 571.2h0.9M263.8 571.5h0.9M267.2 566.4h0.9M264.8 567.2h0.9M263.1 569.9h0.9M260.0 571.0h0.9M265.8 570.8h0.9M265.5 573.9h0.9M263.6 572.1h0.9M266.9 570.7h0.9M261.1 569.1h0.9M263.8 565.6h0.9M264.2 571.3h0.9M263.8 569.1h0.9M267.0 568.0h0.9M262.6 569.6h0.9M266.3 570.9h0.9M264.4 568.3h0.9M266.5 571.6h0.9M261.2 570.3h0.9M260.0 573.1h0.9M265.4 568.0h0.9M262.0 568.8h0.9M261.1 570.9h0.9M263.4 565.2h0.9M264.3 572.3h0.9M262.0 568.6h0.9M267.6 569.9h0.9M263.3 570.0h0.9M265.7 567.1h0.9M264.1 565.6h0.9M261.4 565.8h0.9M265.8 570.2h0.9M265.6 572.4h0.9M264.4 570.1h0.9M265.0 570.6h0.9M262.4 568.8h0.9M264.0 569.6h0.9M262.9 569.2h0.9M264.8 569.9h0.9M265.4 571.5h0.9M265.3 571.8h0.9M265.8 572.8h0.9M265.4 568.0h0.9M268.5 572.2h0.9M266.6 571.3h0.9M264.4 566.7h0.9M265.1 568.6h0.9M263.6 564.4h0.9M267.1 566.7h0.9M262.3 570.6h0.9M265.3 567.6h0.9M264.3 570.1h0.9M264.6 570.8h0.9M265.7 568.6h0.9M261.4 574.7h0.9M263.6 567.1h0.9M265.7 570.9h0.9M263.2 575.2h0.9M260.1 572.6h0.9M264.2 570.2h0.9M264.9 568.9h0.9M264.9 566.4h0.9M263.6 573.9h0.9M259.6 572.5h0.9M260.3 567.4h0.9M265.9 568.5h0.9M263.3 565.9h0.9M264.1 569.1h0.9M263.1 565.7h0.9M264.6 570.5h0.9M266.4 570.7h0.9M267.0 572.4h0.9M259.2 573.5h0.9M264.1 567.0h0.9M265.1 571.8h0.9M261.5 566.5h0.9M265.5 568.2h0.9M266.9 570.0h0.9M263.3 566.3h0.9M265.4 565.4h0.9M261.9 566.3h0.9M267.4 573.6h0.9M263.9 568.6h0.9M265.6 572.5h0.9M262.8 574.8h0.9M263.9 572.2h0.9M260.0 569.4h0.9M263.0 574.3h0.9M263.9 566.4h0.9M267.8 567.8h0.9M264.3 566.5h0.9" stroke="#35a030" stroke-opacity="0.6" stroke-width="0.9" fill="none"/>
<path d="M449.6 578.3h0.9M434.0 587.5h0.9M428.7 589.4h0.9M429.2 611.0h0.9M443.2 566.6h0.9M427.7 603.4h0.9M467.3 555.5h0.9M434.6 588.7h0.9M442.1 581.8h0.9M459.3 577.5h0.9M456.0 587.7h0.9M433.9 585.9h0.9M466.3 536.6h0.9M406.8 593.0h0.9M438.3 575.4h0.9M441.3 560.5h0.9M436.0 585.6h0.9M432.8 606.3h0.9M437.5 593.7h0.9M434.2 593.7h0.9M434.8 592.2h0.9M434.8 583.5h0.9M444.4 579.3h0.9M421.7 592.7h0.9M453.2 587.7h0.9M421.1 600.7h0.9M451.7 586.0h0.9M442.1 570.2h0.9M445.6 590.6h0.9M441.7 581.6h0.9M426.0 602.3h0.9M439.4 587.0h0.9M465.7 573.2h0.9M431.3 597.6h0.9M436.6 590.6h0.9M465.8 570.0h0.9M436.7 581.8h0.9M440.0 590.2h0.9M440.0 598.6h0.9M433.4 579.1h0.9M449.0 543.3h0.9M435.9 588.8h0.9M458.9 579.4h0.9M467.3 575.8h0.9M444.6 582.5h0.9M452.7 572.7h0.9M421.5 599.8h0.9M451.9 580.8h0.9M433.0 607.0h0.9M435.2 573.6h0.9M451.7 585.6h0.9M444.9 577.4h0.9M436.4 602.7h0.9M442.8 583.0h0.9M429.0 585.4h0.9M414.4 608.4h0.9M458.3 575.9h0.9M440.2 603.4h0.9M431.3 583.3h0.9M460.3 581.1h0.9M428.0 584.2h0.9M425.2 573.2h0.9M449.4 593.8h0.9M439.2 578.3h0.9M446.1 574.0h0.9M453.9 567.6h0.9M463.6 557.6h0.9M437.0 578.3h0.9M425.9 604.5h0.9M438.8 576.0h0.9M444.7 576.4h0.9M432.6 592.8h0.9M449.1 585.0h0.9M457.8 572.1h0.9M426.9 591.6h0.9M437.8 574.5h0.9M435.6 586.1h0.9M439.8 588.3h0.9M462.5 581.7h0.9M456.9 580.2h0.9M432.5 605.7h0.9M448.5 561.6h0.9M468.5 550.1h0.9M420.2 626.7h0.9M436.2 580.7h0.9M438.9 599.4h0.9M441.1 580.6h0.9M449.1 565.8h0.9M426.1 593.9h0.9M434.6 599.5h0.9M431.0 583.1h0.9M422.8 580.9h0.9M442.7 584.4h0.9M446.3 576.8h0.9M439.6 575.6h0.9M441.2 586.5h0.9M428.1 605.0h0.9M442.1 584.4h0.9M445.5 603.4h0.9M435.6 581.7h0.9M432.7 600.3h0.9M432.8 584.3h0.9M436.3 600.6h0.9M447.1 590.8h0.9M433.0 579.6h0.9M452.7 576.5h0.9M430.0 592.7h0.9M432.5 603.2h0.9M437.5 594.1h0.9M441.8 581.2h0.9M443.2 579.8h0.9M422.8 599.0h0.9M429.5 605.5h0.9M444.8 574.3h0.9M449.2 579.4h0.9M446.9 568.2h0.9M434.6 580.1h0.9M439.3 602.5h0.9M409.5 606.9h0.9M450.6 584.0h0.9M418.5 584.8h0.9M420.5 610.3h0.9M459.0 576.8h0.9M438.5 603.0h0.9M441.2 591.9h0.9M446.7 597.4h0.9M421.2 580.7h0.9M437.1 591.1h0.9M439.4 578.4h0.9M430.6 582.7h0.9M437.6 589.5h0.9M452.4 592.1h0.9M417.9 614.7h0.9M438.8 574.0h0.9M440.8 585.1h0.9M431.6 603.0h0.9M467.8 565.1h0.9M455.8 581.9h0.9M444.0 593.1h0.9M430.9 597.4h0.9M456.3 584.2h0.9M434.7 588.1h0.9M445.4 579.5h0.9M446.3 588.7h0.9M435.4 600.7h0.9M443.2 579.6h0.9M420.7 598.6h0.9M444.8 591.8h0.9M419.4 615.3h0.9M435.9 577.2h0.9M453.0 577.2h0.9M439.9 575.0h0.9M431.3 605.3h0.9M459.6 570.0h0.9M435.0 586.0h0.9M424.2 613.5h0.9M445.8 594.1h0.9M437.0 601.1h0.9M434.4 598.4h0.9M453.1 564.4h0.9M451.3 574.3h0.9M429.4 599.2h0.9M444.0 573.8h0.9M433.4 586.3h0.9M429.2 594.7h0.9M447.4 572.7h0.9M453.3 567.9h0.9M437.5 600.8h0.9M453.8 564.4h0.9M440.7 572.1h0.9M432.8 589.1h0.9M441.7 570.0h0.9M429.7 588.7h0.9M434.3 577.9h0.9M439.4 618.8h0.9M434.1 575.0h0.9M442.9 568.1h0.9M426.1 619.3h0.9M450.7 565.4h0.9M429.1 602.6h0.9M468.6 563.3h0.9M441.5 571.0h0.9M420.1 610.9h0.9M453.3 573.8h0.9M447.8 593.7h0.9M435.8 602.8h0.9M446.8 571.9h0.9M442.1 585.0h0.9M441.7 573.2h0.9M437.6 589.5h0.9M440.5 585.8h0.9M442.0 581.8h0.9M439.7 598.1h0.9M430.2 592.4h0.9M422.6 590.9h0.9M445.3 580.1h0.9M440.9 590.2h0.9M441.7 591.9h0.9M464.3 564.9h0.9M446.1 598.5h0.9M439.3 567.9h0.9M457.7 570.2h0.9M444.0 568.8h0.9M425.8 593.2h0.9M440.5 572.8h0.9M436.6 600.3h0.9M432.7 594.8h0.9M419.3 588.1h0.9M438.3 586.4h0.9M427.8 609.6h0.9M455.1 580.4h0.9M427.2 586.2h0.9M439.8 588.1h0.9M434.5 585.0h0.9M423.5 594.6h0.9M436.2 584.4h0.9M459.0 563.3h0.9M442.9 577.7h0.9M432.2 583.0h0.9M425.6 583.9h0.9M422.0 619.7h0.9M429.4 601.8h0.9M435.2 584.5h0.9M445.8 573.7h0.9M443.3 578.5h0.9M457.3 578.9h0.9M447.0 591.2h0.9M455.0 588.1h0.9M429.8 579.1h0.9M443.9 584.6h0.9M434.3 589.5h0.9M429.6 582.6h0.9M456.7 560.0h0.9M417.9 590.9h0.9M429.4 596.5h0.9M461.5 570.6h0.9M424.0 588.4h0.9M425.7 599.7h0.9M447.9 572.4h0.9M470.5 576.3h0.9M429.7 572.2h0.9M452.8 571.7h0.9M453.7 583.0h0.9M428.0 599.1h0.9M437.9 579.7h0.9M447.8 576.5h0.9M445.6 601.4h0.9M451.2 592.8h0.9M443.9 593.6h0.9M431.6 596.3h0.9M441.0 560.5h0.9M445.0 577.7h0.9M454.3 573.2h0.9M431.8 580.0h0.9M471.9 544.9h0.9M431.9 586.2h0.9M437.5 591.1h0.9M429.5 608.7h0.9M440.1 592.6h0.9M411.2 609.8h0.9M434.1 587.7h0.9M433.5 596.1h0.9M439.4 575.5h0.9M420.0 614.8h0.9M442.0 595.9h0.9M450.0 574.4h0.9M420.4 602.1h0.9M438.0 602.0h0.9M424.3 612.4h0.9M417.8 602.4h0.9M418.7 600.1h0.9M436.6 593.6h0.9M436.6 597.2h0.9M462.3 564.8h0.9M424.8 599.6h0.9M436.6 585.4h0.9M460.5 577.8h0.9M467.4 563.7h0.9M406.5 618.9h0.9M443.6 573.2h0.9M437.7 598.6h0.9M435.4 578.1h0.9M415.5 576.6h0.9M433.0 579.4h0.9M432.6 580.2h0.9M425.6 594.9h0.9M467.3 544.5h0.9M422.4 598.1h0.9M457.4 577.1h0.9M446.6 575.5h0.9M437.1 580.2h0.9M433.1 584.0h0.9M416.5 599.0h0.9M465.7 563.9h0.9M430.1 594.9h0.9M441.2 598.4h0.9M436.0 583.0h0.9M450.0 579.3h0.9M427.2 590.5h0.9M432.4 575.4h0.9M434.4 603.1h0.9M456.7 581.3h0.9M431.1 588.4h0.9M433.9 586.9h0.9M454.3 568.8h0.9M452.4 565.2h0.9M453.6 590.2h0.9M427.1 591.9h0.9M423.5 584.8h0.9M432.6 586.3h0.9M464.1 555.7h0.9M419.0 618.2h0.9M451.3 573.9h0.9M447.4 586.4h0.9M433.2 593.4h0.9M450.9 593.3h0.9M458.1 569.3h0.9M428.4 607.8h0.9M445.8 593.2h0.9M441.5 586.4h0.9M443.8 573.9h0.9M444.7 606.9h0.9M434.5 602.1h0.9M452.8 582.0h0.9M449.0 561.6h0.9M439.9 562.9h0.9M442.4 587.3h0.9M458.5 579.1h0.9M426.9 596.4h0.9M434.0 584.3h0.9M426.1 592.8h0.9M461.5 579.1h0.9M458.5 585.9h0.9M434.8 579.1h0.9M433.0 595.5h0.9M459.2 579.8h0.9M434.3 602.6h0.9M436.7 596.1h0.9M459.4 582.7h0.9M434.8 594.1h0.9M442.7 578.5h0.9M444.3 588.2h0.9M416.1 603.3h0.9M470.5 559.6h0.9M422.7 583.1h0.9M431.0 601.0h0.9M450.6 580.0h0.9M443.7 575.4h0.9M452.9 560.0h0.9M444.6 578.3h0.9" stroke="#f09aa0" stroke-opacity="0.22" stroke-width="0.9" fill="none"/>
<path d="M441.1 581.8h0.9M454.7 571.9h0.9M468.1 559.3h0.9M447.5 568.8h0.9M459.4 574.9h0.9M469.1 570.1h0.9M459.7 557.0h0.9M467.6 566.1h0.9M455.3 569.5h0.9M447.2 560.6h0.9M456.7 571.1h0.9M443.2 555.2h0.9M450.8 577.3h0.9M461.1 571.3h0.9M445.9 568.2h0.9M442.1 567.6h0.9M460.4 563.8h0.9M451.1 570.8h0.9M440.4 571.8h0.9M434.6 566.4h0.9M437.4 567.9h0.9M475.5 564.5h0.9M465.3 555.0h0.9M457.0 555.6h0.9M450.3 570.8h0.9M439.7 577.0h0.9M453.5 550.2h0.9M429.5 579.4h0.9M454.1 567.7h0.9M445.6 576.3h0.9M453.4 561.0h0.9M472.1 557.6h0.9M468.9 572.5h0.9M449.1 567.8h0.9M436.7 575.4h0.9M468.2 578.1h0.9M461.2 563.8h0.9M439.2 568.8h0.9M431.5 569.3h0.9M457.0 567.2h0.9M444.9 570.4h0.9M449.1 574.6h0.9M459.2 558.9h0.9M445.9 561.7h0.9M458.1 581.8h0.9M457.8 571.2h0.9M465.9 571.2h0.9M448.3 562.8h0.9M468.5 565.2h0.9M452.2 576.6h0.9M454.5 565.9h0.9M475.1 558.0h0.9M456.8 562.3h0.9M460.6 571.1h0.9M456.6 558.9h0.9M458.9 562.7h0.9M457.2 563.1h0.9M427.2 569.9h0.9M443.0 555.5h0.9M447.2 587.3h0.9M460.1 559.1h0.9M450.0 550.9h0.9M460.9 570.4h0.9M452.0 557.2h0.9M462.6 557.0h0.9M449.8 570.8h0.9M459.2 580.0h0.9M461.2 579.6h0.9M454.8 556.0h0.9M455.0 566.4h0.9M473.8 564.9h0.9M477.9 546.5h0.9M458.9 582.5h0.9M447.2 573.7h0.9M467.2 550.3h0.9M448.7 563.8h0.9M461.5 565.2h0.9M456.8 570.2h0.9M445.6 568.7h0.9M466.8 575.2h0.9M454.7 566.7h0.9M468.2 558.5h0.9M468.7 559.5h0.9M467.0 560.1h0.9M442.5 566.7h0.9M466.0 574.6h0.9M472.3 552.8h0.9M475.8 544.2h0.9M449.7 576.8h0.9M442.9 580.9h0.9M460.9 567.5h0.9M444.2 575.8h0.9M464.1 560.0h0.9M465.2 559.9h0.9M457.1 562.1h0.9M440.7 573.5h0.9M457.1 558.5h0.9M429.6 568.9h0.9M467.2 556.7h0.9M451.7 578.1h0.9M447.6 558.2h0.9M447.2 563.6h0.9M449.7 561.8h0.9M457.2 568.4h0.9M448.4 568.4h0.9M456.3 572.0h0.9M450.4 575.0h0.9M466.6 557.3h0.9M444.0 570.2h0.9M435.1 573.8h0.9M442.2 572.4h0.9M453.0 571.5h0.9M457.6 567.9h0.9M455.4 568.1h0.9M445.9 577.0h0.9M472.0 564.7h0.9M442.9 576.9h0.9M441.3 580.6h0.9M451.1 564.6h0.9M446.5 569.3h0.9M451.3 560.4h0.9M456.4 567.3h0.9M460.0 562.6h0.9M463.2 579.9h0.9M466.2 561.8h0.9M443.2 578.3h0.9M450.9 546.7h0.9M454.6 569.4h0.9M455.6 566.4h0.9M458.4 575.3h0.9M457.7 562.1h0.9M460.2 579.9h0.9M444.3 568.3h0.9M458.7 565.0h0.9M462.8 572.3h0.9M467.8 561.6h0.9M455.1 565.4h0.9M456.2 573.5h0.9M438.3 567.7h0.9M446.7 563.2h0.9M451.8 577.7h0.9M434.3 583.4h0.9M440.8 572.7h0.9M445.5 563.7h0.9M440.2 575.7h0.9M417.3 571.7h0.9M455.0 575.0h0.9M472.5 552.9h0.9M445.7 569.3h0.9M463.0 568.8h0.9M447.0 574.8h0.9M458.7 573.1h0.9M450.0 567.4h0.9M441.4 563.5h0.9M460.2 568.7h0.9M467.2 560.7h0.9M446.9 563.5h0.9M440.5 568.9h0.9M458.6 564.5h0.9M431.4 579.6h0.9M448.1 561.6h0.9M456.6 569.4h0.9M439.5 564.4h0.9M452.6 569.6h0.9M457.9 576.9h0.9M452.7 559.2h0.9M460.4 557.4h0.9M462.2 562.4h0.9M463.7 552.5h0.9M463.7 564.1h0.9M448.3 575.9h0.9M479.1 554.2h0.9M446.6 569.9h0.9M469.0 559.5h0.9M467.5 553.0h0.9M462.4 548.5h0.9M452.1 565.3h0.9M454.4 576.4h0.9M450.1 571.9h0.9M476.7 559.5h0.9M448.0 564.3h0.9M436.0 580.8h0.9M467.9 567.2h0.9M465.2 577.4h0.9M454.3 547.5h0.9M448.9 576.3h0.9M453.9 573.5h0.9M478.1 545.6h0.9M477.1 551.8h0.9M440.4 575.8h0.9M462.0 557.0h0.9M467.8 551.0h0.9M456.3 572.8h0.9M450.7 564.0h0.9M457.1 570.1h0.9M477.5 563.4h0.9M473.9 554.2h0.9M437.9 576.1h0.9M447.1 562.7h0.9M449.5 568.9h0.9M458.8 571.2h0.9M449.8 578.6h0.9M458.1 570.1h0.9M463.1 550.9h0.9M468.6 551.8h0.9M463.0 570.0h0.9M458.6 550.9h0.9M460.8 571.8h0.9M453.4 566.3h0.9M461.7 575.4h0.9M446.0 563.8h0.9M441.8 569.8h0.9M453.8 569.6h0.9M447.8 556.3h0.9M441.4 579.9h0.9M457.4 553.4h0.9M455.6 545.6h0.9M480.8 555.0h0.9M439.9 579.4h0.9M453.0 563.5h0.9M450.4 567.0h0.9M450.6 561.3h0.9M451.2 572.9h0.9M455.5 554.8h0.9M455.7 578.5h0.9M468.3 571.4h0.9M437.4 568.3h0.9M425.7 568.0h0.9M447.3 562.1h0.9M441.3 568.7h0.9M456.1 572.2h0.9M454.3 552.0h0.9M469.0 554.7h0.9M444.6 572.1h0.9M445.8 560.2h0.9M468.8 552.8h0.9M450.8 573.0h0.9M473.9 558.4h0.9M447.4 574.3h0.9M467.7 561.3h0.9M459.9 559.1h0.9M448.1 556.4h0.9M443.5 563.7h0.9M460.5 574.9h0.9M427.1 572.2h0.9M445.1 571.3h0.9M464.1 554.1h0.9M451.4 578.2h0.9M460.7 566.8h0.9M460.8 556.3h0.9M454.9 560.7h0.9M448.1 571.3h0.9M454.8 555.7h0.9M449.3 574.5h0.9M459.1 568.9h0.9M448.8 563.2h0.9M465.2 564.7h0.9M429.0 589.0h0.9M449.6 574.8h0.9M470.1 554.5h0.9M446.0 573.6h0.9M458.0 568.8h0.9M441.5 576.3h0.9M466.7 564.6h0.9M465.8 569.2h0.9M451.0 578.5h0.9M453.5 558.7h0.9M452.9 569.5h0.9M463.3 572.0h0.9M455.1 561.7h0.9M476.2 550.3h0.9M449.9 576.7h0.9M447.8 563.9h0.9M448.4 579.8h0.9M444.5 573.3h0.9M449.6 567.7h0.9M447.2 572.1h0.9M465.1 568.5h0.9M447.0 561.3h0.9M439.8 575.4h0.9M434.4 589.6h0.9M455.8 566.6h0.9M438.3 570.9h0.9M449.9 574.7h0.9M453.1 572.3h0.9M453.2 551.3h0.9M457.2 575.0h0.9M450.2 570.0h0.9M449.2 559.5h0.9M476.9 551.5h0.9M459.9 559.3h0.9M473.6 564.1h0.9M470.6 564.3h0.9M467.3 569.9h0.9M459.7 564.3h0.9M460.1 555.6h0.9M431.9 586.9h0.9M454.0 560.9h0.9M448.8 562.0h0.9M447.1 572.5h0.9M459.3 570.3h0.9M456.4 570.4h0.9M459.5 557.6h0.9M435.2 572.6h0.9M450.5 564.5h0.9M475.2 548.1h0.9M457.1 558.5h0.9M457.5 554.2h0.9M465.5 561.1h0.9M446.5 561.4h0.9M470.0 552.1h0.9M461.0 542.6h0.9M449.3 584.4h0.9M473.4 554.9h0.9M467.5 563.4h0.9M451.8 569.1h0.9M438.3 565.3h0.9M459.0 569.6h0.9M452.2 557.7h0.9M464.1 561.3h0.9M461.7 559.6h0.9M456.2 574.0h0.9M464.7 550.3h0.9M447.2 578.8h0.9M458.9 564.1h0.9M448.7 578.3h0.9M457.8 566.2h0.9M457.1 560.5h0.9M459.6 564.4h0.9M463.8 563.8h0.9M439.3 569.9h0.9M456.5 574.7h0.9M452.5 576.9h0.9M469.3 564.5h0.9M478.2 551.8h0.9M462.8 571.3h0.9M462.9 569.4h0.9M458.9 575.3h0.9M451.7 552.5h0.9M465.5 558.1h0.9M444.9 569.9h0.9M456.3 574.7h0.9M458.2 563.6h0.9M451.6 560.8h0.9M446.8 567.3h0.9M448.5 560.6h0.9M454.6 574.6h0.9M459.7 563.2h0.9M457.7 562.5h0.9M446.1 578.8h0.9" stroke="#ec6a70" stroke-opacity="0.28" stroke-width="0.9" fill="none"/>
<path d="M475.5 555.1h0.9M469.7 568.9h0.9M452.7 567.6h0.9M456.6 561.1h0.9M448.4 566.7h0.9M458.5 552.9h0.9M456.9 559.8h0.9M454.4 567.3h0.9M471.3 556.9h0.9M468.1 560.5h0.9M460.4 563.7h0.9M467.3 554.5h0.9M455.4 555.8h0.9M445.4 564.4h0.9M466.3 559.4h0.9M464.3 565.6h0.9M451.0 573.2h0.9M461.9 564.0h0.9M466.8 552.7h0.9M454.7 565.9h0.9M457.8 558.8h0.9M457.0 558.5h0.9M459.5 559.0h0.9M468.4 550.6h0.9M463.5 559.3h0.9M467.8 551.3h0.9M460.4 570.0h0.9M454.3 561.8h0.9M454.7 558.4h0.9M471.1 563.0h0.9M456.8 558.5h0.9M452.1 568.7h0.9M457.3 565.3h0.9M442.7 568.0h0.9M464.6 560.5h0.9M441.3 572.6h0.9M460.3 560.5h0.9M456.3 560.4h0.9M461.6 562.7h0.9M438.6 572.4h0.9M465.2 556.8h0.9M465.5 552.7h0.9M474.4 558.2h0.9M463.1 574.0h0.9M472.7 562.5h0.9M451.4 564.9h0.9M465.0 563.7h0.9M457.1 555.4h0.9M467.2 555.9h0.9M461.7 558.1h0.9M455.7 555.7h0.9M462.5 556.0h0.9M448.7 569.2h0.9M461.5 565.2h0.9M462.2 553.0h0.9M458.4 561.7h0.9M457.7 556.3h0.9M462.3 564.9h0.9M471.1 562.7h0.9M458.8 547.8h0.9M456.5 559.8h0.9M443.9 578.0h0.9M465.5 557.7h0.9M463.0 561.8h0.9M461.2 567.6h0.9M473.5 557.9h0.9M456.4 564.1h0.9M467.6 560.5h0.9M457.2 567.5h0.9M465.7 560.9h0.9M456.7 562.4h0.9M446.8 567.8h0.9M455.9 561.4h0.9M456.9 560.7h0.9M460.3 561.1h0.9M455.2 562.7h0.9M460.0 563.4h0.9M461.6 558.0h0.9M450.3 557.2h0.9M452.2 567.3h0.9M457.1 571.1h0.9M457.6 560.0h0.9M457.2 559.3h0.9M455.5 563.6h0.9M450.3 566.8h0.9M456.9 557.6h0.9M467.1 558.8h0.9M465.2 554.4h0.9M448.6 560.6h0.9M444.8 558.8h0.9M468.8 553.4h0.9M459.6 558.1h0.9M462.2 568.1h0.9M445.8 563.2h0.9M458.3 556.8h0.9M467.0 563.9h0.9M467.1 560.9h0.9M460.7 565.8h0.9M451.5 559.0h0.9M457.2 560.9h0.9M465.4 552.5h0.9M465.3 553.7h0.9M447.3 558.5h0.9M456.0 555.1h0.9M461.0 560.5h0.9M452.5 554.5h0.9M457.1 564.8h0.9M449.3 570.3h0.9M458.4 558.7h0.9M462.3 563.0h0.9M457.6 557.9h0.9M463.2 555.4h0.9M464.1 563.8h0.9M471.8 562.9h0.9M466.6 557.9h0.9M458.6 562.5h0.9M469.8 571.6h0.9M462.0 555.2h0.9M466.0 548.9h0.9M463.2 552.1h0.9M451.2 562.9h0.9M454.6 556.4h0.9M463.3 558.3h0.9M466.1 551.9h0.9M449.1 570.4h0.9M460.3 565.9h0.9M441.2 564.3h0.9M464.6 568.8h0.9M447.0 557.5h0.9M459.7 568.6h0.9M466.9 549.7h0.9M451.3 555.6h0.9M451.8 560.1h0.9M464.9 564.2h0.9M474.4 550.9h0.9M465.4 559.0h0.9M464.7 568.6h0.9M467.7 565.0h0.9M463.5 563.5h0.9M462.7 558.8h0.9M454.0 561.9h0.9M458.7 559.4h0.9M455.7 559.3h0.9M464.6 556.9h0.9M458.2 560.5h0.9M466.9 554.1h0.9M466.9 552.3h0.9M471.0 558.1h0.9M457.3 564.7h0.9M464.9 552.9h0.9M458.7 563.1h0.9M457.5 560.6h0.9M460.4 562.2h0.9M468.0 564.4h0.9M464.1 574.4h0.9M461.4 569.6h0.9M455.4 555.4h0.9M455.9 561.1h0.9M462.0 548.8h0.9M455.1 562.7h0.9M464.8 560.3h0.9M464.8 557.3h0.9M460.7 566.9h0.9M471.7 556.4h0.9M458.6 556.9h0.9M474.3 555.1h0.9M459.9 552.1h0.9M469.0 569.0h0.9M458.0 560.8h0.9M469.2 554.7h0.9M469.5 566.1h0.9M450.0 561.8h0.9M464.3 559.1h0.9M459.4 560.2h0.9M461.2 562.0h0.9M455.8 561.6h0.9M458.6 555.6h0.9M457.4 550.3h0.9M463.5 558.2h0.9M454.9 570.8h0.9M456.5 573.8h0.9M457.5 568.7h0.9M462.8 568.0h0.9M460.4 566.1h0.9M453.2 554.3h0.9M463.2 561.6h0.9M466.0 566.5h0.9M451.4 557.7h0.9M459.6 557.2h0.9M458.9 561.4h0.9M456.7 568.5h0.9M462.8 568.9h0.9M463.6 564.5h0.9M456.1 559.3h0.9M454.1 559.2h0.9M462.8 560.0h0.9M449.0 558.5h0.9M449.7 556.5h0.9M450.3 557.8h0.9M461.5 553.6h0.9M455.4 562.6h0.9M460.7 562.6h0.9M466.0 561.0h0.9M460.1 567.4h0.9M460.4 556.7h0.9M466.6 550.7h0.9M465.5 564.5h0.9M461.1 562.0h0.9M461.9 563.3h0.9M461.0 560.2h0.9M459.8 550.6h0.9M460.5 558.8h0.9M473.0 555.2h0.9M456.7 566.1h0.9M454.3 557.4h0.9M458.9 564.1h0.9M469.7 561.1h0.9M460.7 559.5h0.9M463.6 565.3h0.9M461.4 566.3h0.9M454.3 563.8h0.9M466.2 561.2h0.9M459.7 558.1h0.9M446.8 565.6h0.9M453.1 562.3h0.9M468.1 552.2h0.9M465.0 557.9h0.9M452.6 565.4h0.9M461.7 553.4h0.9M451.1 563.5h0.9M462.9 555.9h0.9M463.3 561.4h0.9M460.6 562.8h0.9M467.4 555.7h0.9M459.2 555.4h0.9M454.6 563.1h0.9M463.3 555.3h0.9M452.6 569.8h0.9M469.1 541.8h0.9M452.9 565.3h0.9M460.5 555.3h0.9M464.2 564.4h0.9M459.4 565.0h0.9M458.3 556.7h0.9M454.2 560.6h0.9M470.8 561.1h0.9M457.5 553.6h0.9M455.5 561.1h0.9M447.0 567.7h0.9M458.4 554.5h0.9M455.7 560.6h0.9M473.0 557.2h0.9M464.7 558.6h0.9M453.3 569.4h0.9M450.8 555.4h0.9M463.5 557.0h0.9M460.7 563.1h0.9M459.0 563.5h0.9M467.1 555.1h0.9M457.3 562.3h0.9M462.8 557.0h0.9M458.5 557.9h0.9M460.3 563.5h0.9M453.8 563.1h0.9M448.5 563.2h0.9M461.2 562.9h0.9M452.7 564.2h0.9M454.3 565.6h0.9M462.2 561.9h0.9M454.9 555.8h0.9M452.9 557.4h0.9M455.0 563.1h0.9M465.0 554.5h0.9M455.0 564.6h0.9M450.8 576.5h0.9M451.9 570.6h0.9M468.0 561.6h0.9M460.5 564.4h0.9M459.5 566.2h0.9M453.5 559.9h0.9M460.9 557.8h0.9M461.9 555.1h0.9M459.0 556.0h0.9M463.7 570.3h0.9M449.8 559.7h0.9M448.7 565.7h0.9M468.9 553.4h0.9M465.1 557.0h0.9M460.0 571.5h0.9M462.3 549.6h0.9M454.2 566.1h0.9M463.2 557.8h0.9M462.8 562.1h0.9M459.5 566.4h0.9M455.8 567.1h0.9M465.8 558.6h0.9M457.3 562.1h0.9M445.9 569.8h0.9M445.9 557.6h0.9M462.3 554.5h0.9M461.9 559.9h0.9M446.2 563.4h0.9M458.8 563.9h0.9M457.1 555.5h0.9M456.4 563.3h0.9M450.4 563.6h0.9M451.2 554.1h0.9M472.5 558.6h0.9M458.7 566.5h0.9M456.3 571.0h0.9M457.5 562.9h0.9M456.0 563.4h0.9M461.7 560.0h0.9M455.9 567.0h0.9M463.1 559.1h0.9M464.6 554.3h0.9M467.3 555.9h0.9M468.2 553.9h0.9M458.4 562.8h0.9M469.8 563.2h0.9M455.0 559.6h0.9M467.2 563.5h0.9M463.3 557.2h0.9M467.6 556.5h0.9M462.0 563.0h0.9M450.8 553.6h0.9M462.5 563.2h0.9M463.5 561.7h0.9M462.9 564.8h0.9M463.6 566.8h0.9M461.6 564.1h0.9M456.7 564.2h0.9M462.5 560.1h0.9M469.5 555.8h0.9M467.5 558.5h0.9M464.4 553.5h0.9M459.4 566.3h0.9M455.2 565.5h0.9M463.6 559.8h0.9M463.5 561.7h0.9M458.9 563.5h0.9M455.2 560.9h0.9M449.2 566.1h0.9M448.7 567.0h0.9M458.4 555.8h0.9M460.6 562.0h0.9M455.2 558.4h0.9M459.7 563.1h0.9M469.8 565.8h0.9M447.7 569.3h0.9M460.8 556.8h0.9M466.3 568.6h0.9M463.3 566.3h0.9M465.3 555.5h0.9M447.4 573.9h0.9M465.3 548.3h0.9M456.7 558.8h0.9M461.0 560.5h0.9M465.5 554.6h0.9M467.9 547.2h0.9M467.0 571.4h0.9M460.3 564.0h0.9M464.0 576.4h0.9M464.4 556.4h0.9M447.8 568.5h0.9M459.5 550.0h0.9M457.7 565.0h0.9M443.8 568.6h0.9M446.3 561.0h0.9M464.7 564.3h0.9M465.4 554.2h0.9M458.7 551.9h0.9M451.3 568.4h0.9M454.7 558.1h0.9M447.1 566.5h0.9M469.2 544.8h0.9M455.4 569.3h0.9M445.9 565.1h0.9M462.5 565.5h0.9M463.2 568.8h0.9M459.1 560.6h0.9M463.1 560.9h0.9M447.8 562.3h0.9M458.8 563.2h0.9M450.1 562.3h0.9M455.5 565.0h0.9M458.1 565.0h0.9M459.9 555.8h0.9M454.8 556.9h0.9M462.0 564.0h0.9M449.2 557.1h0.9M462.1 558.0h0.9M460.4 563.0h0.9M464.0 563.5h0.9M451.6 553.4h0.9M455.7 561.4h0.9M457.8 564.1h0.9M460.9 567.3h0.9M455.4 563.2h0.9M462.0 571.1h0.9M451.1 560.2h0.9M458.8 565.5h0.9M459.2 560.2h0.9M445.4 557.4h0.9M457.6 560.8h0.9M471.6 556.4h0.9M464.4 563.6h0.9M451.0 559.0h0.9M460.5 568.5h0.9M464.5 555.1h0.9M453.7 569.2h0.9M464.0 552.6h0.9M468.0 552.1h0.9M463.8 557.5h0.9M456.0 559.6h0.9M465.4 561.2h0.9M464.0 557.0h0.9M459.0 573.0h0.9M470.1 554.2h0.9M455.6 571.3h0.9M460.5 560.8h0.9M465.8 559.5h0.9M464.8 568.9h0.9M448.8 570.3h0.9M453.3 564.8h0.9M459.0 562.7h0.9M445.6 572.4h0.9M473.6 551.1h0.9M466.7 560.4h0.9M460.3 557.8h0.9M464.2 559.9h0.9M470.7 559.4h0.9M448.2 551.3h0.9M470.4 557.7h0.9M459.2 557.8h0.9M478.7 557.8h0.9M459.3 559.1h0.9M466.3 564.7h0.9M465.0 563.1h0.9M462.0 561.6h0.9M451.6 566.0h0.9M459.7 560.5h0.9M458.6 563.1h0.9M455.3 562.2h0.9M456.3 575.3h0.9M451.0 559.1h0.9M455.1 561.2h0.9M446.9 554.6h0.9M472.5 559.5h0.9M458.3 564.7h0.9M448.6 558.1h0.9M463.0 562.2h0.9M455.0 563.4h0.9M439.2 571.4h0.9M466.8 558.0h0.9M462.0 562.8h0.9M443.0 563.0h0.9M451.8 566.5h0.9M451.1 555.3h0.9M464.9 557.0h0.9M470.6 565.9h0.9M445.8 561.5h0.9M469.8 563.1h0.9M462.9 561.1h0.9M465.5 561.3h0.9M452.9 568.7h0.9M465.0 555.8h0.9M452.4 562.2h0.9M456.9 565.3h0.9M464.6 558.3h0.9M453.4 554.7h0.9M454.4 558.3h0.9M456.7 564.4h0.9M468.6 575.1h0.9M452.6 561.9h0.9M451.4 564.0h0.9M459.9 566.2h0.9M448.8 571.8h0.9M462.5 556.5h0.9M455.5 564.3h0.9M462.5 558.5h0.9M458.5 561.6h0.9M453.0 566.0h0.9M463.4 559.2h0.9M452.0 565.1h0.9M459.5 562.7h0.9M458.7 566.0h0.9M468.5 560.6h0.9M463.8 565.3h0.9M458.8 560.5h0.9M450.2 566.2h0.9M465.3 552.7h0.9M461.7 552.9h0.9M465.6 567.6h0.9M457.1 556.0h0.9M461.0 559.4h0.9M463.5 556.0h0.9M447.1 565.2h0.9M465.7 563.2h0.9M461.3 560.1h0.9M463.5 557.8h0.9M457.0 563.6h0.9M465.5 555.0h0.9M461.3 556.6h0.9M455.1 564.4h0.9M448.9 562.2h0.9M450.3 562.8h0.9M458.8 573.9h0.9M463.6 559.2h0.9M445.4 556.0h0.9M460.9 556.9h0.9M465.4 555.7h0.9M449.5 563.1h0.9M446.3 560.6h0.9M462.9 556.3h0.9M462.7 556.3h0.9M456.7 559.6h0.9M454.4 560.3h0.9M469.1 555.5h0.9M450.5 575.0h0.9M470.2 561.2h0.9M458.4 560.8h0.9M456.6 563.3h0.9M462.5 559.3h0.9M451.9 560.0h0.9M474.2 562.0h0.9M449.9 562.8h0.9M460.5 563.6h0.9M459.2 562.4h0.9M464.4 564.4h0.9M453.4 570.2h0.9M463.5 561.7h0.9M449.1 565.5h0.9M459.2 564.6h0.9M465.5 561.4h0.9M453.8 570.8h0.9M462.0 564.6h0.9M457.8 558.2h0.9M478.1 554.4h0.9M463.4 556.4h0.9M460.5 566.4h0.9M466.3 566.6h0.9M464.9 552.3h0.9M451.9 571.3h0.9M462.8 557.8h0.9M456.3 559.8h0.9M470.8 554.0h0.9M452.4 569.7h0.9M459.7 562.8h0.9M456.8 562.3h0.9M448.3 570.0h0.9M454.1 562.0h0.9M464.3 565.1h0.9M445.0 568.2h0.9M465.3 563.2h0.9M454.2 565.6h0.9M464.1 563.4h0.9M454.9 562.5h0.9M458.6 567.5h0.9M465.6 555.4h0.9M459.0 562.5h0.9M453.3 563.8h0.9M466.8 561.1h0.9M453.5 560.9h0.9M455.4 555.5h0.9M461.7 560.5h0.9M450.1 564.9h0.9M454.5 562.4h0.9M456.7 569.8h0.9M454.8 567.6h0.9M464.0 566.2h0.9M459.0 561.3h0.9M455.7 553.2h0.9M474.7 551.6h0.9M454.9 557.7h0.9M462.1 568.1h0.9M455.4 565.6h0.9M468.3 561.2h0.9M452.9 555.5h0.9M463.3 561.9h0.9M456.3 560.5h0.9M467.4 548.5h0.9M454.7 560.5h0.9M447.6 563.9h0.9M456.9 569.0h0.9M444.9 561.8h0.9M457.7 553.9h0.9M444.9 565.8h0.9M449.3 561.5h0.9M459.4 563.5h0.9M454.6 562.3h0.9M463.8 557.9h0.9M462.9 556.1h0.9M465.4 564.5h0.9M456.9 578.1h0.9M456.5 560.9h0.9M459.4 563.6h0.9M451.6 565.6h0.9M458.7 568.9h0.9M449.5 569.9h0.9M455.7 559.3h0.9M459.8 559.7h0.9M460.2 561.9h0.9M466.4 555.2h0.9M464.5 544.3h0.9M474.0 559.4h0.9M470.1 556.3h0.9M459.1 556.1h0.9M465.7 551.7h0.9M454.2 564.0h0.9M461.7 561.6h0.9M451.0 563.9h0.9M465.2 564.1h0.9M465.3 560.0h0.9M456.5 559.9h0.9M455.8 562.6h0.9M461.8 557.2h0.9M470.7 549.8h0.9M464.3 557.4h0.9M457.7 560.1h0.9M468.8 554.4h0.9M463.3 559.6h0.9M465.6 560.8h0.9M468.7 552.3h0.9M457.7 570.8h0.9M467.9 556.8h0.9M458.1 563.2h0.9M466.3 553.4h0.9M468.8 555.7h0.9M456.2 560.8h0.9M446.4 569.9h0.9M449.6 563.6h0.9M454.0 565.3h0.9M464.2 558.7h0.9M461.6 562.1h0.9M471.2 557.7h0.9M469.6 555.3h0.9M460.3 557.3h0.9M461.4 555.6h0.9M461.1 556.9h0.9M459.7 567.2h0.9M462.1 563.8h0.9M453.8 554.6h0.9M468.7 555.1h0.9M457.2 567.2h0.9M450.3 562.2h0.9M465.4 554.3h0.9M466.2 555.9h0.9M458.2 562.2h0.9M458.5 567.2h0.9M466.7 557.5h0.9M464.6 561.1h0.9M467.0 548.8h0.9M468.1 561.1h0.9M457.4 562.3h0.9M459.8 567.3h0.9M453.2 567.6h0.9M469.1 558.8h0.9M455.3 561.0h0.9M443.3 564.6h0.9M464.5 553.5h0.9M448.1 566.0h0.9M450.7 568.3h0.9M455.8 568.0h0.9M455.6 555.9h0.9M453.0 561.3h0.9M456.6 569.1h0.9M453.6 566.2h0.9M456.9 565.6h0.9M446.7 560.0h0.9M465.9 565.0h0.9M449.7 564.8h0.9M454.1 559.2h0.9M465.9 557.9h0.9M449.9 565.2h0.9M466.6 553.5h0.9M454.3 559.7h0.9M459.3 558.3h0.9M463.5 554.6h0.9M450.8 568.1h0.9M436.5 568.7h0.9M461.8 561.1h0.9M454.7 561.4h0.9M470.9 574.0h0.9M453.8 563.3h0.9M457.6 565.0h0.9M460.7 563.3h0.9M469.6 554.2h0.9M458.3 563.7h0.9M472.4 552.2h0.9M473.1 559.8h0.9M439.3 567.0h0.9M453.8 566.2h0.9M468.3 556.6h0.9M465.2 569.1h0.9M466.4 568.4h0.9M457.1 570.9h0.9M450.9 553.3h0.9M453.0 562.2h0.9M460.8 564.3h0.9M465.1 560.7h0.9M458.4 570.9h0.9M467.4 557.0h0.9M455.6 563.0h0.9M456.5 559.2h0.9M457.9 558.5h0.9M462.2 556.2h0.9M463.4 560.6h0.9M461.7 562.6h0.9M458.3 575.0h0.9M456.5 566.5h0.9M458.6 559.3h0.9M473.3 559.3h0.9M458.9 564.3h0.9M467.4 565.0h0.9M465.7 556.8h0.9M455.3 557.4h0.9M463.1 563.6h0.9M458.3 565.2h0.9M459.3 558.8h0.9M453.9 569.9h0.9M477.3 554.2h0.9M450.1 560.9h0.9M462.5 562.8h0.9M464.2 546.0h0.9M472.0 555.1h0.9M461.2 562.2h0.9M456.5 561.2h0.9M462.6 550.4h0.9M459.9 563.7h0.9M448.3 566.4h0.9M470.3 557.1h0.9M465.6 561.4h0.9M461.7 561.7h0.9M453.7 563.2h0.9M468.9 549.6h0.9M455.6 556.7h0.9M454.3 559.9h0.9M451.9 566.5h0.9M454.4 566.6h0.9M465.8 544.4h0.9M453.8 553.3h0.9M459.5 563.0h0.9M463.5 565.2h0.9M456.8 553.6h0.9M467.3 551.9h0.9M459.6 562.7h0.9M453.9 564.6h0.9M465.6 549.0h0.9M447.5 565.3h0.9M455.6 556.6h0.9M446.3 573.0h0.9M459.2 554.4h0.9M463.1 558.8h0.9M457.6 555.2h0.9M459.1 563.8h0.9M445.7 563.2h0.9M470.2 565.6h0.9M463.7 558.4h0.9M451.5 563.3h0.9M458.8 563.8h0.9M463.2 571.9h0.9M463.4 547.5h0.9M451.8 565.3h0.9M466.8 559.2h0.9M437.8 564.4h0.9M469.7 558.6h0.9M478.1 555.1h0.9M465.9 565.5h0.9M455.4 560.5h0.9M453.4 565.7h0.9M464.4 563.3h0.9M470.4 558.4h0.9M467.1 555.6h0.9M454.7 567.5h0.9M469.1 562.8h0.9M457.4 559.8h0.9M457.9 563.8h0.9M458.8 560.5h0.9M460.5 559.0h0.9M460.4 557.4h0.9M448.6 565.4h0.9M470.2 551.0h0.9M468.5 563.2h0.9M456.5 564.1h0.9M445.7 571.6h0.9M470.1 556.3h0.9M445.1 565.9h0.9M454.8 564.2h0.9M460.5 558.4h0.9M455.7 558.9h0.9M463.7 559.8h0.9M460.7 557.8h0.9M462.1 558.1h0.9M461.1 559.3h0.9M452.7 559.0h0.9M444.2 562.3h0.9M469.7 572.5h0.9M446.9 563.7h0.9M467.3 575.5h0.9M455.6 557.1h0.9M466.9 568.0h0.9M438.5 566.4h0.9M465.1 551.9h0.9M457.4 558.9h0.9M461.3 552.4h0.9M462.0 560.8h0.9M464.2 560.7h0.9M456.6 553.3h0.9M455.3 558.4h0.9M462.5 558.2h0.9M463.0 565.0h0.9M462.5 568.3h0.9M461.7 552.0h0.9M458.4 568.1h0.9M458.9 567.7h0.9M455.5 562.6h0.9M462.8 550.9h0.9M459.0 558.9h0.9M464.4 567.4h0.9M459.7 553.8h0.9M464.8 555.7h0.9M463.2 565.1h0.9M459.6 566.0h0.9M458.7 556.7h0.9M454.5 556.6h0.9M467.7 557.4h0.9M463.4 553.0h0.9M462.4 553.1h0.9M461.3 560.0h0.9M456.3 564.4h0.9M457.8 557.4h0.9M451.7 558.4h0.9M468.9 556.7h0.9M458.6 565.1h0.9M451.2 559.4h0.9M465.4 566.2h0.9M461.8 560.6h0.9M467.6 548.4h0.9M477.2 545.5h0.9M456.0 555.8h0.9M451.0 564.4h0.9M473.5 548.4h0.9M456.0 564.3h0.9M452.2 563.6h0.9M460.0 549.2h0.9M456.9 560.9h0.9M455.9 562.4h0.9M446.7 565.7h0.9M453.8 558.7h0.9M472.3 564.6h0.9M462.8 554.6h0.9M470.0 557.9h0.9M455.5 566.4h0.9M457.0 565.4h0.9M468.1 562.4h0.9M452.3 564.3h0.9M456.8 556.0h0.9M463.8 562.3h0.9M449.2 563.7h0.9M449.4 559.8h0.9M455.5 570.4h0.9M454.2 561.8h0.9M468.3 561.6h0.9M464.1 547.5h0.9M460.6 551.1h0.9M454.4 561.6h0.9M460.1 571.1h0.9M461.0 566.4h0.9M458.2 561.4h0.9M463.9 561.0h0.9M458.9 552.1h0.9M463.6 560.5h0.9M463.3 558.6h0.9M459.3 554.2h0.9M464.3 552.0h0.9M471.0 560.1h0.9M458.4 560.0h0.9M463.9 557.0h0.9M452.3 566.4h0.9M450.4 563.5h0.9M473.1 557.9h0.9M456.4 562.3h0.9M455.2 563.3h0.9M451.5 569.0h0.9M458.2 558.4h0.9M461.3 574.0h0.9M455.5 560.6h0.9M454.6 561.1h0.9M469.6 559.1h0.9M463.1 561.0h0.9M446.6 555.2h0.9M471.0 558.5h0.9M461.6 561.4h0.9M460.9 560.4h0.9M452.8 552.8h0.9M463.4 559.2h0.9M466.6 558.7h0.9M459.0 564.5h0.9M459.7 558.5h0.9M456.1 560.6h0.9M456.5 560.2h0.9M472.5 569.4h0.9M461.3 566.0h0.9M439.3 554.9h0.9M456.0 562.1h0.9M451.6 558.1h0.9M452.8 562.0h0.9M459.8 559.1h0.9M450.8 563.8h0.9M467.5 552.0h0.9M462.2 564.9h0.9M452.9 561.6h0.9M481.3 555.7h0.9M456.4 563.5h0.9M460.5 561.2h0.9M461.9 558.1h0.9M442.7 565.0h0.9M457.4 554.9h0.9M460.7 568.3h0.9M459.6 557.5h0.9M462.8 564.8h0.9M445.4 562.0h0.9M454.2 561.6h0.9M457.6 558.9h0.9M460.4 561.0h0.9M450.4 562.6h0.9M452.0 566.6h0.9M462.7 562.7h0.9M452.5 562.0h0.9M444.9 569.0h0.9M449.6 568.2h0.9M467.6 558.9h0.9M464.1 559.7h0.9M464.0 563.5h0.9M472.3 564.7h0.9M459.6 565.4h0.9M466.2 559.6h0.9M458.4 554.9h0.9M464.7 553.5h0.9M453.3 559.9h0.9M461.0 555.0h0.9M463.8 561.7h0.9M459.4 559.2h0.9M466.3 564.2h0.9M454.1 558.4h0.9M453.6 559.6h0.9M457.6 561.2h0.9M447.6 575.2h0.9M453.2 562.2h0.9M442.2 560.0h0.9M453.3 565.6h0.9M461.0 550.6h0.9M464.3 566.4h0.9M459.7 565.8h0.9M459.5 556.1h0.9M464.7 554.9h0.9M460.9 558.1h0.9M458.4 562.4h0.9M464.4 549.4h0.9M452.4 565.4h0.9M465.5 556.7h0.9M459.4 563.8h0.9M467.8 551.6h0.9M448.4 565.6h0.9M461.6 552.9h0.9M469.0 560.8h0.9M462.8 554.7h0.9M452.5 568.3h0.9M462.7 562.9h0.9M444.1 553.8h0.9M469.1 561.1h0.9M457.7 562.0h0.9M464.1 562.4h0.9M457.1 559.6h0.9M455.4 568.7h0.9M452.5 546.7h0.9M460.5 557.4h0.9M450.0 563.5h0.9M450.1 563.7h0.9M457.0 565.1h0.9M448.8 557.2h0.9M452.4 557.6h0.9M463.9 557.5h0.9M446.6 563.4h0.9M459.2 560.9h0.9M447.1 567.1h0.9M463.6 564.0h0.9M466.4 556.6h0.9M450.1 564.1h0.9M461.7 554.9h0.9M465.6 552.6h0.9M453.9 568.4h0.9M459.5 562.7h0.9M457.6 562.2h0.9M459.9 570.8h0.9M463.5 558.1h0.9M464.5 562.7h0.9M456.4 563.6h0.9M459.6 558.0h0.9" stroke="#e3363c" stroke-opacity="0.33" stroke-width="0.9" fill="none"/>
<path d="M458.2 560.4h0.9M459.5 559.1h0.9M454.6 563.2h0.9M463.3 558.5h0.9M467.8 558.4h0.9M458.9 558.5h0.9M462.2 557.7h0.9M455.8 562.7h0.9M459.7 559.5h0.9M463.3 558.8h0.9M466.8 554.1h0.9M461.1 560.4h0.9M458.9 559.1h0.9M464.9 552.9h0.9M459.9 554.7h0.9M459.6 554.3h0.9M458.6 564.3h0.9M466.3 557.0h0.9M453.3 566.8h0.9M460.4 556.4h0.9M458.1 557.0h0.9M460.6 559.5h0.9M462.4 561.2h0.9M456.0 555.4h0.9M455.5 558.6h0.9M459.2 559.1h0.9M462.6 562.8h0.9M459.7 556.9h0.9M458.8 558.0h0.9M460.9 561.3h0.9M458.1 563.2h0.9M468.9 559.9h0.9M466.5 556.8h0.9M459.1 566.7h0.9M461.1 560.1h0.9M458.6 557.9h0.9M461.2 555.1h0.9M457.1 563.3h0.9M458.7 558.2h0.9M464.5 562.0h0.9M459.9 559.7h0.9M464.1 560.7h0.9M465.3 559.2h0.9M459.5 562.0h0.9M458.8 555.5h0.9M465.8 558.6h0.9M465.5 556.9h0.9M463.3 558.0h0.9M462.7 561.4h0.9M462.0 560.8h0.9M462.5 562.5h0.9M461.0 554.4h0.9M467.1 557.5h0.9M458.5 559.0h0.9M467.7 556.1h0.9M463.5 560.0h0.9M461.3 564.7h0.9M467.0 553.8h0.9M462.7 553.6h0.9M460.0 560.3h0.9M461.9 560.8h0.9M462.8 559.6h0.9M460.9 560.5h0.9M461.7 565.1h0.9M462.8 562.3h0.9M461.2 559.0h0.9M458.7 556.8h0.9M468.4 556.7h0.9M460.8 558.2h0.9M464.8 556.4h0.9M458.8 559.1h0.9M466.5 557.4h0.9M459.7 558.3h0.9M465.6 557.9h0.9M461.1 562.2h0.9M462.6 555.6h0.9M466.2 560.0h0.9M458.5 556.8h0.9M464.2 556.7h0.9M460.0 559.2h0.9M461.2 562.0h0.9M458.1 562.7h0.9M466.2 559.9h0.9M463.7 558.8h0.9M460.2 559.6h0.9M460.3 565.0h0.9M459.3 557.3h0.9M465.7 561.5h0.9M461.5 558.2h0.9M458.2 563.0h0.9M459.4 558.4h0.9M461.3 555.4h0.9M460.3 552.5h0.9M457.2 557.3h0.9M461.2 561.8h0.9M458.5 565.0h0.9M458.2 559.6h0.9M463.4 556.0h0.9M465.6 556.4h0.9M459.5 557.4h0.9M464.7 557.3h0.9M458.2 558.1h0.9M458.8 560.4h0.9M459.7 562.6h0.9M460.1 558.1h0.9M464.4 562.0h0.9M454.7 564.1h0.9M464.8 557.9h0.9M461.8 554.4h0.9M459.9 563.2h0.9M460.8 559.8h0.9M463.6 559.2h0.9M461.9 557.5h0.9M461.7 563.1h0.9M457.6 557.0h0.9M461.0 562.2h0.9M467.1 556.6h0.9M459.8 562.0h0.9M463.5 561.7h0.9M463.7 560.3h0.9M463.2 559.5h0.9M457.9 560.7h0.9M468.0 559.7h0.9M464.7 558.7h0.9M461.1 560.5h0.9M461.4 562.6h0.9M459.1 558.3h0.9M457.8 566.0h0.9M457.5 558.8h0.9M464.7 562.9h0.9M462.8 557.5h0.9M461.9 556.5h0.9M460.3 560.0h0.9M462.1 561.3h0.9M465.2 562.9h0.9M463.4 557.3h0.9M460.8 557.0h0.9M458.7 559.8h0.9M463.5 556.1h0.9M454.7 559.9h0.9M456.9 561.2h0.9M458.6 557.3h0.9M458.0 559.9h0.9M463.1 560.2h0.9M465.1 556.5h0.9M463.2 558.5h0.9M456.7 559.9h0.9M468.0 555.2h0.9M467.5 558.5h0.9M466.3 556.1h0.9M463.7 557.1h0.9M456.0 558.7h0.9M460.5 554.9h0.9M461.2 556.8h0.9M460.5 555.6h0.9M463.6 557.4h0.9M454.3 558.8h0.9M459.3 555.5h0.9M462.8 560.0h0.9M460.8 563.8h0.9M466.2 557.6h0.9M463.2 559.7h0.9M461.9 562.9h0.9M456.2 554.5h0.9M461.8 560.4h0.9M462.4 555.4h0.9M464.6 555.1h0.9M464.1 560.0h0.9M463.1 561.8h0.9M462.1 565.1h0.9M462.2 557.6h0.9M469.5 554.8h0.9M457.7 565.6h0.9M465.4 555.4h0.9M459.4 563.8h0.9M460.1 557.1h0.9M459.7 560.4h0.9M466.3 561.3h0.9M461.1 564.1h0.9M457.2 563.8h0.9M461.2 560.7h0.9M458.8 558.6h0.9M463.5 561.6h0.9M454.1 563.5h0.9M458.5 557.7h0.9M457.5 563.0h0.9M463.7 560.0h0.9M452.8 559.4h0.9M458.6 559.5h0.9M466.3 555.4h0.9M462.8 561.5h0.9M467.0 557.4h0.9M464.7 563.3h0.9M457.6 556.0h0.9M458.3 560.0h0.9M465.8 557.9h0.9M465.2 557.5h0.9M460.5 558.0h0.9M457.8 562.8h0.9M463.0 560.1h0.9M458.9 559.4h0.9M463.1 560.2h0.9M466.5 553.9h0.9M465.5 559.7h0.9M460.5 560.2h0.9M462.9 563.1h0.9M469.8 555.7h0.9M461.5 562.1h0.9M462.5 558.1h0.9M464.7 560.1h0.9M461.0 562.1h0.9M452.3 560.4h0.9M460.3 560.3h0.9M458.3 565.4h0.9M460.1 560.4h0.9M462.0 561.3h0.9M460.2 562.2h0.9M456.6 557.4h0.9M463.0 558.9h0.9M461.5 553.4h0.9M460.7 557.7h0.9M460.0 558.8h0.9M459.1 558.5h0.9M462.2 553.6h0.9M456.2 563.2h0.9M466.7 554.1h0.9M456.7 558.3h0.9M459.4 564.1h0.9M464.5 560.3h0.9M462.6 559.4h0.9M458.0 558.2h0.9M466.3 564.1h0.9M461.6 563.0h0.9M458.9 560.8h0.9M466.5 556.3h0.9M462.5 557.0h0.9M465.6 553.2h0.9M462.6 557.9h0.9M462.2 559.9h0.9M466.5 559.2h0.9M465.0 558.4h0.9M459.4 564.4h0.9M466.7 557.8h0.9M463.4 557.5h0.9M457.8 564.3h0.9M461.2 565.2h0.9M463.3 558.2h0.9M459.3 560.8h0.9M457.4 560.3h0.9M465.9 555.9h0.9M467.0 556.0h0.9M461.3 556.5h0.9M459.6 558.9h0.9M459.1 566.4h0.9M462.9 558.2h0.9M457.6 561.4h0.9M456.5 559.0h0.9M463.3 564.8h0.9M456.2 563.8h0.9M455.7 553.6h0.9M456.4 561.6h0.9M460.4 557.6h0.9M467.6 557.6h0.9M457.0 556.7h0.9M460.8 557.6h0.9M463.1 555.2h0.9M464.4 556.2h0.9M461.4 558.5h0.9M464.6 561.0h0.9M458.2 558.3h0.9M468.5 558.3h0.9M468.5 558.3h0.9M463.6 563.0h0.9M458.4 559.6h0.9M460.7 561.7h0.9M458.1 560.5h0.9M458.1 560.4h0.9M466.2 560.1h0.9M463.7 565.8h0.9M459.4 561.8h0.9M456.7 555.1h0.9M458.9 564.4h0.9M459.5 569.2h0.9M461.1 560.3h0.9M465.2 557.3h0.9M458.3 559.1h0.9M458.8 562.4h0.9M460.2 561.5h0.9M455.7 561.1h0.9M468.3 556.7h0.9M462.3 562.4h0.9M464.0 562.6h0.9M458.3 563.3h0.9M458.5 562.9h0.9M471.0 558.7h0.9M458.9 562.0h0.9M461.7 556.9h0.9M460.5 556.5h0.9M465.4 559.9h0.9M461.5 561.3h0.9M468.6 554.9h0.9M455.5 563.5h0.9M458.6 558.4h0.9M465.3 560.2h0.9M465.1 562.2h0.9M458.5 559.6h0.9M459.0 552.4h0.9M452.7 565.1h0.9M460.5 560.0h0.9M458.3 561.7h0.9M463.7 556.1h0.9M462.7 558.1h0.9M460.7 560.0h0.9M466.7 558.0h0.9M463.5 558.6h0.9M455.3 565.5h0.9M461.2 559.7h0.9M457.5 556.7h0.9M468.3 561.1h0.9M463.8 552.3h0.9M461.4 555.7h0.9M459.8 558.6h0.9M458.1 558.7h0.9M460.5 562.1h0.9M467.5 558.8h0.9M460.9 559.1h0.9M460.3 559.8h0.9M458.8 560.1h0.9M463.5 557.4h0.9M458.3 560.6h0.9M461.3 559.1h0.9M461.1 561.6h0.9M459.6 557.2h0.9M462.0 556.8h0.9M464.6 560.0h0.9M463.0 559.3h0.9M456.4 561.4h0.9M462.3 560.7h0.9M457.2 561.1h0.9M456.3 562.6h0.9M461.5 559.6h0.9M467.4 558.3h0.9M459.7 558.5h0.9M460.6 562.1h0.9M463.4 556.7h0.9M460.1 558.7h0.9M463.5 558.7h0.9M457.6 558.7h0.9M463.5 553.9h0.9M451.2 555.5h0.9M467.0 554.6h0.9M464.6 559.3h0.9M465.3 560.6h0.9M459.5 560.3h0.9M465.0 559.0h0.9M457.6 559.0h0.9M456.7 562.7h0.9M457.3 556.8h0.9M459.7 561.2h0.9M461.4 558.6h0.9M462.4 560.7h0.9M456.1 559.7h0.9M465.2 559.5h0.9M455.5 560.3h0.9M466.8 558.6h0.9M461.9 562.1h0.9M467.4 560.3h0.9M454.8 558.9h0.9M459.3 560.3h0.9M460.2 560.7h0.9M467.3 559.4h0.9M464.3 557.7h0.9M467.1 557.6h0.9M461.8 559.0h0.9M457.8 567.8h0.9M462.1 561.6h0.9M468.3 555.0h0.9M458.6 563.9h0.9M460.6 556.8h0.9M464.2 557.8h0.9M454.7 555.2h0.9M458.3 562.2h0.9M458.9 563.6h0.9M468.7 556.3h0.9M461.7 558.9h0.9M463.9 558.0h0.9M466.3 560.9h0.9M462.6 555.7h0.9M462.9 557.7h0.9M463.3 561.2h0.9M459.2 561.1h0.9M464.8 554.9h0.9M461.4 561.5h0.9M461.6 562.3h0.9M455.8 557.8h0.9M462.1 558.5h0.9M463.3 561.2h0.9M464.1 556.8h0.9M457.3 555.6h0.9M458.2 561.8h0.9M459.9 555.6h0.9M463.6 558.0h0.9M464.2 556.7h0.9M462.8 555.1h0.9M453.9 560.9h0.9M463.9 559.2h0.9M455.0 563.2h0.9M465.4 562.2h0.9M464.3 559.3h0.9M456.3 563.2h0.9M454.2 562.3h0.9M458.6 557.9h0.9M457.5 561.0h0.9M462.2 556.9h0.9M463.0 560.6h0.9M463.4 564.0h0.9M459.1 558.3h0.9M456.2 565.4h0.9M463.1 557.8h0.9M461.9 558.6h0.9M463.9 557.9h0.9M461.7 558.9h0.9M455.3 555.9h0.9M461.3 555.6h0.9M463.2 560.3h0.9M466.3 554.3h0.9M462.8 561.4h0.9M458.1 559.3h0.9M465.2 563.5h0.9M465.8 559.8h0.9M458.7 562.8h0.9M463.2 554.5h0.9M460.9 559.0h0.9M461.0 554.3h0.9M463.4 558.2h0.9M457.5 555.0h0.9M453.5 561.9h0.9M463.7 559.3h0.9M461.4 554.2h0.9M463.4 562.2h0.9M456.8 563.8h0.9M459.4 562.1h0.9M459.3 555.5h0.9M459.2 564.3h0.9M462.3 562.6h0.9M463.3 560.9h0.9M460.0 560.7h0.9M461.0 562.3h0.9M460.6 563.1h0.9M464.7 553.8h0.9" stroke="#e02a30" stroke-opacity="0.42" stroke-width="0.9" fill="none"/>
<path d="M420.3 617.1h0.9M428.3 624.8h0.9M423.7 591.5h0.9M425.9 604.7h0.9M422.0 615.7h0.9M414.2 622.5h0.9M425.0 617.9h0.9M423.8 615.3h0.9M415.9 604.7h0.9M425.5 607.6h0.9M421.3 615.3h0.9M421.7 614.0h0.9M423.7 611.2h0.9M417.0 607.6h0.9M426.5 603.8h0.9M423.3 614.7h0.9M420.5 578.8h0.9M422.3 602.3h0.9M417.8 621.3h0.9M417.8 614.7h0.9M421.9 613.3h0.9M432.4 589.6h0.9M426.0 609.8h0.9M421.0 603.4h0.9M421.7 611.6h0.9M415.8 629.2h0.9M418.4 609.2h0.9M415.8 612.2h0.9M422.0 623.4h0.9M426.4 605.8h0.9M428.8 610.5h0.9M426.7 631.0h0.9M420.9 598.8h0.9M422.5 627.5h0.9M422.2 623.5h0.9M423.3 621.3h0.9M427.7 608.2h0.9M415.4 609.1h0.9M419.3 597.3h0.9M420.1 619.0h0.9M414.9 593.2h0.9M426.0 601.3h0.9M418.5 626.1h0.9M426.2 615.5h0.9M426.7 580.6h0.9M423.6 615.6h0.9M415.2 612.5h0.9M423.7 609.9h0.9M424.2 621.3h0.9M422.0 608.2h0.9M415.2 623.4h0.9M418.7 614.4h0.9M427.5 620.4h0.9M416.0 609.5h0.9M420.1 592.2h0.9M417.4 617.3h0.9M423.3 608.8h0.9M423.5 598.0h0.9M418.3 608.8h0.9M425.4 607.7h0.9M420.5 614.7h0.9M429.3 597.4h0.9M423.7 613.3h0.9M421.0 613.8h0.9M412.8 610.6h0.9M421.8 597.0h0.9M425.4 610.0h0.9M419.3 619.4h0.9M418.2 602.6h0.9M424.3 621.2h0.9M430.9 606.7h0.9M416.6 593.7h0.9M416.2 611.7h0.9M421.2 603.3h0.9M417.8 602.8h0.9M418.7 624.2h0.9M422.9 626.7h0.9M424.4 619.9h0.9M426.3 616.6h0.9M427.2 624.4h0.9M429.4 614.2h0.9M419.8 616.8h0.9M420.6 603.0h0.9M424.6 598.6h0.9M419.4 626.8h0.9M421.3 620.3h0.9M424.0 615.6h0.9M421.4 617.9h0.9M416.7 617.2h0.9M417.6 602.1h0.9M420.3 595.8h0.9M412.5 614.5h0.9M423.1 618.6h0.9M431.1 613.9h0.9M425.6 602.9h0.9M425.8 598.5h0.9M431.2 601.0h0.9M419.0 619.3h0.9M410.5 625.2h0.9M417.1 612.9h0.9M425.7 613.2h0.9M426.2 605.7h0.9M426.4 586.8h0.9M428.9 604.1h0.9M417.7 610.9h0.9M429.8 603.8h0.9M421.8 606.9h0.9M418.7 595.9h0.9M423.4 619.2h0.9M418.0 613.3h0.9M423.1 615.5h0.9M420.7 611.5h0.9M423.8 599.2h0.9M420.1 619.9h0.9M417.7 625.6h0.9M421.6 598.5h0.9M421.6 595.7h0.9M425.8 593.4h0.9M421.8 608.4h0.9M419.7 615.6h0.9M423.4 604.9h0.9M425.6 606.3h0.9M424.1 626.5h0.9M422.2 621.6h0.9M415.0 616.8h0.9M415.1 608.4h0.9M427.3 581.1h0.9M418.9 602.0h0.9M417.3 610.9h0.9M425.5 598.3h0.9M420.7 589.9h0.9M420.5 587.2h0.9M414.4 615.7h0.9M426.2 602.2h0.9M423.8 602.4h0.9M424.5 631.1h0.9M411.5 600.3h0.9M419.2 605.4h0.9M426.8 629.3h0.9M420.8 618.2h0.9M414.8 607.0h0.9M420.4 609.2h0.9M424.4 593.5h0.9M414.7 634.7h0.9M413.8 611.0h0.9M424.2 616.8h0.9M423.4 592.9h0.9M421.0 593.3h0.9M429.8 615.8h0.9M424.5 613.6h0.9M418.6 624.1h0.9M424.8 618.5h0.9M423.3 619.6h0.9M419.8 615.8h0.9M422.1 608.2h0.9M422.2 635.3h0.9M411.1 626.4h0.9M418.4 624.4h0.9M417.2 608.5h0.9M426.1 610.6h0.9M424.3 597.5h0.9M414.7 629.3h0.9M422.3 610.1h0.9M416.4 598.8h0.9M417.0 610.0h0.9M421.6 604.1h0.9M418.4 612.0h0.9M428.1 595.7h0.9M414.1 623.1h0.9M415.6 605.8h0.9M420.2 631.6h0.9M415.4 577.5h0.9M420.1 623.1h0.9M423.0 602.0h0.9M424.4 587.9h0.9M423.6 628.0h0.9M419.8 620.2h0.9M415.3 627.2h0.9M419.5 601.8h0.9M419.9 590.8h0.9M422.4 633.8h0.9M415.4 608.2h0.9M424.1 604.8h0.9M414.3 614.1h0.9M425.8 612.6h0.9M417.1 607.2h0.9M413.0 609.6h0.9M425.8 624.0h0.9M420.7 615.9h0.9M419.1 612.3h0.9M418.7 612.6h0.9M419.0 613.0h0.9M424.6 611.1h0.9M415.3 616.1h0.9M420.9 605.3h0.9M424.8 601.8h0.9M425.1 617.7h0.9M419.2 602.9h0.9M421.9 600.7h0.9M428.0 586.0h0.9M422.5 607.1h0.9M416.0 617.7h0.9M418.9 616.0h0.9M419.9 607.7h0.9M422.8 622.0h0.9M425.9 611.2h0.9M428.4 607.8h0.9M417.4 589.4h0.9M416.0 600.7h0.9M413.3 614.0h0.9M421.7 610.6h0.9M422.7 609.9h0.9M420.7 607.3h0.9M422.8 598.3h0.9M425.6 628.9h0.9M416.3 620.8h0.9M413.7 617.2h0.9M417.2 622.1h0.9M421.0 621.8h0.9M423.6 617.2h0.9M418.7 628.9h0.9M422.6 616.6h0.9M428.1 608.7h0.9M428.1 624.0h0.9M423.3 594.7h0.9M427.2 608.0h0.9M421.8 612.4h0.9M425.1 618.5h0.9M414.1 602.9h0.9M422.9 613.1h0.9M424.4 617.7h0.9M429.4 603.5h0.9M426.9 615.9h0.9M422.1 618.9h0.9M419.3 619.0h0.9M419.9 619.1h0.9M417.0 624.0h0.9M415.5 603.0h0.9M421.1 613.7h0.9M418.4 606.2h0.9M421.6 623.0h0.9M427.7 606.2h0.9M421.5 607.5h0.9M415.3 605.4h0.9M427.9 596.3h0.9M433.1 623.2h0.9M429.0 613.8h0.9M410.9 615.1h0.9M429.1 605.2h0.9M426.3 620.1h0.9M424.2 619.8h0.9M423.4 618.6h0.9M426.3 616.3h0.9M423.9 616.1h0.9M423.0 601.3h0.9M414.7 598.9h0.9M417.6 593.8h0.9M424.9 607.6h0.9M425.4 606.1h0.9M423.4 608.9h0.9M420.7 634.7h0.9M427.3 626.1h0.9M421.0 631.3h0.9M424.3 621.4h0.9M417.0 603.6h0.9M422.5 608.6h0.9M421.3 588.2h0.9M418.4 609.5h0.9M424.0 599.0h0.9M419.1 631.5h0.9M424.2 588.9h0.9M420.7 611.0h0.9M426.9 613.7h0.9M427.2 615.3h0.9M425.3 626.8h0.9M428.1 613.9h0.9M416.0 612.8h0.9M424.4 603.3h0.9M425.3 609.6h0.9M424.8 613.5h0.9M416.4 622.6h0.9M429.4 622.3h0.9M424.5 591.6h0.9M423.0 610.8h0.9M420.0 589.0h0.9M422.5 622.3h0.9M412.8 614.3h0.9M420.0 627.2h0.9M422.4 600.1h0.9M420.8 616.0h0.9M419.1 601.8h0.9M421.8 621.1h0.9M420.0 616.5h0.9M419.7 607.0h0.9M421.4 622.1h0.9M428.6 610.3h0.9M421.5 633.6h0.9M425.6 607.3h0.9M424.8 595.1h0.9M413.1 601.6h0.9" stroke="#b0d870" stroke-opacity="0.3" stroke-width="0.9" fill="none"/>
<path d="M419.7 600.6h0.9M424.2 608.2h0.9M421.0 612.2h0.9M421.1 602.0h0.9M427.9 596.1h0.9M420.2 617.1h0.9M420.3 610.7h0.9M421.6 613.6h0.9M419.1 620.1h0.9M421.2 623.8h0.9M422.6 595.5h0.9M416.4 607.0h0.9M423.4 598.5h0.9M418.3 621.5h0.9M422.3 605.9h0.9M420.4 612.4h0.9M419.8 608.9h0.9M418.8 613.2h0.9M424.4 623.7h0.9M415.5 629.9h0.9M421.5 600.2h0.9M416.4 612.3h0.9M422.0 606.5h0.9M418.7 609.6h0.9M421.1 617.1h0.9M424.2 592.5h0.9M418.9 613.5h0.9M421.3 618.1h0.9M415.4 623.8h0.9M417.5 609.6h0.9M419.8 607.6h0.9M418.0 617.9h0.9M422.9 614.6h0.9M417.6 606.2h0.9M420.4 614.8h0.9M419.4 609.2h0.9M428.4 612.7h0.9M421.8 591.7h0.9M417.5 624.5h0.9M424.2 602.2h0.9M423.0 613.1h0.9M418.0 617.8h0.9M419.3 609.0h0.9M420.8 613.3h0.9M419.4 613.8h0.9M420.7 613.1h0.9M422.4 606.5h0.9M416.9 610.6h0.9M424.2 614.5h0.9M422.0 605.6h0.9M418.4 601.2h0.9M418.5 608.3h0.9M416.5 610.2h0.9M415.8 616.4h0.9M422.1 597.4h0.9M419.1 613.3h0.9M421.4 617.9h0.9M419.9 610.3h0.9M419.8 615.9h0.9M419.0 610.1h0.9M421.5 608.8h0.9M416.7 622.2h0.9M423.0 604.3h0.9M427.1 605.9h0.9M418.6 608.4h0.9M421.3 623.8h0.9M424.4 616.4h0.9M420.6 616.9h0.9M419.1 605.7h0.9M422.2 613.3h0.9M422.3 603.4h0.9M422.6 600.0h0.9M423.5 611.9h0.9M419.3 607.6h0.9M417.8 622.4h0.9M411.6 619.9h0.9M420.7 613.6h0.9M419.0 600.8h0.9M421.9 608.0h0.9M421.5 620.2h0.9M420.1 615.9h0.9M421.2 613.5h0.9M419.2 613.4h0.9M422.1 612.3h0.9M420.6 599.7h0.9M416.6 623.9h0.9M423.6 614.2h0.9M421.8 610.4h0.9M422.1 619.5h0.9M419.9 614.0h0.9M424.8 599.1h0.9M418.6 606.7h0.9M417.8 607.7h0.9M418.7 608.2h0.9M423.1 602.2h0.9M420.1 622.7h0.9M422.3 601.8h0.9M418.3 620.8h0.9M420.6 606.4h0.9M423.6 606.0h0.9M417.2 616.2h0.9M421.4 606.3h0.9M421.4 620.6h0.9M423.9 612.7h0.9M421.8 615.7h0.9M415.4 624.6h0.9M419.4 606.9h0.9M419.2 603.6h0.9M424.0 611.9h0.9M420.5 596.7h0.9M421.4 611.2h0.9M418.0 610.5h0.9M415.1 616.3h0.9M417.0 615.3h0.9M422.7 594.5h0.9M418.1 606.0h0.9M422.7 616.6h0.9M421.5 625.2h0.9M420.4 607.4h0.9M416.2 602.8h0.9M423.1 604.9h0.9M417.6 619.0h0.9M412.7 622.2h0.9M425.9 597.5h0.9M422.2 611.6h0.9M423.7 609.1h0.9M419.5 622.9h0.9M418.8 614.8h0.9M422.8 610.8h0.9M423.0 616.0h0.9M424.5 598.1h0.9M417.7 613.7h0.9M423.2 623.4h0.9M421.4 605.6h0.9M419.1 595.6h0.9M419.0 616.1h0.9M421.7 599.7h0.9M420.5 612.0h0.9M417.6 623.1h0.9M421.3 620.6h0.9M421.9 603.8h0.9M423.2 620.8h0.9M420.1 600.7h0.9M423.6 607.2h0.9M417.6 610.6h0.9M423.0 605.7h0.9M420.2 619.6h0.9M424.1 599.2h0.9M421.6 626.1h0.9M423.6 611.1h0.9M423.1 599.0h0.9M419.6 607.3h0.9M426.8 612.1h0.9M416.8 625.0h0.9M425.6 598.6h0.9M421.5 597.9h0.9M425.5 593.5h0.9M426.9 603.6h0.9M416.3 628.4h0.9M422.1 614.6h0.9M424.0 603.8h0.9M423.6 609.6h0.9M422.2 613.6h0.9M425.8 601.6h0.9M416.4 616.5h0.9M427.2 616.6h0.9M419.9 617.0h0.9M417.3 612.0h0.9M416.0 612.1h0.9M421.7 625.5h0.9M418.7 619.0h0.9M425.5 603.5h0.9M421.4 596.5h0.9M418.0 614.9h0.9M415.3 608.7h0.9M421.9 623.4h0.9M413.4 614.1h0.9M420.8 592.8h0.9M417.5 616.1h0.9M420.3 617.3h0.9M419.5 616.8h0.9M418.8 603.4h0.9M421.7 597.4h0.9M424.6 609.9h0.9M418.7 604.3h0.9M418.0 612.3h0.9M419.2 618.5h0.9M417.6 610.7h0.9M416.9 607.4h0.9M424.8 611.0h0.9M423.4 611.3h0.9M418.4 604.2h0.9M417.4 614.1h0.9M419.4 635.4h0.9M425.0 618.9h0.9M418.0 612.3h0.9M416.5 630.4h0.9M417.9 620.9h0.9M416.4 617.4h0.9M417.7 607.5h0.9M421.2 612.8h0.9M420.7 611.0h0.9M418.5 610.5h0.9M421.3 604.0h0.9M422.3 613.2h0.9M417.7 622.0h0.9M420.6 596.0h0.9M424.7 608.9h0.9M424.7 615.5h0.9M417.5 620.4h0.9M421.5 619.2h0.9M419.8 624.3h0.9M423.7 609.1h0.9M416.6 610.8h0.9M421.8 603.6h0.9M419.2 623.7h0.9M418.7 620.6h0.9M418.9 603.4h0.9M423.6 610.4h0.9M420.7 620.0h0.9M426.4 601.9h0.9M422.3 613.6h0.9M419.9 626.2h0.9M420.6 606.7h0.9M423.8 595.2h0.9M422.5 604.4h0.9M422.3 605.6h0.9M422.5 609.7h0.9M418.4 615.8h0.9M424.2 598.7h0.9M417.3 609.1h0.9M418.8 622.3h0.9M425.0 615.9h0.9M424.2 609.2h0.9M416.7 613.7h0.9M414.6 624.4h0.9M420.7 621.1h0.9M420.2 598.3h0.9M419.9 615.5h0.9M420.6 607.4h0.9M421.2 610.0h0.9M425.8 601.3h0.9M414.6 610.2h0.9M422.7 599.1h0.9M420.4 615.2h0.9M421.6 614.1h0.9M419.7 599.6h0.9M423.8 609.0h0.9M415.8 623.9h0.9M425.0 588.9h0.9M428.1 613.4h0.9M415.5 618.9h0.9M420.9 621.8h0.9M422.1 598.0h0.9M420.7 608.0h0.9M421.8 610.1h0.9M423.3 601.8h0.9M419.6 607.2h0.9M423.3 597.7h0.9M419.1 631.0h0.9M414.9 619.5h0.9M420.4 619.7h0.9M420.8 613.7h0.9M421.5 615.4h0.9M417.5 610.2h0.9M425.0 623.6h0.9M419.1 603.6h0.9M419.6 620.2h0.9M423.9 607.0h0.9M414.1 610.6h0.9M415.2 620.9h0.9M424.6 617.4h0.9M422.1 616.3h0.9M425.3 620.9h0.9M425.8 602.5h0.9M419.3 611.4h0.9M414.7 608.6h0.9M420.8 611.0h0.9M428.2 610.5h0.9M420.3 610.5h0.9M420.9 599.9h0.9M424.0 612.0h0.9M421.8 611.9h0.9M419.8 598.3h0.9M419.6 615.8h0.9M419.9 617.5h0.9M418.8 608.9h0.9M421.3 610.8h0.9M420.3 623.3h0.9M419.5 612.5h0.9M418.6 615.8h0.9M422.0 605.6h0.9M418.8 601.5h0.9M419.9 612.7h0.9M419.5 610.5h0.9M419.5 630.8h0.9M422.5 630.8h0.9M421.0 613.3h0.9M426.1 615.2h0.9M423.1 607.6h0.9M418.7 617.8h0.9M419.6 606.0h0.9M416.3 613.6h0.9M420.1 616.0h0.9M419.2 601.2h0.9M424.0 612.0h0.9M423.9 602.4h0.9M419.0 590.5h0.9M420.9 619.7h0.9M423.3 626.4h0.9M416.4 602.1h0.9M419.9 604.9h0.9M420.8 604.9h0.9M416.6 610.8h0.9M421.7 605.3h0.9M421.9 600.9h0.9M420.1 608.7h0.9M419.6 610.8h0.9M418.2 600.2h0.9M417.9 617.3h0.9M418.8 603.6h0.9M426.7 609.9h0.9M420.4 604.2h0.9M424.6 616.2h0.9M420.4 624.6h0.9M418.6 597.5h0.9M423.7 615.3h0.9M418.7 617.9h0.9M419.1 627.5h0.9M416.9 614.1h0.9M423.0 619.0h0.9M420.1 608.2h0.9M419.0 617.0h0.9M419.7 610.3h0.9M423.8 610.9h0.9M421.6 610.6h0.9M422.5 593.4h0.9M417.8 614.3h0.9M419.4 606.3h0.9M419.3 630.3h0.9M419.3 603.5h0.9M415.3 614.8h0.9M421.3 604.6h0.9M418.9 619.4h0.9M423.5 614.8h0.9M423.4 620.1h0.9M418.9 617.9h0.9M420.7 617.8h0.9M420.0 629.1h0.9M416.9 614.2h0.9M416.0 630.2h0.9M419.6 608.4h0.9M420.8 611.1h0.9M425.7 611.5h0.9M420.7 620.3h0.9M425.8 604.0h0.9M422.7 600.7h0.9M421.2 623.2h0.9M419.5 609.1h0.9M423.9 615.4h0.9M423.5 608.0h0.9M420.2 608.4h0.9M426.4 599.7h0.9M418.2 624.2h0.9M421.4 602.5h0.9M421.6 609.8h0.9M420.1 615.6h0.9M424.2 599.4h0.9M420.3 623.9h0.9M417.0 610.4h0.9M417.0 616.7h0.9M418.6 608.5h0.9M419.3 615.1h0.9M418.1 599.7h0.9M420.3 622.7h0.9M419.0 614.8h0.9M421.5 612.5h0.9M421.1 607.0h0.9M419.2 621.3h0.9M421.1 622.2h0.9M418.6 612.3h0.9M419.9 600.4h0.9M423.6 609.4h0.9M422.5 599.9h0.9M420.2 610.4h0.9M418.9 619.8h0.9M422.0 612.7h0.9M421.8 607.9h0.9M419.0 609.0h0.9M418.0 609.8h0.9M419.6 620.8h0.9M417.7 631.4h0.9M419.2 612.5h0.9M421.2 606.4h0.9M421.9 596.9h0.9M424.4 607.0h0.9M422.1 596.5h0.9M423.4 601.0h0.9M425.5 603.2h0.9M418.2 616.8h0.9M425.9 595.5h0.9M414.7 624.4h0.9M423.2 599.0h0.9M419.0 617.2h0.9M418.5 623.9h0.9M418.6 612.7h0.9M423.0 624.1h0.9M421.0 616.4h0.9M419.9 610.9h0.9M418.8 614.6h0.9M424.0 603.4h0.9M417.4 611.6h0.9M426.3 613.9h0.9M421.2 611.2h0.9M416.5 605.2h0.9M426.7 594.4h0.9M426.8 602.0h0.9M424.7 633.8h0.9M425.2 610.7h0.9M422.9 607.1h0.9M419.3 613.1h0.9M411.3 615.3h0.9M420.7 602.4h0.9M419.5 616.8h0.9M418.3 614.3h0.9M416.9 611.9h0.9M416.9 617.6h0.9M417.3 616.3h0.9M414.9 612.4h0.9M424.5 604.9h0.9M421.6 604.3h0.9M421.6 617.9h0.9M423.1 622.8h0.9M425.1 605.7h0.9M420.7 615.9h0.9M422.3 600.6h0.9M424.7 633.2h0.9M422.9 589.8h0.9M426.1 610.4h0.9M428.0 603.3h0.9M421.7 618.2h0.9M416.9 608.3h0.9M421.7 617.1h0.9M423.9 589.7h0.9M413.7 613.9h0.9M426.5 599.0h0.9M421.2 619.3h0.9M419.2 598.0h0.9M421.9 607.8h0.9M420.7 609.7h0.9M420.2 614.0h0.9M419.3 611.1h0.9M419.8 604.0h0.9M422.4 604.6h0.9M422.3 611.4h0.9M423.4 616.7h0.9M415.1 610.7h0.9M422.6 612.6h0.9M420.1 620.5h0.9M423.7 600.4h0.9M420.3 619.9h0.9M422.2 600.8h0.9M422.5 616.7h0.9M423.9 613.2h0.9M420.5 618.6h0.9M416.3 625.6h0.9M421.8 613.4h0.9M422.3 618.3h0.9M413.8 618.7h0.9M421.1 604.8h0.9M422.6 619.6h0.9M422.3 606.3h0.9M421.8 603.5h0.9M428.5 606.6h0.9M422.0 625.4h0.9M418.7 606.8h0.9M414.5 608.8h0.9M416.9 612.4h0.9M420.1 611.5h0.9M421.2 607.5h0.9M421.1 610.9h0.9M419.0 608.6h0.9M420.1 600.5h0.9M422.1 595.8h0.9M422.3 611.3h0.9M420.4 621.2h0.9M423.8 608.0h0.9M420.9 621.5h0.9M420.0 614.6h0.9M422.8 602.9h0.9M421.9 608.3h0.9M419.7 615.0h0.9M423.3 604.1h0.9M420.2 609.7h0.9M417.8 614.3h0.9M420.7 605.5h0.9M423.5 611.0h0.9M417.5 610.4h0.9M420.0 613.9h0.9M426.8 616.6h0.9M425.0 610.4h0.9M421.7 615.7h0.9M420.3 613.5h0.9M419.0 617.2h0.9M416.9 625.6h0.9M411.2 598.9h0.9M420.1 614.5h0.9M422.4 597.9h0.9M422.7 604.2h0.9M421.7 608.0h0.9M421.1 598.6h0.9M417.4 606.5h0.9M417.5 613.2h0.9M416.6 612.9h0.9M422.9 605.3h0.9M418.3 608.3h0.9M422.0 623.3h0.9M426.9 612.8h0.9M422.4 613.2h0.9M421.5 602.5h0.9M418.9 620.7h0.9M425.2 606.7h0.9M414.7 626.9h0.9M420.5 615.3h0.9M421.6 596.3h0.9M422.4 603.4h0.9M420.4 606.1h0.9M418.2 631.5h0.9M426.6 595.5h0.9M416.7 606.8h0.9M418.3 617.8h0.9M425.8 605.7h0.9M422.6 609.8h0.9M414.2 620.8h0.9M426.4 605.0h0.9M423.0 607.3h0.9M420.8 607.6h0.9M420.3 611.8h0.9M418.8 613.6h0.9M416.4 618.0h0.9M419.4 595.6h0.9M423.4 608.8h0.9M418.5 619.0h0.9M419.2 627.8h0.9M423.1 599.6h0.9M419.8 605.7h0.9M418.7 625.5h0.9M427.2 626.5h0.9M421.6 616.2h0.9M422.9 592.9h0.9M423.2 628.5h0.9M419.3 611.1h0.9M418.9 609.6h0.9M419.1 601.7h0.9M425.7 595.4h0.9M424.6 602.1h0.9M421.6 594.5h0.9M423.4 603.2h0.9M428.6 604.3h0.9M421.0 617.1h0.9M418.6 604.3h0.9M417.3 615.9h0.9M420.8 620.1h0.9M417.3 603.3h0.9M420.8 607.7h0.9M420.8 621.0h0.9M421.7 604.8h0.9M421.2 605.4h0.9M417.5 626.9h0.9M421.3 627.0h0.9M420.2 610.8h0.9M417.0 613.1h0.9M422.3 617.5h0.9M417.4 612.1h0.9M423.8 607.8h0.9M423.2 607.4h0.9M421.2 606.6h0.9M417.2 604.1h0.9M421.5 609.1h0.9M421.2 606.6h0.9M423.4 610.2h0.9M422.3 607.6h0.9M424.6 610.9h0.9M420.3 630.1h0.9M423.2 598.5h0.9M418.6 614.0h0.9M418.1 598.7h0.9M421.6 598.2h0.9M423.6 615.4h0.9M419.0 621.5h0.9M419.7 601.3h0.9M423.3 611.9h0.9M419.3 620.1h0.9M419.9 616.9h0.9M420.5 621.2h0.9M422.7 607.7h0.9M425.4 608.9h0.9M426.7 601.2h0.9M422.6 592.7h0.9M421.2 622.9h0.9M419.3 615.3h0.9M419.0 623.5h0.9M421.5 614.5h0.9M425.1 599.0h0.9M422.7 612.8h0.9M424.5 612.0h0.9M422.6 611.2h0.9M418.3 607.0h0.9M421.3 600.3h0.9M421.0 607.5h0.9M426.2 609.9h0.9M421.1 612.3h0.9M424.0 598.1h0.9M414.6 624.3h0.9M419.1 603.8h0.9M423.9 614.3h0.9M417.9 617.5h0.9M416.3 624.8h0.9M419.6 614.2h0.9M419.3 627.6h0.9M418.1 610.4h0.9M428.5 594.9h0.9M419.2 613.7h0.9M419.8 615.2h0.9M425.0 602.3h0.9M417.9 622.4h0.9M428.4 589.5h0.9M421.6 620.0h0.9M419.5 604.0h0.9M417.7 609.5h0.9M417.0 617.1h0.9M418.4 615.7h0.9M415.6 618.5h0.9M422.0 619.6h0.9M419.8 630.9h0.9M423.5 612.2h0.9M425.7 608.9h0.9M420.0 625.3h0.9M419.5 611.3h0.9M421.4 613.1h0.9M419.4 619.9h0.9M427.3 608.8h0.9M416.9 607.2h0.9M417.8 600.5h0.9M417.0 620.1h0.9M420.7 617.5h0.9M419.7 620.0h0.9M418.6 622.3h0.9M423.2 613.6h0.9M417.4 601.9h0.9M422.3 602.8h0.9M420.4 610.1h0.9M425.3 606.1h0.9M421.5 607.7h0.9M418.3 615.0h0.9M424.7 599.8h0.9M423.4 630.6h0.9M420.8 615.9h0.9M418.1 607.8h0.9M421.7 610.8h0.9M425.4 604.5h0.9M419.7 615.9h0.9M420.8 609.4h0.9M420.2 614.9h0.9M413.3 632.8h0.9M423.7 602.9h0.9M419.1 601.8h0.9M423.5 596.1h0.9M428.2 607.5h0.9M415.2 628.4h0.9M420.4 615.7h0.9M420.5 609.3h0.9M428.2 595.5h0.9M422.1 605.4h0.9M419.9 610.9h0.9M415.1 616.2h0.9M421.0 616.2h0.9M418.5 617.6h0.9M418.9 617.9h0.9M424.2 617.1h0.9M416.6 611.8h0.9M416.4 627.5h0.9M422.3 600.9h0.9M415.5 622.2h0.9M417.6 614.7h0.9M420.0 610.2h0.9M419.5 611.5h0.9M426.1 604.6h0.9M421.9 615.7h0.9M419.7 602.2h0.9M417.8 616.1h0.9M420.5 620.1h0.9M421.8 612.6h0.9M420.7 613.5h0.9M420.4 617.1h0.9M417.5 620.3h0.9M425.5 611.2h0.9M423.3 601.8h0.9M422.2 599.6h0.9M423.6 612.2h0.9M423.0 621.2h0.9M418.1 618.1h0.9M423.6 630.4h0.9M420.1 616.0h0.9M418.5 616.7h0.9M421.4 623.8h0.9M420.3 612.0h0.9M422.4 610.3h0.9M428.4 593.6h0.9M416.3 606.9h0.9M422.8 611.9h0.9M423.2 599.0h0.9M422.1 616.2h0.9M424.9 618.8h0.9M419.6 605.2h0.9M417.9 607.2h0.9M419.6 621.9h0.9M425.5 612.6h0.9M422.6 610.3h0.9M416.7 615.6h0.9M419.9 598.0h0.9M417.3 623.7h0.9M416.5 622.6h0.9M417.0 610.6h0.9M422.6 608.4h0.9M418.0 611.3h0.9M425.1 617.5h0.9M421.0 616.4h0.9M423.2 622.9h0.9M420.7 604.2h0.9M417.9 611.8h0.9M420.0 611.5h0.9M417.2 632.1h0.9M417.7 623.2h0.9M418.9 604.8h0.9M418.3 602.2h0.9M416.7 604.3h0.9M419.6 617.3h0.9M415.4 614.7h0.9M420.5 611.5h0.9M414.3 615.0h0.9M421.9 621.2h0.9M419.1 621.8h0.9M421.7 604.0h0.9M421.6 619.8h0.9M421.5 611.4h0.9M419.6 617.0h0.9M415.4 613.6h0.9M417.5 606.9h0.9M420.5 621.9h0.9M421.5 603.9h0.9M428.4 614.9h0.9M413.1 610.1h0.9M419.2 606.4h0.9M422.2 629.5h0.9M422.1 600.5h0.9M423.2 612.5h0.9M419.5 613.1h0.9M417.3 612.9h0.9M420.9 621.5h0.9M427.1 606.9h0.9M422.5 605.1h0.9M420.3 621.1h0.9M422.9 609.3h0.9M425.3 619.4h0.9M424.3 612.6h0.9M424.8 610.7h0.9M423.3 612.1h0.9M422.0 598.7h0.9M423.2 616.6h0.9M419.0 611.9h0.9M422.1 617.0h0.9M413.7 623.3h0.9M416.4 627.1h0.9M424.0 613.0h0.9M421.2 614.0h0.9M418.5 624.0h0.9M419.3 607.0h0.9M421.3 598.4h0.9M424.7 602.1h0.9M424.5 619.8h0.9M427.1 607.2h0.9M420.3 607.8h0.9M423.8 604.4h0.9M421.6 592.3h0.9M420.8 613.3h0.9M427.2 605.1h0.9M423.2 616.6h0.9M424.2 602.6h0.9M411.0 606.6h0.9M423.5 613.2h0.9M423.4 629.9h0.9M419.1 608.0h0.9M426.5 598.1h0.9M413.3 613.2h0.9M420.6 624.3h0.9M423.0 611.4h0.9M420.5 596.1h0.9M422.8 606.6h0.9M419.5 614.2h0.9M414.9 610.3h0.9M417.5 628.0h0.9M419.6 621.0h0.9M419.1 598.1h0.9M423.7 608.9h0.9M416.1 620.2h0.9M423.6 597.3h0.9M418.6 628.2h0.9M422.2 600.2h0.9M417.3 623.0h0.9M424.7 617.7h0.9M415.8 618.1h0.9M418.8 607.1h0.9M418.5 620.5h0.9M421.9 616.6h0.9M419.9 607.1h0.9M424.5 606.7h0.9M419.6 616.2h0.9M419.5 619.8h0.9M422.0 617.1h0.9M428.1 607.6h0.9M428.0 601.3h0.9M420.4 590.3h0.9M419.4 604.6h0.9M422.0 622.4h0.9M428.1 607.7h0.9M424.1 610.3h0.9M418.5 575.8h0.9M421.3 595.0h0.9M424.1 603.9h0.9M423.3 606.0h0.9M423.0 603.6h0.9M420.6 627.1h0.9M423.0 600.0h0.9M418.4 612.5h0.9M424.2 601.2h0.9M419.4 597.5h0.9M425.8 614.5h0.9M422.1 607.9h0.9M426.1 617.0h0.9M419.6 621.9h0.9M422.8 609.3h0.9M419.7 611.5h0.9M426.0 599.8h0.9M415.4 616.9h0.9M422.8 624.3h0.9M423.7 598.9h0.9M423.1 613.2h0.9M419.1 597.6h0.9M416.2 611.7h0.9M416.7 614.2h0.9M419.9 617.0h0.9M424.1 603.9h0.9M419.1 617.8h0.9M418.1 620.1h0.9M421.9 619.4h0.9M418.4 618.1h0.9M420.0 613.4h0.9M423.1 606.9h0.9M422.5 591.1h0.9M418.3 616.7h0.9M419.3 593.1h0.9M416.8 608.6h0.9M422.4 616.3h0.9M416.3 614.6h0.9M416.4 620.6h0.9M422.5 606.2h0.9M419.5 610.7h0.9M418.2 621.4h0.9M422.2 606.7h0.9M423.2 599.8h0.9M421.5 608.7h0.9M419.2 610.9h0.9M422.6 599.0h0.9M423.6 606.6h0.9M420.6 625.9h0.9M416.4 625.5h0.9M418.3 627.7h0.9M417.6 620.3h0.9M418.2 622.2h0.9M423.2 614.7h0.9M417.6 620.3h0.9M422.8 602.3h0.9M422.6 610.2h0.9M421.2 603.0h0.9M420.8 619.0h0.9M417.7 618.2h0.9M415.4 612.0h0.9M422.3 603.3h0.9M422.3 600.2h0.9M426.0 615.4h0.9M424.7 603.8h0.9M414.3 610.2h0.9M424.8 610.5h0.9M423.9 615.3h0.9M421.0 620.7h0.9M419.4 607.8h0.9M423.6 615.7h0.9M420.1 602.0h0.9M427.6 584.0h0.9M423.6 610.4h0.9M416.8 614.7h0.9M420.4 631.3h0.9M423.6 589.8h0.9M417.5 617.8h0.9M419.5 610.9h0.9M419.5 623.8h0.9M421.9 610.2h0.9M418.2 620.0h0.9M418.5 614.9h0.9M421.4 618.0h0.9M422.9 614.1h0.9M425.9 618.8h0.9M419.4 603.5h0.9M417.8 622.8h0.9M416.5 624.7h0.9M422.5 606.5h0.9M418.1 610.4h0.9M423.0 611.0h0.9M422.7 613.1h0.9M425.1 607.6h0.9M421.3 601.7h0.9M420.7 602.8h0.9M416.7 609.2h0.9M424.5 592.3h0.9M418.3 599.1h0.9M421.4 616.4h0.9M421.9 610.0h0.9M418.5 612.9h0.9M418.5 609.3h0.9M422.1 609.4h0.9M425.9 593.0h0.9M415.5 619.7h0.9M419.6 607.3h0.9M419.3 610.8h0.9M420.1 614.6h0.9M422.0 627.7h0.9M414.9 610.0h0.9M418.2 613.1h0.9M417.9 611.8h0.9M421.6 611.2h0.9M421.0 617.2h0.9M417.9 610.8h0.9M423.0 619.8h0.9M424.2 604.6h0.9M418.2 619.8h0.9M420.6 614.0h0.9M419.1 619.3h0.9M422.1 603.0h0.9M422.1 608.6h0.9M419.6 616.3h0.9M421.7 606.6h0.9M417.9 607.3h0.9M421.4 601.2h0.9M417.3 631.4h0.9M419.0 611.9h0.9M417.6 608.4h0.9M421.4 612.9h0.9M416.0 611.4h0.9M417.2 620.6h0.9M419.3 625.1h0.9M422.7 601.5h0.9M423.9 607.5h0.9M420.4 612.3h0.9M416.3 621.2h0.9M422.0 602.6h0.9M416.6 615.1h0.9M423.9 615.3h0.9M422.0 608.0h0.9M423.5 616.4h0.9M419.0 606.0h0.9M413.9 620.9h0.9M429.3 611.2h0.9M421.4 618.2h0.9M418.5 629.8h0.9M418.6 604.0h0.9M424.6 619.8h0.9M423.0 610.8h0.9M420.6 612.7h0.9M422.5 606.4h0.9M422.4 626.7h0.9M420.1 603.2h0.9M419.2 632.7h0.9M417.1 622.8h0.9M419.5 604.9h0.9M424.0 610.3h0.9M420.1 617.6h0.9M423.8 613.8h0.9M425.7 606.1h0.9M418.8 617.3h0.9M424.0 596.8h0.9M419.4 617.4h0.9M419.0 626.9h0.9M416.2 612.9h0.9M419.7 597.7h0.9M420.2 610.9h0.9M420.1 606.0h0.9M424.0 602.8h0.9M420.1 599.4h0.9M425.2 599.3h0.9M426.4 604.1h0.9M419.4 625.5h0.9M416.8 622.6h0.9M417.5 607.3h0.9M422.1 614.6h0.9M421.5 614.4h0.9M426.5 598.2h0.9M418.2 618.9h0.9M417.2 605.3h0.9M426.6 623.7h0.9M422.2 612.4h0.9M421.0 604.0h0.9M419.1 603.0h0.9M417.1 612.4h0.9M422.7 603.7h0.9M422.2 600.3h0.9M422.1 608.9h0.9M420.5 613.3h0.9M424.3 613.7h0.9M418.8 612.8h0.9M421.5 616.3h0.9M424.4 604.9h0.9M416.9 616.7h0.9M417.3 615.2h0.9M427.5 623.0h0.9M417.3 604.2h0.9M422.1 609.3h0.9M422.6 613.9h0.9M421.3 616.5h0.9M415.5 621.0h0.9M417.5 603.7h0.9M414.0 611.0h0.9M422.2 608.5h0.9M419.1 592.7h0.9M423.3 601.9h0.9M419.6 613.6h0.9M420.3 615.1h0.9M424.9 618.2h0.9M418.0 611.0h0.9M420.8 604.2h0.9M422.9 608.5h0.9M421.0 617.2h0.9M427.2 607.0h0.9M421.2 630.3h0.9M425.1 614.7h0.9M418.6 612.9h0.9M419.4 607.9h0.9M416.1 608.8h0.9M414.4 619.6h0.9M422.6 608.3h0.9M420.8 612.7h0.9M419.9 614.1h0.9M419.9 615.5h0.9M418.4 612.1h0.9M426.2 605.2h0.9M417.8 619.6h0.9M421.6 613.1h0.9M421.6 608.3h0.9M418.9 616.0h0.9M420.8 617.3h0.9M420.3 631.0h0.9M420.0 623.8h0.9M419.5 631.1h0.9M424.2 605.5h0.9M425.7 607.3h0.9M424.3 605.5h0.9M421.7 613.2h0.9M426.5 593.7h0.9M414.6 619.7h0.9M423.3 607.6h0.9M422.4 596.8h0.9M420.2 606.0h0.9M423.1 614.2h0.9M419.5 621.7h0.9M418.4 618.2h0.9M419.8 615.7h0.9M418.9 623.8h0.9M418.0 629.0h0.9M423.7 604.9h0.9M418.5 623.2h0.9M425.9 601.8h0.9M420.8 617.2h0.9M427.1 618.2h0.9M419.5 619.8h0.9M421.7 604.5h0.9M420.8 610.0h0.9M420.1 612.5h0.9M422.4 605.3h0.9M423.9 598.6h0.9M422.3 616.3h0.9M423.2 599.2h0.9M419.2 613.5h0.9M421.5 618.5h0.9M416.4 611.7h0.9M424.8 602.3h0.9M417.7 607.6h0.9M420.2 609.6h0.9M424.1 614.7h0.9M414.7 618.2h0.9M420.4 619.3h0.9M419.6 623.8h0.9M421.6 607.9h0.9M416.6 619.6h0.9M421.7 597.0h0.9M422.2 623.3h0.9M414.4 616.3h0.9M421.3 626.9h0.9M424.9 606.0h0.9M421.5 618.5h0.9M415.5 624.0h0.9M421.6 619.4h0.9M417.6 618.9h0.9M420.9 609.4h0.9M420.6 615.0h0.9M416.4 611.7h0.9M423.1 598.3h0.9M423.7 634.5h0.9M422.7 612.2h0.9M418.7 602.3h0.9M416.6 619.3h0.9M418.1 613.5h0.9M418.8 619.6h0.9M423.7 620.3h0.9M421.8 621.4h0.9M426.3 605.1h0.9M422.0 606.6h0.9M421.1 610.2h0.9M420.6 618.2h0.9M419.1 589.6h0.9M420.7 621.3h0.9M418.5 624.6h0.9M427.2 613.3h0.9M419.8 616.5h0.9M424.1 599.6h0.9M423.8 594.7h0.9M417.5 613.8h0.9M422.6 602.0h0.9M419.9 623.2h0.9M415.6 616.5h0.9M425.4 601.0h0.9M423.8 616.3h0.9M419.9 612.3h0.9M420.6 612.5h0.9M420.7 605.8h0.9M422.0 627.0h0.9M419.1 624.3h0.9M419.5 601.0h0.9M422.4 614.4h0.9M422.8 604.1h0.9M418.8 620.8h0.9M425.1 614.8h0.9M423.9 589.8h0.9M417.9 623.2h0.9M426.9 605.6h0.9M413.1 615.9h0.9M417.3 608.3h0.9M419.3 608.9h0.9M417.5 617.6h0.9M422.6 601.0h0.9M414.6 629.6h0.9M422.2 614.2h0.9M414.2 630.3h0.9M417.7 613.0h0.9M422.3 606.1h0.9M421.5 608.3h0.9M415.9 599.8h0.9M419.4 607.5h0.9M420.7 626.5h0.9M418.4 630.9h0.9M419.4 613.1h0.9M421.4 597.7h0.9M420.7 610.4h0.9M417.8 618.4h0.9M422.1 609.7h0.9M418.0 614.6h0.9M419.1 604.7h0.9M418.6 620.2h0.9M420.0 610.8h0.9M419.3 617.3h0.9M419.6 619.3h0.9M419.6 619.4h0.9M420.4 605.8h0.9M422.0 610.6h0.9M418.3 624.5h0.9M419.9 605.4h0.9M418.6 624.5h0.9M416.0 621.9h0.9M422.5 609.0h0.9M420.3 605.9h0.9M415.6 603.8h0.9M417.9 598.2h0.9M419.0 617.2h0.9M418.3 609.2h0.9M418.6 610.3h0.9M420.9 622.8h0.9M422.1 615.6h0.9M424.0 618.8h0.9M421.6 617.3h0.9M423.8 603.7h0.9M418.1 612.8h0.9M415.8 609.5h0.9M419.4 614.9h0.9M421.6 623.7h0.9M413.7 613.5h0.9M420.5 624.7h0.9M418.5 615.7h0.9M420.9 604.2h0.9M420.6 620.6h0.9M419.5 613.0h0.9M423.9 611.0h0.9M419.5 614.8h0.9M421.6 615.9h0.9M423.8 616.4h0.9M418.5 598.1h0.9M419.0 626.7h0.9M421.0 608.6h0.9M421.0 616.9h0.9M425.1 601.6h0.9M422.6 614.1h0.9M422.1 621.8h0.9M413.5 619.7h0.9M422.6 605.7h0.9M419.4 621.3h0.9M415.6 619.5h0.9M421.5 627.6h0.9M418.7 606.8h0.9M423.7 610.1h0.9M423.8 590.0h0.9M428.8 596.9h0.9M415.5 616.2h0.9M422.6 605.5h0.9M413.9 616.5h0.9M421.9 604.5h0.9M421.4 607.4h0.9M417.1 618.1h0.9M420.5 612.6h0.9M417.6 605.9h0.9M420.2 607.1h0.9M421.5 612.7h0.9M420.1 610.8h0.9M420.9 621.1h0.9M416.8 620.3h0.9M422.5 619.3h0.9M418.8 614.0h0.9M427.6 601.4h0.9M423.1 610.3h0.9M425.2 613.9h0.9M423.5 607.1h0.9M417.9 626.0h0.9M417.4 607.5h0.9M420.8 601.5h0.9M423.3 601.9h0.9M420.9 610.3h0.9M414.2 613.0h0.9M416.1 612.1h0.9M414.3 607.1h0.9M422.7 614.9h0.9M422.5 626.6h0.9M422.8 610.8h0.9M419.7 617.7h0.9M417.8 603.0h0.9M419.2 627.3h0.9M417.2 614.2h0.9M418.0 618.3h0.9M421.6 612.1h0.9M423.3 610.3h0.9M414.2 630.0h0.9M420.0 614.9h0.9M423.4 605.4h0.9M419.8 605.6h0.9M421.9 615.9h0.9M422.1 601.0h0.9M419.3 599.6h0.9M417.3 605.5h0.9M421.0 616.6h0.9M414.9 617.3h0.9M420.3 626.1h0.9M424.2 599.5h0.9M421.8 614.4h0.9M422.1 606.0h0.9M424.6 613.5h0.9M420.3 596.4h0.9M420.9 600.3h0.9M415.1 626.0h0.9M419.6 620.7h0.9M423.1 618.9h0.9M420.3 602.0h0.9M420.0 613.3h0.9M420.4 609.6h0.9M422.1 599.8h0.9M424.5 602.3h0.9M421.6 604.7h0.9M424.9 607.7h0.9M418.2 608.8h0.9M424.0 601.7h0.9M417.3 607.3h0.9M425.0 586.9h0.9M421.4 632.1h0.9M419.3 620.3h0.9M421.7 596.0h0.9" stroke="#6cb63a" stroke-opacity="0.5" stroke-width="0.9" fill="none"/>
<path d="M419.4 616.2h0.9M418.8 610.5h0.9M419.1 614.8h0.9M424.1 613.3h0.9M417.5 622.6h0.9M420.1 609.9h0.9M420.7 617.3h0.9M420.5 614.7h0.9M421.3 605.1h0.9M421.1 618.0h0.9M420.1 601.6h0.9M419.3 613.5h0.9M422.4 614.1h0.9M415.7 608.2h0.9M420.3 614.0h0.9M418.2 610.1h0.9M420.2 616.8h0.9M420.7 622.8h0.9M419.6 609.7h0.9M419.4 615.5h0.9M423.3 613.9h0.9M421.1 606.8h0.9M417.4 623.3h0.9M419.4 621.2h0.9M421.9 609.5h0.9M421.3 606.9h0.9M421.4 611.6h0.9M420.9 620.3h0.9M419.0 617.4h0.9M421.3 609.3h0.9M420.1 620.2h0.9M420.1 618.5h0.9M420.2 620.4h0.9M420.4 610.4h0.9M422.6 598.4h0.9M418.7 621.9h0.9M418.2 623.8h0.9M423.1 609.6h0.9M419.0 614.8h0.9M420.8 623.4h0.9M423.1 608.3h0.9M422.0 609.5h0.9M421.8 615.5h0.9M422.6 612.1h0.9M422.4 604.7h0.9M418.6 615.5h0.9M420.0 617.9h0.9M424.3 608.9h0.9M419.2 605.7h0.9M418.8 619.6h0.9M421.1 610.7h0.9M421.5 611.5h0.9M420.8 612.4h0.9M417.8 617.3h0.9M419.4 626.3h0.9M420.9 608.8h0.9M421.1 608.0h0.9M420.5 610.1h0.9M421.4 606.8h0.9M420.5 609.9h0.9M418.9 611.9h0.9M421.1 617.1h0.9M420.9 611.8h0.9M422.0 610.8h0.9M422.4 601.8h0.9M419.0 607.7h0.9M422.3 610.9h0.9M421.7 605.7h0.9M416.5 629.6h0.9M422.0 623.6h0.9M420.8 608.3h0.9M420.9 610.9h0.9M421.1 596.9h0.9M422.0 598.7h0.9M420.5 602.8h0.9M424.2 604.7h0.9M419.6 614.7h0.9M419.8 613.9h0.9M422.2 608.6h0.9M421.3 611.7h0.9M418.2 614.0h0.9M418.2 618.7h0.9M420.3 613.5h0.9M422.4 607.3h0.9M418.4 621.2h0.9M421.3 615.2h0.9M417.3 612.2h0.9M419.3 608.5h0.9M418.8 601.9h0.9M419.5 614.7h0.9M419.7 611.2h0.9M419.8 620.8h0.9M419.4 613.1h0.9M424.8 612.5h0.9M422.4 605.0h0.9M419.0 609.4h0.9M425.6 608.9h0.9M422.9 609.4h0.9M419.5 600.4h0.9M420.1 618.9h0.9M419.4 609.7h0.9M419.1 607.6h0.9M422.4 609.1h0.9M418.4 616.0h0.9M420.9 612.1h0.9M423.5 614.5h0.9M423.0 604.7h0.9M419.6 620.2h0.9M421.1 618.1h0.9M418.3 610.3h0.9M422.3 621.7h0.9M416.6 600.0h0.9M422.2 617.5h0.9M424.1 595.0h0.9M420.1 617.3h0.9M423.0 606.4h0.9M421.7 617.4h0.9M418.7 622.2h0.9M422.0 618.1h0.9M419.6 614.0h0.9M419.5 622.7h0.9M424.9 607.3h0.9M423.4 615.3h0.9M419.8 607.6h0.9M422.8 614.5h0.9M419.5 611.0h0.9M419.9 611.4h0.9M423.8 608.3h0.9M421.7 593.2h0.9M420.7 618.3h0.9M424.1 608.7h0.9M420.2 609.7h0.9M418.5 612.1h0.9M419.3 610.7h0.9M420.3 617.0h0.9M419.2 627.3h0.9M420.7 615.6h0.9M421.4 611.7h0.9M421.9 613.4h0.9M418.6 608.8h0.9M423.8 602.4h0.9M423.3 613.2h0.9M420.2 620.1h0.9M421.1 609.3h0.9M417.3 608.1h0.9M418.2 616.4h0.9M421.2 606.4h0.9M421.9 618.0h0.9M423.9 614.2h0.9M418.4 612.7h0.9M421.2 617.9h0.9M418.1 615.0h0.9M421.4 614.8h0.9M418.1 609.1h0.9M420.4 610.8h0.9M422.2 609.9h0.9M418.7 598.7h0.9M421.7 607.2h0.9M419.8 619.1h0.9M419.6 611.9h0.9M418.8 604.5h0.9M420.8 619.5h0.9M419.5 610.9h0.9M421.3 609.5h0.9M420.8 609.7h0.9M421.8 609.1h0.9M420.5 603.6h0.9M420.1 602.8h0.9M419.7 618.4h0.9M418.9 606.6h0.9M419.0 614.9h0.9M420.2 610.1h0.9M419.1 610.3h0.9M420.4 607.1h0.9M422.5 615.4h0.9M420.1 614.1h0.9M423.9 616.3h0.9M419.6 611.9h0.9M422.1 615.2h0.9M420.0 612.7h0.9M418.8 610.0h0.9M420.0 610.6h0.9M422.7 612.5h0.9M422.4 612.3h0.9M417.4 619.4h0.9M419.7 611.3h0.9M421.5 620.9h0.9M420.0 620.0h0.9M419.3 616.0h0.9M418.5 618.0h0.9M419.2 616.1h0.9M417.7 620.8h0.9M423.3 610.7h0.9M421.1 606.2h0.9M421.0 603.1h0.9M421.7 611.8h0.9M422.4 612.3h0.9M420.6 606.9h0.9M421.6 611.4h0.9M419.4 602.7h0.9M422.1 611.6h0.9M420.7 608.7h0.9M419.6 611.9h0.9M421.5 604.7h0.9M424.0 618.1h0.9M417.3 612.2h0.9M422.7 608.2h0.9M418.0 615.2h0.9M419.5 612.0h0.9M423.2 612.3h0.9M423.1 607.5h0.9M417.7 609.4h0.9M419.5 616.2h0.9M422.3 600.0h0.9M418.9 609.2h0.9M419.7 608.0h0.9M419.9 613.0h0.9M418.6 606.1h0.9M418.3 619.3h0.9M421.0 602.9h0.9M420.8 617.8h0.9M418.5 604.3h0.9M421.2 612.4h0.9M420.6 622.0h0.9M421.0 618.3h0.9M418.9 620.6h0.9M419.2 614.0h0.9M417.4 609.2h0.9M422.3 606.5h0.9M420.9 598.7h0.9M420.7 603.9h0.9M420.9 609.1h0.9M419.6 609.9h0.9M419.8 611.9h0.9M419.4 619.0h0.9M423.6 596.8h0.9M422.8 610.9h0.9M421.6 606.5h0.9M421.2 615.6h0.9M420.2 605.0h0.9M421.1 614.8h0.9M420.2 598.8h0.9M418.5 614.3h0.9M423.1 606.2h0.9M420.2 605.3h0.9M421.5 607.2h0.9M422.9 615.8h0.9M420.4 609.5h0.9M422.4 609.7h0.9M419.8 612.6h0.9M421.4 620.9h0.9M420.6 604.5h0.9M419.1 610.8h0.9M423.0 596.1h0.9M421.3 614.6h0.9M421.7 603.0h0.9M421.0 608.8h0.9M418.7 615.5h0.9M422.4 613.3h0.9M420.9 618.1h0.9M420.8 609.4h0.9M423.3 608.4h0.9M419.9 614.0h0.9M420.4 606.1h0.9M422.3 612.0h0.9M419.7 608.3h0.9M421.0 617.0h0.9M420.2 619.0h0.9M419.6 621.6h0.9M422.6 605.1h0.9M420.2 613.9h0.9M421.1 606.0h0.9M421.3 611.6h0.9M418.9 604.0h0.9M419.4 617.5h0.9M420.4 613.1h0.9M422.2 610.7h0.9M420.6 611.5h0.9M422.4 608.1h0.9M421.6 607.6h0.9M420.1 618.6h0.9M419.0 614.7h0.9M420.6 613.3h0.9M421.3 612.5h0.9M420.4 622.9h0.9M420.1 605.3h0.9M421.5 614.4h0.9M424.1 608.5h0.9M422.0 608.7h0.9M420.1 608.3h0.9M419.8 606.1h0.9M420.1 610.9h0.9M420.2 616.9h0.9M419.2 611.3h0.9M418.7 616.8h0.9M419.3 609.7h0.9M418.7 618.3h0.9M419.3 604.9h0.9M420.1 609.7h0.9M418.5 618.6h0.9M420.8 599.3h0.9M421.0 604.0h0.9M419.8 608.9h0.9M419.4 609.3h0.9M419.6 615.6h0.9M424.9 608.1h0.9M419.2 618.7h0.9M422.8 616.9h0.9M419.1 623.6h0.9M420.1 619.2h0.9M420.4 604.4h0.9M423.1 606.8h0.9M418.9 612.6h0.9M418.7 615.9h0.9M420.8 610.7h0.9M418.9 620.7h0.9M422.1 619.0h0.9M417.6 621.7h0.9M419.8 622.3h0.9M421.8 608.0h0.9M418.3 607.7h0.9M422.7 609.4h0.9M423.8 604.5h0.9M421.6 611.4h0.9M418.2 614.0h0.9M420.1 610.2h0.9M417.9 605.6h0.9M419.6 611.0h0.9M418.2 624.1h0.9M419.8 613.2h0.9M419.4 619.6h0.9M420.9 618.1h0.9M418.1 612.7h0.9M420.0 615.8h0.9M419.4 612.7h0.9M419.2 609.7h0.9M421.4 609.0h0.9M419.3 611.0h0.9M420.8 614.5h0.9M418.9 609.2h0.9M419.3 605.7h0.9M423.6 619.6h0.9M421.8 610.3h0.9M421.0 621.4h0.9M422.1 616.5h0.9M417.7 626.3h0.9M421.3 617.3h0.9M420.9 614.3h0.9M420.8 601.7h0.9M421.9 627.9h0.9M420.9 616.1h0.9M420.1 616.6h0.9M420.3 611.5h0.9M422.4 601.8h0.9M422.9 609.8h0.9M421.1 615.7h0.9M422.1 622.4h0.9M419.0 606.0h0.9M421.7 602.1h0.9M421.6 611.3h0.9M418.8 617.0h0.9M419.5 607.4h0.9M420.0 617.2h0.9M420.4 609.9h0.9M421.0 609.8h0.9M417.1 617.3h0.9M420.7 618.7h0.9M420.4 614.8h0.9M418.6 603.5h0.9M416.9 618.8h0.9M418.7 619.9h0.9M421.4 609.3h0.9M420.8 607.2h0.9M419.6 614.0h0.9M421.8 609.1h0.9M417.4 618.6h0.9M418.4 616.2h0.9M418.6 606.3h0.9M417.0 615.6h0.9M419.5 630.8h0.9M423.3 613.0h0.9M417.4 610.3h0.9M420.7 614.2h0.9M421.3 605.9h0.9M419.0 623.4h0.9M419.8 609.5h0.9M418.9 608.1h0.9M422.2 614.4h0.9M419.9 609.7h0.9M422.1 608.6h0.9M419.4 610.0h0.9M415.8 618.5h0.9M418.8 616.4h0.9M419.9 618.1h0.9M418.3 626.8h0.9M421.4 610.8h0.9M422.1 599.5h0.9M419.8 599.4h0.9M418.8 625.1h0.9M421.8 603.2h0.9M417.8 614.0h0.9M421.6 610.8h0.9M422.6 613.7h0.9M423.2 617.4h0.9M425.1 596.3h0.9M421.2 616.8h0.9M422.5 615.8h0.9M420.9 614.0h0.9M420.5 615.4h0.9M423.9 602.5h0.9M420.5 603.1h0.9M419.4 613.6h0.9M420.5 614.3h0.9M421.4 614.7h0.9M420.0 611.2h0.9M419.0 609.2h0.9M420.1 614.3h0.9M417.3 618.4h0.9M421.2 602.6h0.9M419.9 615.4h0.9M420.8 609.5h0.9M418.9 613.2h0.9M420.5 613.8h0.9M419.2 619.3h0.9M417.6 611.7h0.9M418.9 600.0h0.9M420.3 617.0h0.9M419.7 614.6h0.9M419.5 618.9h0.9M419.2 615.1h0.9M421.8 602.5h0.9M422.6 608.6h0.9M419.0 607.9h0.9M422.0 609.7h0.9M422.2 606.4h0.9M421.8 601.6h0.9M419.3 619.7h0.9M419.5 613.0h0.9M416.7 621.7h0.9M419.8 614.7h0.9M420.4 605.7h0.9M420.0 609.9h0.9M418.9 610.9h0.9M419.1 608.9h0.9M416.5 605.7h0.9M420.8 613.3h0.9M419.8 614.4h0.9M422.9 614.3h0.9M420.6 611.5h0.9M420.6 615.8h0.9M415.8 624.2h0.9M421.6 614.9h0.9M419.5 611.2h0.9M418.5 619.8h0.9M420.2 602.2h0.9M420.5 606.8h0.9M420.6 612.8h0.9M419.9 602.7h0.9M420.6 604.2h0.9M420.0 613.0h0.9M419.7 612.9h0.9M418.9 621.7h0.9M418.2 605.2h0.9M422.8 604.8h0.9M421.5 610.7h0.9M421.1 603.5h0.9M419.8 611.0h0.9M417.0 611.7h0.9M420.9 598.5h0.9M420.8 609.8h0.9M417.4 618.5h0.9M420.8 605.2h0.9M418.8 613.5h0.9M419.1 616.0h0.9M418.3 613.3h0.9M420.8 615.0h0.9M419.6 606.2h0.9M418.5 612.3h0.9M415.6 628.2h0.9M419.3 619.0h0.9M419.1 619.7h0.9M419.4 617.8h0.9M421.7 613.8h0.9M418.2 614.2h0.9M420.7 610.1h0.9M419.6 616.0h0.9M416.8 614.9h0.9M423.2 608.2h0.9M422.5 609.3h0.9M420.1 609.8h0.9M420.7 607.4h0.9M419.5 610.5h0.9M418.9 611.4h0.9M422.4 607.1h0.9M421.0 607.4h0.9M418.6 611.6h0.9M419.4 617.7h0.9M421.4 612.5h0.9M418.6 619.8h0.9M418.7 607.2h0.9" stroke="#48a530" stroke-opacity="0.55" stroke-width="0.9" fill="none"/>
<rect x="248.1" y="529.2" width="108.9" height="108.29999999999995" fill="none" stroke="#231f20" stroke-width="1.1"/>
<line x1="244.90" y1="529.20" x2="248.10" y2="529.20" stroke="#231f20" stroke-width="1"/>
<text x="242.10" y="531.20" font-size="8.0" text-anchor="end" fill="#222" stroke="#222" stroke-width="0.15">10<tspan font-size="5.8" dx="0.6" dy="-3.6">3</tspan></text>
<line x1="244.90" y1="553.10" x2="248.10" y2="553.10" stroke="#231f20" stroke-width="1"/>
<text x="242.10" y="555.10" font-size="8.0" text-anchor="end" fill="#222" stroke="#222" stroke-width="0.15">10<tspan font-size="5.8" dx="0.6" dy="-3.6">2</tspan></text>
<line x1="244.90" y1="578.20" x2="248.10" y2="578.20" stroke="#231f20" stroke-width="1"/>
<text x="242.10" y="580.20" font-size="8.0" text-anchor="end" fill="#222" stroke="#222" stroke-width="0.15">10<tspan font-size="5.8" dx="0.6" dy="-3.6">1</tspan></text>
<line x1="244.90" y1="606.00" x2="248.10" y2="606.00" stroke="#231f20" stroke-width="1"/>
<text x="242.10" y="608.00" font-size="8.0" text-anchor="end" fill="#222" stroke="#222" stroke-width="0.15">10<tspan font-size="5.8" dx="0.6" dy="-3.6">0</tspan></text>
<line x1="244.90" y1="624.00" x2="248.10" y2="624.00" stroke="#231f20" stroke-width="1"/>
<text x="242.50" y="626.70" font-size="8.0" stroke="#222" stroke-width="0.18" text-anchor="end" fill="#222">0</text>
<line x1="244.90" y1="634.00" x2="248.10" y2="634.00" stroke="#231f20" stroke-width="1"/>
<text x="242.50" y="636.70" font-size="8.0" stroke="#222" stroke-width="0.18" text-anchor="end" fill="#222">−0.5</text>
<line x1="262.00" y1="637.50" x2="262.00" y2="640.50" stroke="#231f20" stroke-width="1"/>
<text x="262.00" y="651.80" font-size="8.0" stroke="#222" stroke-width="0.18" text-anchor="middle" fill="#222">0</text>
<line x1="280.00" y1="637.50" x2="280.00" y2="640.50" stroke="#231f20" stroke-width="1"/>
<text x="275.20" y="651.80" font-size="8.0" fill="#222" stroke="#222" stroke-width="0.15">10<tspan font-size="5.8" dx="0.6" dy="-3.6">0</tspan></text>
<line x1="307.50" y1="637.50" x2="307.50" y2="640.50" stroke="#231f20" stroke-width="1"/>
<text x="302.70" y="651.80" font-size="8.0" fill="#222" stroke="#222" stroke-width="0.15">10<tspan font-size="5.8" dx="0.6" dy="-3.6">1</tspan></text>
<line x1="332.50" y1="637.50" x2="332.50" y2="640.50" stroke="#231f20" stroke-width="1"/>
<text x="327.70" y="651.80" font-size="8.0" fill="#222" stroke="#222" stroke-width="0.15">10<tspan font-size="5.8" dx="0.6" dy="-3.6">2</tspan></text>
<line x1="356.40" y1="637.50" x2="356.40" y2="640.50" stroke="#231f20" stroke-width="1"/>
<text x="351.60" y="651.80" font-size="8.0" fill="#222" stroke="#222" stroke-width="0.15">10<tspan font-size="5.8" dx="0.6" dy="-3.6">3</tspan></text>
<text x="302.80" y="665.60" font-size="8.8" text-anchor="middle" fill="#222" textLength="30.5" lengthAdjust="spacingAndGlyphs" stroke="#222" stroke-width="0.5">CD19-PC7</text>
<text x="220.40" y="583.85" font-size="9.2" text-anchor="middle" fill="#222" textLength="29.6" lengthAdjust="spacingAndGlyphs" transform="rotate(-90 220.40 583.85)" stroke="#222" stroke-width="0.4">CD45-KrO</text>
<line x1="246.10" y1="597.63" x2="248.10" y2="597.63" stroke="#231f20" stroke-width="0.7"/>
<line x1="246.10" y1="592.74" x2="248.10" y2="592.74" stroke="#231f20" stroke-width="0.7"/>
<line x1="246.10" y1="589.26" x2="248.10" y2="589.26" stroke="#231f20" stroke-width="0.7"/>
<line x1="246.10" y1="586.57" x2="248.10" y2="586.57" stroke="#231f20" stroke-width="0.7"/>
<line x1="246.10" y1="584.37" x2="248.10" y2="584.37" stroke="#231f20" stroke-width="0.7"/>
<line x1="246.10" y1="582.51" x2="248.10" y2="582.51" stroke="#231f20" stroke-width="0.7"/>
<line x1="246.10" y1="580.89" x2="248.10" y2="580.89" stroke="#231f20" stroke-width="0.7"/>
<line x1="246.10" y1="579.47" x2="248.10" y2="579.47" stroke="#231f20" stroke-width="0.7"/>
<line x1="246.10" y1="570.64" x2="248.10" y2="570.64" stroke="#231f20" stroke-width="0.7"/>
<line x1="246.10" y1="566.22" x2="248.10" y2="566.22" stroke="#231f20" stroke-width="0.7"/>
<line x1="246.10" y1="563.09" x2="248.10" y2="563.09" stroke="#231f20" stroke-width="0.7"/>
<line x1="246.10" y1="560.66" x2="248.10" y2="560.66" stroke="#231f20" stroke-width="0.7"/>
<line x1="246.10" y1="558.67" x2="248.10" y2="558.67" stroke="#231f20" stroke-width="0.7"/>
<line x1="246.10" y1="556.99" x2="248.10" y2="556.99" stroke="#231f20" stroke-width="0.7"/>
<line x1="246.10" y1="555.53" x2="248.10" y2="555.53" stroke="#231f20" stroke-width="0.7"/>
<line x1="246.10" y1="554.25" x2="248.10" y2="554.25" stroke="#231f20" stroke-width="0.7"/>
<line x1="246.10" y1="545.91" x2="248.10" y2="545.91" stroke="#231f20" stroke-width="0.7"/>
<line x1="246.10" y1="541.70" x2="248.10" y2="541.70" stroke="#231f20" stroke-width="0.7"/>
<line x1="246.10" y1="538.71" x2="248.10" y2="538.71" stroke="#231f20" stroke-width="0.7"/>
<line x1="246.10" y1="536.39" x2="248.10" y2="536.39" stroke="#231f20" stroke-width="0.7"/>
<line x1="246.10" y1="534.50" x2="248.10" y2="534.50" stroke="#231f20" stroke-width="0.7"/>
<line x1="246.10" y1="532.90" x2="248.10" y2="532.90" stroke="#231f20" stroke-width="0.7"/>
<line x1="246.10" y1="531.52" x2="248.10" y2="531.52" stroke="#231f20" stroke-width="0.7"/>
<line x1="246.10" y1="530.29" x2="248.10" y2="530.29" stroke="#231f20" stroke-width="0.7"/>
<line x1="288.28" y1="637.50" x2="288.28" y2="639.50" stroke="#231f20" stroke-width="0.7"/>
<line x1="293.12" y1="637.50" x2="293.12" y2="639.50" stroke="#231f20" stroke-width="0.7"/>
<line x1="296.56" y1="637.50" x2="296.56" y2="639.50" stroke="#231f20" stroke-width="0.7"/>
<line x1="299.22" y1="637.50" x2="299.22" y2="639.50" stroke="#231f20" stroke-width="0.7"/>
<line x1="301.40" y1="637.50" x2="301.40" y2="639.50" stroke="#231f20" stroke-width="0.7"/>
<line x1="303.24" y1="637.50" x2="303.24" y2="639.50" stroke="#231f20" stroke-width="0.7"/>
<line x1="304.83" y1="637.50" x2="304.83" y2="639.50" stroke="#231f20" stroke-width="0.7"/>
<line x1="306.24" y1="637.50" x2="306.24" y2="639.50" stroke="#231f20" stroke-width="0.7"/>
<line x1="315.03" y1="637.50" x2="315.03" y2="639.50" stroke="#231f20" stroke-width="0.7"/>
<line x1="319.43" y1="637.50" x2="319.43" y2="639.50" stroke="#231f20" stroke-width="0.7"/>
<line x1="322.55" y1="637.50" x2="322.55" y2="639.50" stroke="#231f20" stroke-width="0.7"/>
<line x1="324.97" y1="637.50" x2="324.97" y2="639.50" stroke="#231f20" stroke-width="0.7"/>
<line x1="326.95" y1="637.50" x2="326.95" y2="639.50" stroke="#231f20" stroke-width="0.7"/>
<line x1="328.63" y1="637.50" x2="328.63" y2="639.50" stroke="#231f20" stroke-width="0.7"/>
<line x1="330.08" y1="637.50" x2="330.08" y2="639.50" stroke="#231f20" stroke-width="0.7"/>
<line x1="331.36" y1="637.50" x2="331.36" y2="639.50" stroke="#231f20" stroke-width="0.7"/>
<line x1="339.69" y1="637.50" x2="339.69" y2="639.50" stroke="#231f20" stroke-width="0.7"/>
<line x1="343.90" y1="637.50" x2="343.90" y2="639.50" stroke="#231f20" stroke-width="0.7"/>
<line x1="346.89" y1="637.50" x2="346.89" y2="639.50" stroke="#231f20" stroke-width="0.7"/>
<line x1="349.21" y1="637.50" x2="349.21" y2="639.50" stroke="#231f20" stroke-width="0.7"/>
<line x1="351.10" y1="637.50" x2="351.10" y2="639.50" stroke="#231f20" stroke-width="0.7"/>
<line x1="352.70" y1="637.50" x2="352.70" y2="639.50" stroke="#231f20" stroke-width="0.7"/>
<line x1="354.08" y1="637.50" x2="354.08" y2="639.50" stroke="#231f20" stroke-width="0.7"/>
<line x1="355.31" y1="637.50" x2="355.31" y2="639.50" stroke="#231f20" stroke-width="0.7"/>
<rect x="404.6" y="529.2" width="108.79999999999995" height="108.29999999999995" fill="none" stroke="#231f20" stroke-width="1.1"/>
<line x1="401.40" y1="529.20" x2="404.60" y2="529.20" stroke="#231f20" stroke-width="1"/>
<text x="398.60" y="531.20" font-size="8.0" text-anchor="end" fill="#222" stroke="#222" stroke-width="0.15">10<tspan font-size="5.8" dx="0.6" dy="-3.6">3</tspan></text>
<line x1="401.40" y1="553.10" x2="404.60" y2="553.10" stroke="#231f20" stroke-width="1"/>
<text x="398.60" y="555.10" font-size="8.0" text-anchor="end" fill="#222" stroke="#222" stroke-width="0.15">10<tspan font-size="5.8" dx="0.6" dy="-3.6">2</tspan></text>
<line x1="401.40" y1="578.50" x2="404.60" y2="578.50" stroke="#231f20" stroke-width="1"/>
<text x="398.60" y="580.50" font-size="8.0" text-anchor="end" fill="#222" stroke="#222" stroke-width="0.15">10<tspan font-size="5.8" dx="0.6" dy="-3.6">1</tspan></text>
<line x1="401.40" y1="604.00" x2="404.60" y2="604.00" stroke="#231f20" stroke-width="1"/>
<text x="398.60" y="606.00" font-size="8.0" text-anchor="end" fill="#222" stroke="#222" stroke-width="0.15">10<tspan font-size="5.8" dx="0.6" dy="-3.6">0</tspan></text>
<line x1="401.40" y1="626.50" x2="404.60" y2="626.50" stroke="#231f20" stroke-width="1"/>
<text x="399.00" y="629.20" font-size="8.0" stroke="#222" stroke-width="0.18" text-anchor="end" fill="#222">0</text>
<line x1="419.00" y1="637.50" x2="419.00" y2="640.50" stroke="#231f20" stroke-width="1"/>
<text x="419.00" y="651.80" font-size="8.0" stroke="#222" stroke-width="0.18" text-anchor="middle" fill="#222">0</text>
<line x1="438.40" y1="637.50" x2="438.40" y2="640.50" stroke="#231f20" stroke-width="1"/>
<text x="433.60" y="651.80" font-size="8.0" fill="#222" stroke="#222" stroke-width="0.15">10<tspan font-size="5.8" dx="0.6" dy="-3.6">0</tspan></text>
<line x1="465.20" y1="637.50" x2="465.20" y2="640.50" stroke="#231f20" stroke-width="1"/>
<text x="460.40" y="651.80" font-size="8.0" fill="#222" stroke="#222" stroke-width="0.15">10<tspan font-size="5.8" dx="0.6" dy="-3.6">1</tspan></text>
<line x1="489.00" y1="637.50" x2="489.00" y2="640.50" stroke="#231f20" stroke-width="1"/>
<text x="484.20" y="651.80" font-size="8.0" fill="#222" stroke="#222" stroke-width="0.15">10<tspan font-size="5.8" dx="0.6" dy="-3.6">2</tspan></text>
<line x1="512.80" y1="637.50" x2="512.80" y2="640.50" stroke="#231f20" stroke-width="1"/>
<text x="508.00" y="651.80" font-size="8.0" fill="#222" stroke="#222" stroke-width="0.15">10<tspan font-size="5.8" dx="0.6" dy="-3.6">3</tspan></text>
<text x="458.80" y="665.60" font-size="8.8" text-anchor="middle" fill="#222" textLength="30.5" lengthAdjust="spacingAndGlyphs" stroke="#222" stroke-width="0.5">CD19-PC7</text>
<text x="380.30" y="583.85" font-size="9.2" text-anchor="middle" fill="#222" textLength="47.6" lengthAdjust="spacingAndGlyphs" transform="rotate(-90 380.30 583.85)" stroke="#222" stroke-width="0.4">CD10-PE-CF594</text>
<line x1="402.60" y1="596.32" x2="404.60" y2="596.32" stroke="#231f20" stroke-width="0.7"/>
<line x1="402.60" y1="591.83" x2="404.60" y2="591.83" stroke="#231f20" stroke-width="0.7"/>
<line x1="402.60" y1="588.65" x2="404.60" y2="588.65" stroke="#231f20" stroke-width="0.7"/>
<line x1="402.60" y1="586.18" x2="404.60" y2="586.18" stroke="#231f20" stroke-width="0.7"/>
<line x1="402.60" y1="584.16" x2="404.60" y2="584.16" stroke="#231f20" stroke-width="0.7"/>
<line x1="402.60" y1="582.45" x2="404.60" y2="582.45" stroke="#231f20" stroke-width="0.7"/>
<line x1="402.60" y1="580.97" x2="404.60" y2="580.97" stroke="#231f20" stroke-width="0.7"/>
<line x1="402.60" y1="579.67" x2="404.60" y2="579.67" stroke="#231f20" stroke-width="0.7"/>
<line x1="402.60" y1="570.85" x2="404.60" y2="570.85" stroke="#231f20" stroke-width="0.7"/>
<line x1="402.60" y1="566.38" x2="404.60" y2="566.38" stroke="#231f20" stroke-width="0.7"/>
<line x1="402.60" y1="563.21" x2="404.60" y2="563.21" stroke="#231f20" stroke-width="0.7"/>
<line x1="402.60" y1="560.75" x2="404.60" y2="560.75" stroke="#231f20" stroke-width="0.7"/>
<line x1="402.60" y1="558.73" x2="404.60" y2="558.73" stroke="#231f20" stroke-width="0.7"/>
<line x1="402.60" y1="557.03" x2="404.60" y2="557.03" stroke="#231f20" stroke-width="0.7"/>
<line x1="402.60" y1="555.56" x2="404.60" y2="555.56" stroke="#231f20" stroke-width="0.7"/>
<line x1="402.60" y1="554.26" x2="404.60" y2="554.26" stroke="#231f20" stroke-width="0.7"/>
<line x1="402.60" y1="545.91" x2="404.60" y2="545.91" stroke="#231f20" stroke-width="0.7"/>
<line x1="402.60" y1="541.70" x2="404.60" y2="541.70" stroke="#231f20" stroke-width="0.7"/>
<line x1="402.60" y1="538.71" x2="404.60" y2="538.71" stroke="#231f20" stroke-width="0.7"/>
<line x1="402.60" y1="536.39" x2="404.60" y2="536.39" stroke="#231f20" stroke-width="0.7"/>
<line x1="402.60" y1="534.50" x2="404.60" y2="534.50" stroke="#231f20" stroke-width="0.7"/>
<line x1="402.60" y1="532.90" x2="404.60" y2="532.90" stroke="#231f20" stroke-width="0.7"/>
<line x1="402.60" y1="531.52" x2="404.60" y2="531.52" stroke="#231f20" stroke-width="0.7"/>
<line x1="402.60" y1="530.29" x2="404.60" y2="530.29" stroke="#231f20" stroke-width="0.7"/>
<line x1="446.47" y1="637.50" x2="446.47" y2="639.50" stroke="#231f20" stroke-width="0.7"/>
<line x1="451.19" y1="637.50" x2="451.19" y2="639.50" stroke="#231f20" stroke-width="0.7"/>
<line x1="454.54" y1="637.50" x2="454.54" y2="639.50" stroke="#231f20" stroke-width="0.7"/>
<line x1="457.13" y1="637.50" x2="457.13" y2="639.50" stroke="#231f20" stroke-width="0.7"/>
<line x1="459.25" y1="637.50" x2="459.25" y2="639.50" stroke="#231f20" stroke-width="0.7"/>
<line x1="461.05" y1="637.50" x2="461.05" y2="639.50" stroke="#231f20" stroke-width="0.7"/>
<line x1="462.60" y1="637.50" x2="462.60" y2="639.50" stroke="#231f20" stroke-width="0.7"/>
<line x1="463.97" y1="637.50" x2="463.97" y2="639.50" stroke="#231f20" stroke-width="0.7"/>
<line x1="472.36" y1="637.50" x2="472.36" y2="639.50" stroke="#231f20" stroke-width="0.7"/>
<line x1="476.56" y1="637.50" x2="476.56" y2="639.50" stroke="#231f20" stroke-width="0.7"/>
<line x1="479.53" y1="637.50" x2="479.53" y2="639.50" stroke="#231f20" stroke-width="0.7"/>
<line x1="481.84" y1="637.50" x2="481.84" y2="639.50" stroke="#231f20" stroke-width="0.7"/>
<line x1="483.72" y1="637.50" x2="483.72" y2="639.50" stroke="#231f20" stroke-width="0.7"/>
<line x1="485.31" y1="637.50" x2="485.31" y2="639.50" stroke="#231f20" stroke-width="0.7"/>
<line x1="486.69" y1="637.50" x2="486.69" y2="639.50" stroke="#231f20" stroke-width="0.7"/>
<line x1="487.91" y1="637.50" x2="487.91" y2="639.50" stroke="#231f20" stroke-width="0.7"/>
<line x1="496.16" y1="637.50" x2="496.16" y2="639.50" stroke="#231f20" stroke-width="0.7"/>
<line x1="500.36" y1="637.50" x2="500.36" y2="639.50" stroke="#231f20" stroke-width="0.7"/>
<line x1="503.33" y1="637.50" x2="503.33" y2="639.50" stroke="#231f20" stroke-width="0.7"/>
<line x1="505.64" y1="637.50" x2="505.64" y2="639.50" stroke="#231f20" stroke-width="0.7"/>
<line x1="507.52" y1="637.50" x2="507.52" y2="639.50" stroke="#231f20" stroke-width="0.7"/>
<line x1="509.11" y1="637.50" x2="509.11" y2="639.50" stroke="#231f20" stroke-width="0.7"/>
<line x1="510.49" y1="637.50" x2="510.49" y2="639.50" stroke="#231f20" stroke-width="0.7"/>
<line x1="511.71" y1="637.50" x2="511.71" y2="639.50" stroke="#231f20" stroke-width="0.7"/>
</svg>
</body></html>
